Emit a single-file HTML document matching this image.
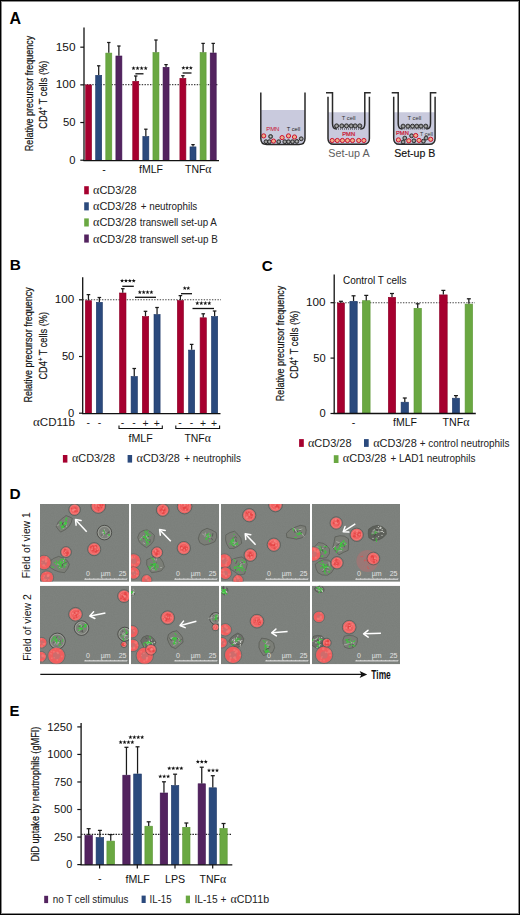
<!DOCTYPE html>
<html><head><meta charset="utf-8"><title>Figure</title>
<style>
html,body{margin:0;padding:0;background:#fff;}
body{width:520px;height:915px;overflow:hidden;}
svg{display:block;font-family:"Liberation Sans", sans-serif;}
</style></head>
<body>
<svg width="520" height="915" viewBox="0 0 520 915">
<rect width="520" height="915" fill="#fff"/>
<text x="9.6" y="23.5" font-size="16" fill="#000" font-weight="bold">A</text>
<line x1="84" y1="27.5" x2="84" y2="161" stroke="#111" stroke-width="1.3"/>
<line x1="80.3" y1="160.2" x2="84" y2="160.2" stroke="#111" stroke-width="1.2"/>
<line x1="80.3" y1="122.52499999999999" x2="84" y2="122.52499999999999" stroke="#111" stroke-width="1.2"/>
<line x1="80.3" y1="84.85" x2="84" y2="84.85" stroke="#111" stroke-width="1.2"/>
<line x1="80.3" y1="47.175" x2="84" y2="47.175" stroke="#111" stroke-width="1.2"/>
<text x="75.5" y="50.574999999999996" font-size="10.0" fill="#111" text-anchor="end" textLength="19.8" lengthAdjust="spacingAndGlyphs">150</text>
<text x="75.5" y="88.25" font-size="10.0" fill="#111" text-anchor="end" textLength="19.8" lengthAdjust="spacingAndGlyphs">100</text>
<text x="75.5" y="125.925" font-size="10.0" fill="#111" text-anchor="end" textLength="12.5" lengthAdjust="spacingAndGlyphs">50</text>
<text x="75.5" y="163.6" font-size="10.0" fill="#111" text-anchor="end" textLength="6.2" lengthAdjust="spacingAndGlyphs">0</text>
<text transform="translate(33.2,93.4) rotate(-90)" x="0" y="0" font-size="11.2" fill="#111" text-anchor="middle" stroke="#111" stroke-width="0.2" textLength="115.5" lengthAdjust="spacingAndGlyphs">Relative precursor frequency</text>
<text transform="translate(47.3,94.7) rotate(-90)" x="0" y="0" font-size="11.2" fill="#111" text-anchor="middle" stroke="#111" stroke-width="0.2" textLength="68" lengthAdjust="spacingAndGlyphs">CD4<tspan font-size="7" dy="-4">+</tspan><tspan dy="4"> T cells (%)</tspan></text>
<line x1="84" y1="84.6" x2="218.5" y2="84.6" stroke="#444" stroke-width="1.1" stroke-dasharray="1.4 1.35"/>
<rect x="85.60" y="84.90" width="6.00" height="75.30" fill="#a6002f" stroke="#8c0027" stroke-width="0.6"/>
<rect x="95.70" y="75.30" width="6.00" height="84.90" fill="#2b4a7d" stroke="#1d3866" stroke-width="0.6"/>
<line x1="98.69999999999999" y1="75" x2="98.69999999999999" y2="65.8" stroke="#1a1a1a" stroke-width="1.25"/>
<line x1="96.99999999999999" y1="65.8" x2="100.39999999999999" y2="65.8" stroke="#1a1a1a" stroke-width="1.25"/>
<rect x="105.80" y="53.10" width="6.00" height="107.10" fill="#6aa842" stroke="#5a9634" stroke-width="0.6"/>
<line x1="108.8" y1="52.8" x2="108.8" y2="42.5" stroke="#1a1a1a" stroke-width="1.25"/>
<line x1="107.1" y1="42.5" x2="110.5" y2="42.5" stroke="#1a1a1a" stroke-width="1.25"/>
<rect x="115.90" y="56.00" width="6.00" height="104.20" fill="#53235f" stroke="#3f1450" stroke-width="0.6"/>
<line x1="118.89999999999999" y1="55.7" x2="118.89999999999999" y2="46" stroke="#1a1a1a" stroke-width="1.25"/>
<line x1="117.19999999999999" y1="46" x2="120.6" y2="46" stroke="#1a1a1a" stroke-width="1.25"/>
<rect x="132.75" y="81.30" width="6.00" height="78.90" fill="#a6002f" stroke="#8c0027" stroke-width="0.6"/>
<line x1="135.75" y1="81" x2="135.75" y2="76" stroke="#1a1a1a" stroke-width="1.25"/>
<line x1="134.05" y1="76" x2="137.45" y2="76" stroke="#1a1a1a" stroke-width="1.25"/>
<rect x="142.85" y="136.50" width="6.00" height="23.70" fill="#2b4a7d" stroke="#1d3866" stroke-width="0.6"/>
<line x1="145.84999999999997" y1="136.2" x2="145.84999999999997" y2="129.2" stroke="#1a1a1a" stroke-width="1.25"/>
<line x1="144.14999999999998" y1="129.2" x2="147.54999999999995" y2="129.2" stroke="#1a1a1a" stroke-width="1.25"/>
<rect x="152.95" y="52.60" width="6.00" height="107.60" fill="#6aa842" stroke="#5a9634" stroke-width="0.6"/>
<line x1="155.95" y1="52.3" x2="155.95" y2="40" stroke="#1a1a1a" stroke-width="1.25"/>
<line x1="154.25" y1="40" x2="157.64999999999998" y2="40" stroke="#1a1a1a" stroke-width="1.25"/>
<rect x="163.05" y="67.30" width="6.00" height="92.90" fill="#53235f" stroke="#3f1450" stroke-width="0.6"/>
<line x1="166.05" y1="67" x2="166.05" y2="64.6" stroke="#1a1a1a" stroke-width="1.25"/>
<line x1="164.35000000000002" y1="64.6" x2="167.75" y2="64.6" stroke="#1a1a1a" stroke-width="1.25"/>
<rect x="179.90" y="78.30" width="6.00" height="81.90" fill="#a6002f" stroke="#8c0027" stroke-width="0.6"/>
<line x1="182.89999999999998" y1="78" x2="182.89999999999998" y2="75.7" stroke="#1a1a1a" stroke-width="1.25"/>
<line x1="181.2" y1="75.7" x2="184.59999999999997" y2="75.7" stroke="#1a1a1a" stroke-width="1.25"/>
<rect x="190.00" y="146.90" width="6.00" height="13.30" fill="#2b4a7d" stroke="#1d3866" stroke-width="0.6"/>
<line x1="193.0" y1="146.6" x2="193.0" y2="144.6" stroke="#1a1a1a" stroke-width="1.25"/>
<line x1="191.3" y1="144.6" x2="194.7" y2="144.6" stroke="#1a1a1a" stroke-width="1.25"/>
<rect x="200.10" y="52.60" width="6.00" height="107.60" fill="#6aa842" stroke="#5a9634" stroke-width="0.6"/>
<line x1="203.09999999999997" y1="52.3" x2="203.09999999999997" y2="43.4" stroke="#1a1a1a" stroke-width="1.25"/>
<line x1="201.39999999999998" y1="43.4" x2="204.79999999999995" y2="43.4" stroke="#1a1a1a" stroke-width="1.25"/>
<rect x="210.20" y="53.00" width="6.00" height="107.20" fill="#53235f" stroke="#3f1450" stroke-width="0.6"/>
<line x1="213.2" y1="52.7" x2="213.2" y2="43.4" stroke="#1a1a1a" stroke-width="1.25"/>
<line x1="211.5" y1="43.4" x2="214.89999999999998" y2="43.4" stroke="#1a1a1a" stroke-width="1.25"/>
<line x1="83.4" y1="160.6" x2="219" y2="160.6" stroke="#111" stroke-width="1.3"/>
<path d="M133.50,66.10 L134.03,67.52 L135.54,67.59 L134.36,68.53 L134.76,69.99 L133.50,69.15 L132.24,69.99 L132.64,68.53 L131.46,67.59 L132.97,67.52Z M137.57,66.10 L138.10,67.52 L139.61,67.59 L138.42,68.53 L138.83,69.99 L137.57,69.15 L136.30,69.99 L136.71,68.53 L135.52,67.59 L137.04,67.52Z M141.63,66.10 L142.16,67.52 L143.68,67.59 L142.49,68.53 L142.90,69.99 L141.63,69.15 L140.37,69.99 L140.78,68.53 L139.59,67.59 L141.10,67.52Z M145.70,66.10 L146.23,67.52 L147.74,67.59 L146.56,68.53 L146.96,69.99 L145.70,69.15 L144.44,69.99 L144.84,68.53 L143.66,67.59 L145.17,67.52Z" fill="#111"/>
<line x1="135.4" y1="73.8" x2="143.5" y2="73.8" stroke="#111" stroke-width="1.3"/>
<path d="M183.35,65.80 L183.88,67.22 L185.39,67.29 L184.21,68.23 L184.61,69.69 L183.35,68.85 L182.09,69.69 L182.49,68.23 L181.31,67.29 L182.82,67.22Z M187.10,65.80 L187.63,67.22 L189.14,67.29 L187.96,68.23 L188.36,69.69 L187.10,68.85 L185.84,69.69 L186.24,68.23 L185.06,67.29 L186.57,67.22Z M190.85,65.80 L191.38,67.22 L192.89,67.29 L191.71,68.23 L192.11,69.69 L190.85,68.85 L189.59,69.69 L189.99,68.23 L188.81,67.29 L190.32,67.22Z" fill="#111"/>
<line x1="182.6" y1="73.0" x2="191.5" y2="73.0" stroke="#111" stroke-width="1.3"/>
<text x="103.9" y="172.6" font-size="10.5" fill="#111" text-anchor="middle">-</text>
<text x="139" y="173.4" font-size="10.8" fill="#111" textLength="24" lengthAdjust="spacingAndGlyphs">fMLF</text>
<text x="185" y="173.4" font-size="10.8" fill="#111" textLength="26.5" lengthAdjust="spacingAndGlyphs">TNF<tspan font-family="Liberation Serif" font-size="12.1">α</tspan></text>
<rect x="84.20" y="186.20" width="4.60" height="8.10" fill="#a6002f"/>
<text x="93.0" y="194.2" font-size="10.3" fill="#222" textLength="43.6" lengthAdjust="spacingAndGlyphs"><tspan font-family="Liberation Serif" font-size="11.5">α</tspan>CD3/28</text>
<rect x="84.20" y="202.30" width="4.60" height="8.10" fill="#2b4a7d"/>
<text x="93.0" y="210.29999999999998" font-size="10.3" fill="#222" textLength="43.6" lengthAdjust="spacingAndGlyphs"><tspan font-family="Liberation Serif" font-size="11.5">α</tspan>CD3/28</text>
<text x="140.7" y="210.29999999999998" font-size="10.3" fill="#222" textLength="56.6" lengthAdjust="spacingAndGlyphs">+ neutrophils</text>
<rect x="84.20" y="218.40" width="4.60" height="8.10" fill="#6aa842"/>
<text x="93.0" y="226.39999999999998" font-size="10.3" fill="#222" textLength="43.6" lengthAdjust="spacingAndGlyphs"><tspan font-family="Liberation Serif" font-size="11.5">α</tspan>CD3/28</text>
<text x="139.7" y="226.39999999999998" font-size="10.3" fill="#222" textLength="77.2" lengthAdjust="spacingAndGlyphs">transwell set-up A</text>
<rect x="84.20" y="234.50" width="4.60" height="8.10" fill="#53235f"/>
<text x="93.0" y="242.5" font-size="10.3" fill="#222" textLength="43.6" lengthAdjust="spacingAndGlyphs"><tspan font-family="Liberation Serif" font-size="11.5">α</tspan>CD3/28</text>
<text x="139.7" y="242.5" font-size="10.3" fill="#222" textLength="78.1" lengthAdjust="spacingAndGlyphs">transwell set-up B</text>
<path d="M260.8,110 V138.5 Q260.8,144.5 266.8,144.5 H299 Q305,144.5 305,138.5 V110 Z" fill="#c9cadd"/>
<text x="272.8" y="130.8" font-size="6.2" fill="#c8102e" text-anchor="middle" textLength="13.3" lengthAdjust="spacingAndGlyphs">PMN</text>
<text x="293.5" y="130.8" font-size="6.2" fill="#222" text-anchor="middle" textLength="13.5" lengthAdjust="spacingAndGlyphs">T cell</text>
<circle cx="266.0" cy="141.7" r="1.95" fill="#8a8a8a" stroke="#222" stroke-width="0.9"/><circle cx="266.0" cy="141.7" r="0.5" fill="#ddd"/>
<circle cx="269.4" cy="141.7" r="1.95" fill="#8a8a8a" stroke="#222" stroke-width="0.9"/><circle cx="269.4" cy="141.7" r="0.5" fill="#ddd"/>
<circle cx="278.7" cy="141.7" r="1.95" fill="#8a8a8a" stroke="#222" stroke-width="0.9"/><circle cx="278.7" cy="141.7" r="0.5" fill="#ddd"/>
<circle cx="284.8" cy="141.7" r="1.95" fill="#8a8a8a" stroke="#222" stroke-width="0.9"/><circle cx="284.8" cy="141.7" r="0.5" fill="#ddd"/>
<circle cx="288.5" cy="141.7" r="1.95" fill="#8a8a8a" stroke="#222" stroke-width="0.9"/><circle cx="288.5" cy="141.7" r="0.5" fill="#ddd"/>
<circle cx="292.5" cy="141.7" r="1.95" fill="#8a8a8a" stroke="#222" stroke-width="0.9"/><circle cx="292.5" cy="141.7" r="0.5" fill="#ddd"/>
<circle cx="296.8" cy="141.4" r="1.95" fill="#8a8a8a" stroke="#222" stroke-width="0.9"/><circle cx="296.8" cy="141.4" r="0.5" fill="#ddd"/>
<circle cx="301.2" cy="138.8" r="1.95" fill="#8a8a8a" stroke="#222" stroke-width="0.9"/><circle cx="301.2" cy="138.8" r="0.5" fill="#ddd"/>
<circle cx="270.6" cy="136.5" r="1.95" fill="#8a8a8a" stroke="#222" stroke-width="0.9"/><circle cx="270.6" cy="136.5" r="0.5" fill="#ddd"/>
<circle cx="263.7" cy="135.9" r="2.1" fill="#eeb08a" stroke="#cc1030" stroke-width="1.0"/>
<circle cx="273.5" cy="141.1" r="2.1" fill="#eeb08a" stroke="#cc1030" stroke-width="1.0"/>
<circle cx="282.1" cy="137.6" r="2.1" fill="#eeb08a" stroke="#cc1030" stroke-width="1.0"/>
<circle cx="288.5" cy="135.9" r="2.1" fill="#eeb08a" stroke="#cc1030" stroke-width="1.0"/>
<circle cx="294.5" cy="137.0" r="2.1" fill="#eeb08a" stroke="#cc1030" stroke-width="1.0"/>
<path d="M260.8,92.4 V138.5 Q260.8,144.5 266.8,144.5 H299 Q305,144.5 305,138.5 V92.4" fill="none" stroke="#2a2a2a" stroke-width="1.5"/>
<path d="M328,112.2 V138.5 Q328,144.3 333.8,144.3 H363.59999999999997 Q369.4,144.3 369.4,138.5 V112.2 Z" fill="#c9cadd"/>
<text x="348.65" y="119.5" font-size="5.8" fill="#333" text-anchor="middle" textLength="13.7" lengthAdjust="spacingAndGlyphs">T cell</text>
<circle cx="336.6" cy="125.9" r="2.05" fill="#8a8a8a" stroke="#222" stroke-width="0.9"/><circle cx="336.6" cy="125.9" r="0.5" fill="#ddd"/>
<circle cx="341.8" cy="125.9" r="2.05" fill="#8a8a8a" stroke="#222" stroke-width="0.9"/><circle cx="341.8" cy="125.9" r="0.5" fill="#ddd"/>
<circle cx="346.5" cy="125.9" r="2.05" fill="#8a8a8a" stroke="#222" stroke-width="0.9"/><circle cx="346.5" cy="125.9" r="0.5" fill="#ddd"/>
<circle cx="351.2" cy="125.9" r="2.05" fill="#8a8a8a" stroke="#222" stroke-width="0.9"/><circle cx="351.2" cy="125.9" r="0.5" fill="#ddd"/>
<circle cx="355.2" cy="125.9" r="2.05" fill="#8a8a8a" stroke="#222" stroke-width="0.9"/><circle cx="355.2" cy="125.9" r="0.5" fill="#ddd"/>
<circle cx="359.8" cy="125.9" r="2.05" fill="#8a8a8a" stroke="#222" stroke-width="0.9"/><circle cx="359.8" cy="125.9" r="0.5" fill="#ddd"/>
<line x1="336.1" y1="129" x2="361.19999999999993" y2="129" stroke="#111" stroke-width="0.9" stroke-dasharray="0.9 1.1"/>
<text x="348.65" y="136.3" font-size="5.8" fill="#c8102e" text-anchor="middle" textLength="12.8" lengthAdjust="spacingAndGlyphs" stroke="#c8102e" stroke-width="0.2">PMN</text>
<circle cx="332.2" cy="140.5" r="2.1" fill="#eeb08a" stroke="#cc1030" stroke-width="1.0"/>
<circle cx="337.3" cy="140.5" r="2.1" fill="#eeb08a" stroke="#cc1030" stroke-width="1.0"/>
<circle cx="342.4" cy="140.5" r="2.1" fill="#eeb08a" stroke="#cc1030" stroke-width="1.0"/>
<circle cx="347.5" cy="140.5" r="2.1" fill="#eeb08a" stroke="#cc1030" stroke-width="1.0"/>
<circle cx="352.5" cy="140.5" r="2.1" fill="#eeb08a" stroke="#cc1030" stroke-width="1.0"/>
<circle cx="358.7" cy="140.5" r="2.1" fill="#eeb08a" stroke="#cc1030" stroke-width="1.0"/>
<circle cx="363.9" cy="140.5" r="2.1" fill="#eeb08a" stroke="#cc1030" stroke-width="1.0"/>
<path d="M328,96.7 V138.5 Q328,144.3 333.8,144.3 H363.59999999999997 Q369.4,144.3 369.4,138.5 V96.7" fill="none" stroke="#2a2a2a" stroke-width="1.5"/>
<path d="M326,92.7 H332.5 V123.5 Q332.5,129 336.5,129" fill="none" stroke="#2a2a2a" stroke-width="1.5"/>
<path d="M360.79999999999995,129 Q364.79999999999995,129 364.79999999999995,123.5 V92.7 H370.7" fill="none" stroke="#2a2a2a" stroke-width="1.5"/>
<path d="M393.7,112.2 V138.5 Q393.7,144.3 399.5,144.3 H429.29999999999995 Q435.09999999999997,144.3 435.09999999999997,138.5 V112.2 Z" fill="#c9cadd"/>
<text x="414.34999999999997" y="119.5" font-size="5.8" fill="#333" text-anchor="middle" textLength="13.7" lengthAdjust="spacingAndGlyphs">T cell</text>
<circle cx="403.1" cy="126.2" r="2.05" fill="#8a8a8a" stroke="#222" stroke-width="0.9"/><circle cx="403.1" cy="126.2" r="0.5" fill="#ddd"/>
<circle cx="407.9" cy="126.2" r="2.05" fill="#8a8a8a" stroke="#222" stroke-width="0.9"/><circle cx="407.9" cy="126.2" r="0.5" fill="#ddd"/>
<circle cx="412.5" cy="126.2" r="2.05" fill="#8a8a8a" stroke="#222" stroke-width="0.9"/><circle cx="412.5" cy="126.2" r="0.5" fill="#ddd"/>
<circle cx="416.8" cy="126.2" r="2.05" fill="#8a8a8a" stroke="#222" stroke-width="0.9"/><circle cx="416.8" cy="126.2" r="0.5" fill="#ddd"/>
<circle cx="421.0" cy="126.2" r="2.05" fill="#8a8a8a" stroke="#222" stroke-width="0.9"/><circle cx="421.0" cy="126.2" r="0.5" fill="#ddd"/>
<circle cx="425.8" cy="126.2" r="2.05" fill="#8a8a8a" stroke="#222" stroke-width="0.9"/><circle cx="425.8" cy="126.2" r="0.5" fill="#ddd"/>
<line x1="401.8" y1="128.9" x2="426.8999999999999" y2="128.9" stroke="#111" stroke-width="0.9" stroke-dasharray="0.9 1.1"/>
<text x="402.4" y="135.4" font-size="5.8" fill="#c8102e" text-anchor="middle" textLength="12.8" lengthAdjust="spacingAndGlyphs" stroke="#c8102e" stroke-width="0.2">PMN</text>
<text x="426.5" y="135.6" font-size="5.8" fill="#333" text-anchor="middle" textLength="12.8" lengthAdjust="spacingAndGlyphs">T cell</text>
<circle cx="411.6" cy="135.8" r="1.95" fill="#8a8a8a" stroke="#222" stroke-width="0.9"/><circle cx="411.6" cy="135.8" r="0.5" fill="#ddd"/>
<circle cx="404.8" cy="138.1" r="1.95" fill="#8a8a8a" stroke="#222" stroke-width="0.9"/><circle cx="404.8" cy="138.1" r="0.5" fill="#ddd"/>
<circle cx="403.1" cy="142.0" r="1.95" fill="#8a8a8a" stroke="#222" stroke-width="0.9"/><circle cx="403.1" cy="142.0" r="0.5" fill="#ddd"/>
<circle cx="413.9" cy="140.8" r="1.95" fill="#8a8a8a" stroke="#222" stroke-width="0.9"/><circle cx="413.9" cy="140.8" r="0.5" fill="#ddd"/>
<circle cx="423.4" cy="141.2" r="1.95" fill="#8a8a8a" stroke="#222" stroke-width="0.9"/><circle cx="423.4" cy="141.2" r="0.5" fill="#ddd"/>
<circle cx="426.1" cy="138.1" r="1.95" fill="#8a8a8a" stroke="#222" stroke-width="0.9"/><circle cx="426.1" cy="138.1" r="0.5" fill="#ddd"/>
<circle cx="415.7" cy="135.5" r="2.1" fill="#eeb08a" stroke="#cc1030" stroke-width="1.0"/>
<circle cx="398.4" cy="139.9" r="2.1" fill="#eeb08a" stroke="#cc1030" stroke-width="1.0"/>
<circle cx="408.8" cy="140.8" r="2.1" fill="#eeb08a" stroke="#cc1030" stroke-width="1.0"/>
<circle cx="419.0" cy="140.4" r="2.1" fill="#eeb08a" stroke="#cc1030" stroke-width="1.0"/>
<circle cx="430.7" cy="139.3" r="2.1" fill="#eeb08a" stroke="#cc1030" stroke-width="1.0"/>
<path d="M393.7,96.7 V138.5 Q393.7,144.3 399.5,144.3 H429.29999999999995 Q435.09999999999997,144.3 435.09999999999997,138.5 V96.7" fill="none" stroke="#2a2a2a" stroke-width="1.5"/>
<path d="M391.7,92.7 H398.2 V123.5 Q398.2,129 402.2,129" fill="none" stroke="#2a2a2a" stroke-width="1.5"/>
<path d="M426.49999999999994,129 Q430.49999999999994,129 430.49999999999994,123.5 V92.7 H436.4" fill="none" stroke="#2a2a2a" stroke-width="1.5"/>
<text x="328.2" y="157.3" font-size="10.6" fill="#5e5e5e" textLength="41.4" lengthAdjust="spacingAndGlyphs">Set-up A</text>
<text x="394.2" y="157.3" font-size="10.6" fill="#111" textLength="41.2" lengthAdjust="spacingAndGlyphs" stroke="#111" stroke-width="0.15">Set-up B</text>
<text x="9.8" y="270.2" font-size="15.4" fill="#000" font-weight="bold">B</text>
<line x1="82.7" y1="277.3" x2="82.7" y2="413.8" stroke="#111" stroke-width="1.3"/>
<line x1="79" y1="413.2" x2="82.7" y2="413.2" stroke="#111" stroke-width="1.2"/>
<line x1="79" y1="356.5" x2="82.7" y2="356.5" stroke="#111" stroke-width="1.2"/>
<line x1="79" y1="299.8" x2="82.7" y2="299.8" stroke="#111" stroke-width="1.2"/>
<text x="74.3" y="303.2" font-size="10.0" fill="#111" text-anchor="end" textLength="19.5" lengthAdjust="spacingAndGlyphs">100</text>
<text x="74.3" y="359.9" font-size="10.0" fill="#111" text-anchor="end" textLength="12.4" lengthAdjust="spacingAndGlyphs">50</text>
<text x="74.3" y="416.59999999999997" font-size="10.0" fill="#111" text-anchor="end" textLength="6.2" lengthAdjust="spacingAndGlyphs">0</text>
<text transform="translate(32.4,344.9) rotate(-90)" x="0" y="0" font-size="11.2" fill="#111" text-anchor="middle" stroke="#111" stroke-width="0.2" textLength="115.3" lengthAdjust="spacingAndGlyphs">Relative precursor frequency</text>
<text transform="translate(46.5,345.7) rotate(-90)" x="0" y="0" font-size="11.2" fill="#111" text-anchor="middle" stroke="#111" stroke-width="0.2" textLength="67.7" lengthAdjust="spacingAndGlyphs">CD4<tspan font-size="7" dy="-4">+</tspan><tspan dy="4"> T cells (%)</tspan></text>
<line x1="82.7" y1="299.8" x2="221" y2="299.8" stroke="#444" stroke-width="1.1" stroke-dasharray="1.4 1.35"/>
<rect x="85.30" y="300.70" width="6.30" height="112.50" fill="#a6002f" stroke="#8c0027" stroke-width="0.6"/>
<line x1="88.45" y1="300.4" x2="88.45" y2="294.6" stroke="#1a1a1a" stroke-width="1.25"/>
<line x1="86.65" y1="294.6" x2="90.25" y2="294.6" stroke="#1a1a1a" stroke-width="1.25"/>
<rect x="96.30" y="302.30" width="6.10" height="110.90" fill="#2b4a7d" stroke="#1d3866" stroke-width="0.6"/>
<line x1="99.35" y1="302" x2="99.35" y2="297.5" stroke="#1a1a1a" stroke-width="1.25"/>
<line x1="97.55" y1="297.5" x2="101.14999999999999" y2="297.5" stroke="#1a1a1a" stroke-width="1.25"/>
<rect x="119.50" y="293.00" width="6.50" height="120.20" fill="#a6002f" stroke="#8c0027" stroke-width="0.6"/>
<line x1="122.75" y1="292.7" x2="122.75" y2="288.7" stroke="#1a1a1a" stroke-width="1.25"/>
<line x1="120.95" y1="288.7" x2="124.55" y2="288.7" stroke="#1a1a1a" stroke-width="1.25"/>
<rect x="131.10" y="376.50" width="6.30" height="36.70" fill="#2b4a7d" stroke="#1d3866" stroke-width="0.6"/>
<line x1="134.25" y1="376.2" x2="134.25" y2="368.5" stroke="#1a1a1a" stroke-width="1.25"/>
<line x1="132.45" y1="368.5" x2="136.05" y2="368.5" stroke="#1a1a1a" stroke-width="1.25"/>
<rect x="142.30" y="316.50" width="6.40" height="96.70" fill="#a6002f" stroke="#8c0027" stroke-width="0.6"/>
<line x1="145.5" y1="316.2" x2="145.5" y2="311.3" stroke="#1a1a1a" stroke-width="1.25"/>
<line x1="143.7" y1="311.3" x2="147.3" y2="311.3" stroke="#1a1a1a" stroke-width="1.25"/>
<rect x="154.00" y="314.50" width="6.10" height="98.70" fill="#2b4a7d" stroke="#1d3866" stroke-width="0.6"/>
<line x1="157.05" y1="314.2" x2="157.05" y2="307.5" stroke="#1a1a1a" stroke-width="1.25"/>
<line x1="155.25" y1="307.5" x2="158.85000000000002" y2="307.5" stroke="#1a1a1a" stroke-width="1.25"/>
<rect x="177.30" y="300.50" width="6.20" height="112.70" fill="#a6002f" stroke="#8c0027" stroke-width="0.6"/>
<line x1="180.4" y1="300.2" x2="180.4" y2="295.6" stroke="#1a1a1a" stroke-width="1.25"/>
<line x1="178.6" y1="295.6" x2="182.20000000000002" y2="295.6" stroke="#1a1a1a" stroke-width="1.25"/>
<rect x="188.60" y="350.10" width="6.10" height="63.10" fill="#2b4a7d" stroke="#1d3866" stroke-width="0.6"/>
<line x1="191.65" y1="349.8" x2="191.65" y2="344.4" stroke="#1a1a1a" stroke-width="1.25"/>
<line x1="189.85" y1="344.4" x2="193.45000000000002" y2="344.4" stroke="#1a1a1a" stroke-width="1.25"/>
<rect x="200.10" y="317.80" width="6.30" height="95.40" fill="#a6002f" stroke="#8c0027" stroke-width="0.6"/>
<line x1="203.25" y1="317.5" x2="203.25" y2="313.8" stroke="#1a1a1a" stroke-width="1.25"/>
<line x1="201.45" y1="313.8" x2="205.05" y2="313.8" stroke="#1a1a1a" stroke-width="1.25"/>
<rect x="211.50" y="316.50" width="6.20" height="96.70" fill="#2b4a7d" stroke="#1d3866" stroke-width="0.6"/>
<line x1="214.6" y1="316.2" x2="214.6" y2="311" stroke="#1a1a1a" stroke-width="1.25"/>
<line x1="212.79999999999998" y1="311" x2="216.4" y2="311" stroke="#1a1a1a" stroke-width="1.25"/>
<line x1="82.1" y1="413.6" x2="220.5" y2="413.6" stroke="#111" stroke-width="1.3"/>
<path d="M122.10,278.70 L122.63,280.12 L124.14,280.19 L122.96,281.13 L123.36,282.59 L122.10,281.75 L120.84,282.59 L121.24,281.13 L120.06,280.19 L121.57,280.12Z M125.97,278.70 L126.50,280.12 L128.01,280.19 L126.82,281.13 L127.23,282.59 L125.97,281.75 L124.70,282.59 L125.11,281.13 L123.92,280.19 L125.44,280.12Z M129.83,278.70 L130.36,280.12 L131.88,280.19 L130.69,281.13 L131.10,282.59 L129.83,281.75 L128.57,282.59 L128.98,281.13 L127.79,280.19 L129.30,280.12Z M133.70,278.70 L134.23,280.12 L135.74,280.19 L134.56,281.13 L134.96,282.59 L133.70,281.75 L132.44,282.59 L132.84,281.13 L131.66,280.19 L133.17,280.12Z" fill="#111"/>
<line x1="122.3" y1="286.3" x2="133.8" y2="286.3" stroke="#111" stroke-width="1.3"/>
<path d="M139.80,290.10 L140.33,291.52 L141.84,291.59 L140.66,292.53 L141.06,293.99 L139.80,293.15 L138.54,293.99 L138.94,292.53 L137.76,291.59 L139.27,291.52Z M143.67,290.10 L144.20,291.52 L145.71,291.59 L144.52,292.53 L144.93,293.99 L143.67,293.15 L142.40,293.99 L142.81,292.53 L141.62,291.59 L143.14,291.52Z M147.53,290.10 L148.06,291.52 L149.58,291.59 L148.39,292.53 L148.80,293.99 L147.53,293.15 L146.27,293.99 L146.68,292.53 L145.49,291.59 L147.00,291.52Z M151.40,290.10 L151.93,291.52 L153.44,291.59 L152.26,292.53 L152.66,293.99 L151.40,293.15 L150.14,293.99 L150.54,292.53 L149.36,291.59 L150.87,291.52Z" fill="#111"/>
<line x1="135" y1="297.3" x2="156" y2="297.3" stroke="#111" stroke-width="1.3"/>
<path d="M184.75,286.00 L185.28,287.42 L186.79,287.49 L185.61,288.43 L186.01,289.89 L184.75,289.05 L183.49,289.89 L183.89,288.43 L182.71,287.49 L184.22,287.42Z M188.25,286.00 L188.78,287.42 L190.29,287.49 L189.11,288.43 L189.51,289.89 L188.25,289.05 L186.99,289.89 L187.39,288.43 L186.21,287.49 L187.72,287.42Z" fill="#111"/>
<line x1="181" y1="293.7" x2="192" y2="293.7" stroke="#111" stroke-width="1.3"/>
<path d="M197.30,301.10 L197.83,302.52 L199.34,302.59 L198.16,303.53 L198.56,304.99 L197.30,304.15 L196.04,304.99 L196.44,303.53 L195.26,302.59 L196.77,302.52Z M201.30,301.10 L201.83,302.52 L203.34,302.59 L202.16,303.53 L202.56,304.99 L201.30,304.15 L200.04,304.99 L200.44,303.53 L199.26,302.59 L200.77,302.52Z M205.30,301.10 L205.83,302.52 L207.34,302.59 L206.16,303.53 L206.56,304.99 L205.30,304.15 L204.04,304.99 L204.44,303.53 L203.26,302.59 L204.77,302.52Z M209.30,301.10 L209.83,302.52 L211.34,302.59 L210.16,303.53 L210.56,304.99 L209.30,304.15 L208.04,304.99 L208.44,303.53 L207.26,302.59 L208.77,302.52Z" fill="#111"/>
<line x1="192.5" y1="308.5" x2="214" y2="308.5" stroke="#111" stroke-width="1.3"/>
<text x="33" y="426.3" font-size="10.4" fill="#1a1a1a" textLength="42" lengthAdjust="spacingAndGlyphs"><tspan font-family="Liberation Serif" font-size="11.6">α</tspan>CD11b</text>
<text x="88.3" y="426.3" font-size="10.4" fill="#1a1a1a" text-anchor="middle">-</text>
<text x="99.4" y="426.3" font-size="10.4" fill="#1a1a1a" text-anchor="middle">-</text>
<text x="122.5" y="426.3" font-size="10.4" fill="#1a1a1a" text-anchor="middle">-</text>
<text x="134" y="426.3" font-size="10.4" fill="#1a1a1a" text-anchor="middle">-</text>
<text x="145.6" y="427.3" font-size="10.4" fill="#1a1a1a" text-anchor="middle">+</text>
<text x="156.7" y="427.3" font-size="10.4" fill="#1a1a1a" text-anchor="middle">+</text>
<text x="180" y="426.3" font-size="10.4" fill="#1a1a1a" text-anchor="middle">-</text>
<text x="191.5" y="426.3" font-size="10.4" fill="#1a1a1a" text-anchor="middle">-</text>
<text x="203" y="427.3" font-size="10.4" fill="#1a1a1a" text-anchor="middle">+</text>
<text x="214" y="427.3" font-size="10.4" fill="#1a1a1a" text-anchor="middle">+</text>
<path d="M119,425.6 V428.5 H162.3 V425.6" fill="none" stroke="#111" stroke-width="1.1"/>
<path d="M175.8,425.6 V428.5 H219.6 V425.6" fill="none" stroke="#111" stroke-width="1.1"/>
<text x="128.5" y="442" font-size="10.8" fill="#111" textLength="24.2" lengthAdjust="spacingAndGlyphs">fMLF</text>
<text x="184.4" y="442" font-size="10.8" fill="#111" textLength="26.4" lengthAdjust="spacingAndGlyphs">TNF<tspan font-family="Liberation Serif" font-size="12.1">α</tspan></text>
<rect x="62.90" y="455.00" width="4.50" height="7.60" fill="#a6002f"/>
<text x="71.9" y="462.3" font-size="10.3" fill="#222" textLength="43.3" lengthAdjust="spacingAndGlyphs"><tspan font-family="Liberation Serif" font-size="11.5">α</tspan>CD3/28</text>
<rect x="127.60" y="455.00" width="4.50" height="7.60" fill="#2b4a7d"/>
<text x="136.6" y="462.3" font-size="10.3" fill="#222" textLength="43.3" lengthAdjust="spacingAndGlyphs"><tspan font-family="Liberation Serif" font-size="11.5">α</tspan>CD3/28</text>
<text x="184.3" y="462.3" font-size="10.3" fill="#222" textLength="56.6" lengthAdjust="spacingAndGlyphs">+ neutrophils</text>
<text x="261.8" y="270.8" font-size="15.2" fill="#000" font-weight="bold">C</text>
<line x1="334.2" y1="274.4" x2="334.2" y2="414" stroke="#111" stroke-width="1.3"/>
<line x1="330.5" y1="413.5" x2="334.2" y2="413.5" stroke="#111" stroke-width="1.2"/>
<line x1="330.5" y1="358.1" x2="334.2" y2="358.1" stroke="#111" stroke-width="1.2"/>
<line x1="330.5" y1="302.7" x2="334.2" y2="302.7" stroke="#111" stroke-width="1.2"/>
<text x="325.6" y="306.09999999999997" font-size="10.0" fill="#111" text-anchor="end" textLength="19.5" lengthAdjust="spacingAndGlyphs">100</text>
<text x="325.6" y="361.5" font-size="10.0" fill="#111" text-anchor="end" textLength="12.4" lengthAdjust="spacingAndGlyphs">50</text>
<text x="325.6" y="416.9" font-size="10.0" fill="#111" text-anchor="end" textLength="6.2" lengthAdjust="spacingAndGlyphs">0</text>
<text transform="translate(283.5,343.4) rotate(-90)" x="0" y="0" font-size="11.2" fill="#111" text-anchor="middle" stroke="#111" stroke-width="0.2" textLength="115.5" lengthAdjust="spacingAndGlyphs">Relative precursor frequency</text>
<text transform="translate(297.6,344.7) rotate(-90)" x="0" y="0" font-size="11.2" fill="#111" text-anchor="middle" stroke="#111" stroke-width="0.2" textLength="68" lengthAdjust="spacingAndGlyphs">CD4<tspan font-size="7" dy="-4">+</tspan><tspan dy="4"> T cells (%)</tspan></text>
<text x="343" y="283.7" font-size="10.3" fill="#111" textLength="63.5" lengthAdjust="spacingAndGlyphs">Control T cells</text>
<line x1="334.2" y1="302.7" x2="475" y2="302.7" stroke="#444" stroke-width="1.1" stroke-dasharray="1.4 1.35"/>
<rect x="337.40" y="303.00" width="7.10" height="110.50" fill="#a6002f" stroke="#8c0027" stroke-width="0.6"/>
<line x1="340.95000000000005" y1="302.7" x2="340.95000000000005" y2="301.3" stroke="#1a1a1a" stroke-width="1.25"/>
<line x1="338.95000000000005" y1="301.3" x2="342.95000000000005" y2="301.3" stroke="#1a1a1a" stroke-width="1.25"/>
<rect x="349.90" y="301.30" width="7.30" height="112.20" fill="#2b4a7d" stroke="#1d3866" stroke-width="0.6"/>
<line x1="353.55" y1="301" x2="353.55" y2="295.8" stroke="#1a1a1a" stroke-width="1.25"/>
<line x1="351.55" y1="295.8" x2="355.55" y2="295.8" stroke="#1a1a1a" stroke-width="1.25"/>
<rect x="362.40" y="300.70" width="7.70" height="112.80" fill="#6aa842" stroke="#5a9634" stroke-width="0.6"/>
<line x1="366.25" y1="300.4" x2="366.25" y2="295.4" stroke="#1a1a1a" stroke-width="1.25"/>
<line x1="364.25" y1="295.4" x2="368.25" y2="295.4" stroke="#1a1a1a" stroke-width="1.25"/>
<rect x="388.30" y="297.30" width="7.40" height="116.20" fill="#a6002f" stroke="#8c0027" stroke-width="0.6"/>
<line x1="392.0" y1="297" x2="392.0" y2="293.5" stroke="#1a1a1a" stroke-width="1.25"/>
<line x1="390.0" y1="293.5" x2="394.0" y2="293.5" stroke="#1a1a1a" stroke-width="1.25"/>
<rect x="401.10" y="402.20" width="7.40" height="11.30" fill="#2b4a7d" stroke="#1d3866" stroke-width="0.6"/>
<line x1="404.8" y1="401.9" x2="404.8" y2="398" stroke="#1a1a1a" stroke-width="1.25"/>
<line x1="402.8" y1="398" x2="406.8" y2="398" stroke="#1a1a1a" stroke-width="1.25"/>
<rect x="414.00" y="308.30" width="7.40" height="105.20" fill="#6aa842" stroke="#5a9634" stroke-width="0.6"/>
<line x1="417.7" y1="308" x2="417.7" y2="303.8" stroke="#1a1a1a" stroke-width="1.25"/>
<line x1="415.7" y1="303.8" x2="419.7" y2="303.8" stroke="#1a1a1a" stroke-width="1.25"/>
<rect x="439.50" y="294.90" width="7.70" height="118.60" fill="#a6002f" stroke="#8c0027" stroke-width="0.6"/>
<line x1="443.35" y1="294.6" x2="443.35" y2="290.4" stroke="#1a1a1a" stroke-width="1.25"/>
<line x1="441.35" y1="290.4" x2="445.35" y2="290.4" stroke="#1a1a1a" stroke-width="1.25"/>
<rect x="452.40" y="398.20" width="7.10" height="15.30" fill="#2b4a7d" stroke="#1d3866" stroke-width="0.6"/>
<line x1="455.95000000000005" y1="397.9" x2="455.95000000000005" y2="395.6" stroke="#1a1a1a" stroke-width="1.25"/>
<line x1="453.95000000000005" y1="395.6" x2="457.95000000000005" y2="395.6" stroke="#1a1a1a" stroke-width="1.25"/>
<rect x="465.10" y="304.10" width="7.50" height="109.40" fill="#6aa842" stroke="#5a9634" stroke-width="0.6"/>
<line x1="468.85" y1="303.8" x2="468.85" y2="298.8" stroke="#1a1a1a" stroke-width="1.25"/>
<line x1="466.85" y1="298.8" x2="470.85" y2="298.8" stroke="#1a1a1a" stroke-width="1.25"/>
<line x1="333.6" y1="413.5" x2="475.8" y2="413.5" stroke="#111" stroke-width="1.3"/>
<text x="353.6" y="425.5" font-size="10.5" fill="#111" text-anchor="middle">-</text>
<text x="393" y="426.3" font-size="10.8" fill="#111" textLength="24" lengthAdjust="spacingAndGlyphs">fMLF</text>
<text x="442.5" y="426.3" font-size="10.8" fill="#111" textLength="26.9" lengthAdjust="spacingAndGlyphs">TNF<tspan font-family="Liberation Serif" font-size="12.1">α</tspan></text>
<rect x="299.10" y="439.10" width="4.70" height="7.80" fill="#a6002f"/>
<text x="307.9" y="446.6" font-size="10.3" fill="#222" textLength="43.6" lengthAdjust="spacingAndGlyphs"><tspan font-family="Liberation Serif" font-size="11.5">α</tspan>CD3/28</text>
<rect x="364.00" y="439.10" width="4.70" height="7.80" fill="#2b4a7d"/>
<text x="373.2" y="446.6" font-size="10.3" fill="#222" textLength="43.6" lengthAdjust="spacingAndGlyphs"><tspan font-family="Liberation Serif" font-size="11.5">α</tspan>CD3/28</text>
<text x="419.7" y="446.6" font-size="10.3" fill="#222" textLength="89.8" lengthAdjust="spacingAndGlyphs">+ control neutrophils</text>
<rect x="333.80" y="455.20" width="4.70" height="7.80" fill="#6aa842"/>
<text x="342.8" y="462.2" font-size="10.3" fill="#222" textLength="43.6" lengthAdjust="spacingAndGlyphs"><tspan font-family="Liberation Serif" font-size="11.5">α</tspan>CD3/28</text>
<text x="390.4" y="462.2" font-size="10.3" fill="#222" textLength="85.1" lengthAdjust="spacingAndGlyphs">+ LAD1 neutrophils</text>
<text x="9.6" y="499.4" font-size="15.4" fill="#000" font-weight="bold">D</text>
<text transform="translate(30.4,545.3) rotate(-90)" font-size="10.3" fill="#111" text-anchor="middle" textLength="66" lengthAdjust="spacingAndGlyphs">Field of view 1</text>
<text transform="translate(30.6,627.5) rotate(-90)" font-size="10.3" fill="#111" text-anchor="middle" textLength="66.5" lengthAdjust="spacingAndGlyphs">Field of view 2</text>
<line x1="40.3" y1="674.4" x2="362" y2="674.4" stroke="#111" stroke-width="1.3"/>
<path d="M367.2,674.4 L359.6,670.9 L361.4,674.4 L359.6,677.9 Z" fill="#111"/>
<text x="371.3" y="678.6" font-size="13.0" fill="#111" font-weight="bold" textLength="19.5" lengthAdjust="spacingAndGlyphs">Time</text>
<defs><radialGradient id="rg" cx="50%" cy="50%" r="50%"><stop offset="0" stop-color="#f58a86"/><stop offset="0.75" stop-color="#ef5a58"/><stop offset="1" stop-color="#e8484c"/></radialGradient><radialGradient id="ng" cx="50%" cy="50%" r="50%"><stop offset="0" stop-color="#8a8f86"/><stop offset="0.8" stop-color="#72776f"/><stop offset="1" stop-color="#4a4d48"/></radialGradient><filter id="nz" x="0" y="0" width="100%" height="100%"><feTurbulence type="fractalNoise" baseFrequency="0.9" numOctaves="1" seed="3"/><feColorMatrix type="matrix" values="0 0 0 0 0.5  0 0 0 0 0.5  0 0 0 0 0.5  0 0 0 0.18 0"/></filter></defs>
<clipPath id="c00"><rect x="40" y="504" width="89" height="77.8"/></clipPath>
<g clip-path="url(#c00)">
<rect x="40.00" y="504.00" width="89.00" height="77.80" fill="#7a7e7a"/>
<rect x="40.00" y="504.00" width="89.00" height="77.80" fill="#000" filter="url(#nz)" opacity="0.6"/>
<g transform="rotate(-45 64.5 523.5)">
<path d="M60.5,528.4 L55.6,526.8 L55.9,523.3 L56.3,520.0 L60.9,518.1 L66.0,518.3 L71.2,519.0 L72.7,522.2 L73.7,525.4 L69.9,527.6 L65.4,528.8Z" fill="#7b7e77" stroke="#43453f" stroke-width="0.6" stroke-opacity="0.75" stroke-linejoin="round"/>
<line x1="59.5" y1="525.1" x2="61.0" y2="526.6" stroke="#cfd3cb" stroke-width="0.6" opacity="0.8"/>
<line x1="60.0" y1="520.6" x2="57.6" y2="519.4" stroke="#cfd3cb" stroke-width="0.6" opacity="0.8"/>
<line x1="64.8" y1="523.5" x2="66.3" y2="521.6" stroke="#cfd3cb" stroke-width="0.6" opacity="0.8"/>
<line x1="65.0" y1="523.9" x2="63.6" y2="527.6" stroke="#cfd3cb" stroke-width="0.6" opacity="0.8"/>
<line x1="66.2" y1="525.7" x2="64.5" y2="523.7" stroke="#cfd3cb" stroke-width="0.6" opacity="0.8"/>
<line x1="64.1" y1="523.4" x2="66.1" y2="524.2" stroke="#cfd3cb" stroke-width="0.6" opacity="0.8"/>
<line x1="63.3" y1="521.9" x2="62.0" y2="524.9" stroke="#3a3c38" stroke-width="0.6" opacity="0.8"/>
<line x1="62.5" y1="523.9" x2="63.5" y2="520.4" stroke="#3a3c38" stroke-width="0.6" opacity="0.8"/>
<line x1="64.6" y1="525.9" x2="60.6" y2="525.3" stroke="#3a3c38" stroke-width="0.6" opacity="0.8"/>
<line x1="64.2" y1="522.3" x2="66.1" y2="522.1" stroke="#3a3c38" stroke-width="0.6" opacity="0.8"/>
<line x1="59.3" y1="525.3" x2="58.2" y2="525.4" stroke="#3cc83c" stroke-width="1.0" stroke-linecap="round" opacity="0.9"/>
<line x1="61.5" y1="520.3" x2="62.7" y2="519.1" stroke="#3cc83c" stroke-width="1.0" stroke-linecap="round" opacity="0.9"/>
<line x1="62.9" y1="520.8" x2="60.2" y2="521.5" stroke="#3cc83c" stroke-width="1.0" stroke-linecap="round" opacity="0.9"/>
<circle cx="68.0" cy="522.7" r="0.5" fill="#3cc83c" opacity="0.9"/>
<circle cx="63.0" cy="520.5" r="1.0" fill="#3cc83c" opacity="0.9"/>
<circle cx="63.8" cy="525.3" r="0.5" fill="#3cc83c" opacity="0.9"/>
<line x1="63.2" y1="523.7" x2="65.7" y2="524.7" stroke="#3cc83c" stroke-width="1.0" stroke-linecap="round" opacity="0.9"/>
<line x1="65.8" y1="524.4" x2="66.7" y2="523.5" stroke="#3cc83c" stroke-width="1.0" stroke-linecap="round" opacity="0.9"/>
<circle cx="60.4" cy="524.3" r="1.0" fill="#3cc83c" opacity="0.9"/>
<line x1="65.9" y1="522.5" x2="64.1" y2="524.8" stroke="#3cc83c" stroke-width="1.0" stroke-linecap="round" opacity="0.9"/>
<line x1="65.6" y1="523.3" x2="65.8" y2="524.8" stroke="#3cc83c" stroke-width="1.0" stroke-linecap="round" opacity="0.9"/>
<line x1="59.9" y1="523.8" x2="61.8" y2="523.8" stroke="#3cc83c" stroke-width="1.0" stroke-linecap="round" opacity="0.9"/>
<circle cx="61.5" cy="525.5" r="0.9" fill="#3cc83c" opacity="0.9"/>
<circle cx="59.7" cy="523.2" r="0.5" fill="#3cc83c" opacity="0.9"/>
<circle cx="69.5" cy="521.3" r="1.0" fill="#3cc83c" opacity="0.9"/>
<line x1="62.0" y1="524.7" x2="61.3" y2="523.9" stroke="#3cc83c" stroke-width="1.0" stroke-linecap="round" opacity="0.9"/>
<line x1="66.0" y1="523.9" x2="65.4" y2="524.9" stroke="#3cc83c" stroke-width="1.0" stroke-linecap="round" opacity="0.9"/>
<line x1="65.7" y1="523.5" x2="65.0" y2="524.3" stroke="#3cc83c" stroke-width="1.0" stroke-linecap="round" opacity="0.9"/>
<line x1="67.9" y1="521.4" x2="67.9" y2="523.1" stroke="#3cc83c" stroke-width="1.0" stroke-linecap="round" opacity="0.9"/>
</g>
<g transform="rotate(0 60 564.5)">
<path d="M54.2,570.0 L49.5,567.0 L49.1,561.8 L53.6,558.4 L58.6,556.4 L63.6,558.0 L67.3,560.6 L69.4,564.5 L67.7,568.6 L64.5,572.7 L58.7,571.8Z" fill="#7b7e77" stroke="#43453f" stroke-width="0.6" stroke-opacity="0.75" stroke-linejoin="round"/>
<line x1="66.4" y1="565.3" x2="64.5" y2="564.9" stroke="#cfd3cb" stroke-width="0.6" opacity="0.8"/>
<line x1="59.8" y1="564.5" x2="55.5" y2="563.7" stroke="#cfd3cb" stroke-width="0.6" opacity="0.8"/>
<line x1="63.1" y1="561.5" x2="62.9" y2="564.1" stroke="#cfd3cb" stroke-width="0.6" opacity="0.8"/>
<line x1="62.6" y1="568.3" x2="58.9" y2="567.5" stroke="#cfd3cb" stroke-width="0.6" opacity="0.8"/>
<line x1="59.3" y1="565.6" x2="60.9" y2="561.5" stroke="#cfd3cb" stroke-width="0.6" opacity="0.8"/>
<line x1="63.3" y1="560.9" x2="64.9" y2="557.5" stroke="#cfd3cb" stroke-width="0.6" opacity="0.8"/>
<line x1="60.5" y1="567.4" x2="59.5" y2="568.6" stroke="#3a3c38" stroke-width="0.6" opacity="0.8"/>
<line x1="61.9" y1="564.8" x2="61.7" y2="568.3" stroke="#3a3c38" stroke-width="0.6" opacity="0.8"/>
<line x1="62.9" y1="563.8" x2="67.1" y2="562.1" stroke="#3a3c38" stroke-width="0.6" opacity="0.8"/>
<line x1="62.4" y1="563.9" x2="62.8" y2="566.1" stroke="#3a3c38" stroke-width="0.6" opacity="0.8"/>
<circle cx="60.5" cy="565.8" r="1.0" fill="#3cc83c" opacity="0.9"/>
<circle cx="62.0" cy="561.9" r="1.0" fill="#3cc83c" opacity="0.9"/>
<circle cx="64.5" cy="566.7" r="1.0" fill="#3cc83c" opacity="0.9"/>
<line x1="60.0" y1="561.4" x2="60.4" y2="559.7" stroke="#3cc83c" stroke-width="1.0" stroke-linecap="round" opacity="0.9"/>
<line x1="62.4" y1="558.5" x2="59.9" y2="560.3" stroke="#3cc83c" stroke-width="1.0" stroke-linecap="round" opacity="0.9"/>
<line x1="59.8" y1="563.4" x2="61.5" y2="565.8" stroke="#3cc83c" stroke-width="1.0" stroke-linecap="round" opacity="0.9"/>
<circle cx="60.4" cy="563.6" r="1.1" fill="#3cc83c" opacity="0.9"/>
<line x1="58.5" y1="562.6" x2="59.2" y2="563.3" stroke="#3cc83c" stroke-width="1.0" stroke-linecap="round" opacity="0.9"/>
<line x1="65.0" y1="563.7" x2="66.8" y2="562.9" stroke="#3cc83c" stroke-width="1.0" stroke-linecap="round" opacity="0.9"/>
<line x1="64.5" y1="560.6" x2="64.5" y2="562.3" stroke="#3cc83c" stroke-width="1.0" stroke-linecap="round" opacity="0.9"/>
<line x1="60.3" y1="568.3" x2="59.1" y2="568.9" stroke="#3cc83c" stroke-width="1.0" stroke-linecap="round" opacity="0.9"/>
<line x1="62.4" y1="563.3" x2="59.8" y2="561.8" stroke="#3cc83c" stroke-width="1.0" stroke-linecap="round" opacity="0.9"/>
<line x1="53.7" y1="567.4" x2="51.5" y2="566.9" stroke="#3cc83c" stroke-width="1.0" stroke-linecap="round" opacity="0.9"/>
<line x1="63.4" y1="564.8" x2="66.2" y2="564.9" stroke="#3cc83c" stroke-width="1.0" stroke-linecap="round" opacity="0.9"/>
<circle cx="61.7" cy="567.2" r="0.8" fill="#3cc83c" opacity="0.9"/>
<line x1="58.1" y1="567.5" x2="58.4" y2="566.3" stroke="#3cc83c" stroke-width="1.0" stroke-linecap="round" opacity="0.9"/>
<line x1="58.2" y1="563.9" x2="58.5" y2="561.8" stroke="#3cc83c" stroke-width="1.0" stroke-linecap="round" opacity="0.9"/>
<circle cx="54.5" cy="562.6" r="0.8" fill="#3cc83c" opacity="0.9"/>
<line x1="57.0" y1="562.4" x2="56.3" y2="560.5" stroke="#3cc83c" stroke-width="1.0" stroke-linecap="round" opacity="0.9"/>
<circle cx="56.3" cy="563.9" r="0.9" fill="#3cc83c" opacity="0.9"/>
<line x1="65.3" y1="560.2" x2="62.4" y2="559.1" stroke="#3cc83c" stroke-width="1.0" stroke-linecap="round" opacity="0.9"/>
<line x1="60.6" y1="563.7" x2="59.5" y2="564.2" stroke="#3cc83c" stroke-width="1.0" stroke-linecap="round" opacity="0.9"/>
<circle cx="60.0" cy="565.0" r="1.0" fill="#3cc83c" opacity="0.9"/>
</g>
<g transform="rotate(0 104.4 532.6)">
<circle cx="104.4" cy="532.6" r="7.3" fill="#7d807a" stroke="#3a3b38" stroke-width="0.9" stroke-opacity="0.8"/>
<circle cx="104.4" cy="532.6" r="6.20" fill="none" stroke="#c9ccc5" stroke-width="0.7" opacity="0.6"/>
<line x1="105.0" y1="532.2" x2="104.2" y2="528.8" stroke="#cfd3cb" stroke-width="0.6" opacity="0.8"/>
<line x1="107.0" y1="535.9" x2="109.1" y2="535.4" stroke="#cfd3cb" stroke-width="0.6" opacity="0.8"/>
<line x1="106.2" y1="532.0" x2="101.8" y2="532.4" stroke="#cfd3cb" stroke-width="0.6" opacity="0.8"/>
<line x1="104.8" y1="531.9" x2="102.0" y2="533.2" stroke="#cfd3cb" stroke-width="0.6" opacity="0.8"/>
<line x1="103.9" y1="533.4" x2="102.4" y2="536.7" stroke="#cfd3cb" stroke-width="0.6" opacity="0.8"/>
<line x1="107.0" y1="532.9" x2="105.6" y2="533.5" stroke="#cfd3cb" stroke-width="0.6" opacity="0.8"/>
<line x1="102.9" y1="535.2" x2="101.3" y2="535.1" stroke="#3a3c38" stroke-width="0.6" opacity="0.8"/>
<line x1="108.1" y1="532.2" x2="109.9" y2="531.9" stroke="#3a3c38" stroke-width="0.6" opacity="0.8"/>
<line x1="104.4" y1="532.8" x2="104.8" y2="530.5" stroke="#3a3c38" stroke-width="0.6" opacity="0.8"/>
<line x1="105.8" y1="534.1" x2="109.1" y2="532.0" stroke="#3a3c38" stroke-width="0.6" opacity="0.8"/>
<circle cx="104.4" cy="533.4" r="0.8" fill="#3cc83c" opacity="0.9"/>
<line x1="104.2" y1="532.1" x2="103.5" y2="530.3" stroke="#3cc83c" stroke-width="1.0" stroke-linecap="round" opacity="0.9"/>
<circle cx="109.0" cy="534.9" r="1.0" fill="#3cc83c" opacity="0.9"/>
</g>
<circle cx="74.6" cy="509.6" r="5.83" fill="none" stroke="#474a46" stroke-width="0.9" opacity="0.6"/>
<circle cx="74.6" cy="509.6" r="5.13" fill="#f06060"/>
<circle cx="74.6" cy="509.6" r="4.10" fill="none" stroke="#f7a8a0" stroke-width="0.6" opacity="0.6"/>
<circle cx="77.3" cy="511.1" r="0.7" fill="#e54343" opacity="0.8"/>
<circle cx="75.7" cy="508.4" r="0.9" fill="#e54343" opacity="0.8"/>
<circle cx="71.5" cy="508.5" r="0.8" fill="#e54343" opacity="0.8"/>
<circle cx="75.9" cy="511.0" r="0.8" fill="#e54343" opacity="0.8"/>
<circle cx="75.0" cy="510.0" r="0.6" fill="#e54343" opacity="0.8"/>
<circle cx="74.9" cy="510.7" r="0.9" fill="#e54343" opacity="0.8"/>
<circle cx="74.7" cy="508.6" r="1.1" fill="#e54343" opacity="0.8"/>
<circle cx="75.1" cy="510.7" r="0.6" fill="#e54343" opacity="0.8"/>
<circle cx="74.6" cy="509.7" r="0.9" fill="#f58a86" opacity="0.75"/>
<circle cx="74.0" cy="509.4" r="0.8" fill="#f58a86" opacity="0.75"/>
<circle cx="74.9" cy="509.4" r="1.0" fill="#f58a86" opacity="0.75"/>
<circle cx="73.0" cy="510.3" r="1.0" fill="#f58a86" opacity="0.75"/>
<circle cx="73.2" cy="510.7" r="0.9" fill="#f58a86" opacity="0.75"/>
<circle cx="98.3" cy="506" r="7.35" fill="none" stroke="#474a46" stroke-width="0.9" opacity="0.6"/>
<circle cx="98.3" cy="506" r="6.65" fill="#f06060"/>
<circle cx="98.3" cy="506" r="5.32" fill="none" stroke="#f7a8a0" stroke-width="0.6" opacity="0.6"/>
<circle cx="99.9" cy="505.8" r="1.3" fill="#e54343" opacity="0.8"/>
<circle cx="97.5" cy="503.1" r="1.0" fill="#e54343" opacity="0.8"/>
<circle cx="98.2" cy="506.2" r="0.7" fill="#e54343" opacity="0.8"/>
<circle cx="101.4" cy="507.5" r="0.8" fill="#e54343" opacity="0.8"/>
<circle cx="98.5" cy="506.3" r="1.4" fill="#e54343" opacity="0.8"/>
<circle cx="100.4" cy="503.7" r="0.9" fill="#e54343" opacity="0.8"/>
<circle cx="98.4" cy="507.4" r="1.0" fill="#e54343" opacity="0.8"/>
<circle cx="99.4" cy="507.7" r="0.8" fill="#e54343" opacity="0.8"/>
<circle cx="102.7" cy="504.9" r="1.1" fill="#e54343" opacity="0.8"/>
<circle cx="98.5" cy="510.5" r="0.9" fill="#e54343" opacity="0.8"/>
<circle cx="98.3" cy="506.0" r="0.7" fill="#f58a86" opacity="0.75"/>
<circle cx="96.0" cy="506.4" r="0.6" fill="#f58a86" opacity="0.75"/>
<circle cx="98.3" cy="506.0" r="0.7" fill="#f58a86" opacity="0.75"/>
<circle cx="99.9" cy="507.0" r="0.5" fill="#f58a86" opacity="0.75"/>
<circle cx="99.7" cy="506.2" r="0.6" fill="#f58a86" opacity="0.75"/>
<circle cx="96.2" cy="504.7" r="1.0" fill="#f58a86" opacity="0.75"/>
<circle cx="94.2" cy="549.2" r="6.59" fill="none" stroke="#474a46" stroke-width="0.9" opacity="0.6"/>
<circle cx="94.2" cy="549.2" r="5.89" fill="#f06060"/>
<circle cx="94.2" cy="549.2" r="4.71" fill="none" stroke="#f7a8a0" stroke-width="0.6" opacity="0.6"/>
<circle cx="92.6" cy="546.7" r="1.4" fill="#e54343" opacity="0.8"/>
<circle cx="93.2" cy="550.1" r="1.5" fill="#e54343" opacity="0.8"/>
<circle cx="96.0" cy="551.6" r="1.2" fill="#e54343" opacity="0.8"/>
<circle cx="97.5" cy="550.1" r="1.4" fill="#e54343" opacity="0.8"/>
<circle cx="92.1" cy="547.0" r="1.3" fill="#e54343" opacity="0.8"/>
<circle cx="95.6" cy="550.9" r="1.1" fill="#e54343" opacity="0.8"/>
<circle cx="95.9" cy="546.3" r="1.3" fill="#e54343" opacity="0.8"/>
<circle cx="91.0" cy="547.3" r="1.2" fill="#e54343" opacity="0.8"/>
<circle cx="93.9" cy="548.3" r="0.6" fill="#e54343" opacity="0.8"/>
<circle cx="95.2" cy="550.3" r="0.6" fill="#f58a86" opacity="0.75"/>
<circle cx="95.4" cy="547.2" r="0.9" fill="#f58a86" opacity="0.75"/>
<circle cx="92.2" cy="547.2" r="0.8" fill="#f58a86" opacity="0.75"/>
<circle cx="97.5" cy="549.3" r="0.9" fill="#f58a86" opacity="0.75"/>
<circle cx="92.0" cy="549.2" r="0.9" fill="#f58a86" opacity="0.75"/>
<circle cx="66" cy="552.1" r="5.45" fill="none" stroke="#474a46" stroke-width="0.9" opacity="0.6"/>
<circle cx="66" cy="552.1" r="4.75" fill="#f06060"/>
<circle cx="66" cy="552.1" r="3.80" fill="none" stroke="#f7a8a0" stroke-width="0.6" opacity="0.6"/>
<circle cx="68.2" cy="553.1" r="0.8" fill="#e54343" opacity="0.8"/>
<circle cx="66.8" cy="552.5" r="1.3" fill="#e54343" opacity="0.8"/>
<circle cx="66.7" cy="554.5" r="1.5" fill="#e54343" opacity="0.8"/>
<circle cx="64.7" cy="552.1" r="1.0" fill="#e54343" opacity="0.8"/>
<circle cx="65.0" cy="549.8" r="1.2" fill="#e54343" opacity="0.8"/>
<circle cx="65.8" cy="551.9" r="0.7" fill="#e54343" opacity="0.8"/>
<circle cx="65.9" cy="554.6" r="0.9" fill="#e54343" opacity="0.8"/>
<circle cx="66.0" cy="552.1" r="0.5" fill="#f58a86" opacity="0.75"/>
<circle cx="65.7" cy="554.3" r="0.9" fill="#f58a86" opacity="0.75"/>
<circle cx="65.6" cy="551.2" r="0.8" fill="#f58a86" opacity="0.75"/>
<circle cx="64.5" cy="552.4" r="0.6" fill="#f58a86" opacity="0.75"/>
<circle cx="44" cy="562.5" r="7.25" fill="none" stroke="#55504e" stroke-width="0.8" opacity="0.5"/>
<circle cx="44" cy="562.5" r="6.65" fill="#f05e5e"/>
<circle cx="44" cy="562.5" r="2.99" fill="#c27272" opacity="0.75"/>
<circle cx="46.2" cy="560.8" r="1.4" fill="#f37a76" opacity="0.7"/>
<circle cx="45.9" cy="561.7" r="1.0" fill="#f37a76" opacity="0.7"/>
<circle cx="46.5" cy="557.2" r="1.0" fill="#f37a76" opacity="0.7"/>
<circle cx="43.7" cy="565.3" r="1.4" fill="#f37a76" opacity="0.7"/>
<circle cx="45.1" cy="566.7" r="0.7" fill="#f37a76" opacity="0.7"/>
<circle cx="38.3" cy="561.6" r="0.7" fill="#f37a76" opacity="0.7"/>
<circle cx="45.7" cy="558.9" r="1.3" fill="#f37a76" opacity="0.7"/>
<circle cx="43.2" cy="559.7" r="1.3" fill="#f37a76" opacity="0.7"/>
<circle cx="41.9" cy="562.7" r="0.6" fill="#f37a76" opacity="0.7"/>
<circle cx="46.9" cy="577.6" r="6.77" fill="none" stroke="#55504e" stroke-width="0.8" opacity="0.5"/>
<circle cx="46.9" cy="577.6" r="6.17" fill="#f05e5e"/>
<circle cx="46.9" cy="577.6" r="2.78" fill="#c27272" opacity="0.75"/>
<circle cx="43.4" cy="577.8" r="0.8" fill="#f37a76" opacity="0.7"/>
<circle cx="48.9" cy="580.0" r="0.9" fill="#f37a76" opacity="0.7"/>
<circle cx="47.9" cy="576.0" r="1.2" fill="#f37a76" opacity="0.7"/>
<circle cx="48.1" cy="575.7" r="1.3" fill="#f37a76" opacity="0.7"/>
<circle cx="45.7" cy="572.5" r="0.8" fill="#f37a76" opacity="0.7"/>
<circle cx="44.6" cy="580.0" r="1.4" fill="#f37a76" opacity="0.7"/>
<circle cx="44.2" cy="575.9" r="0.9" fill="#f37a76" opacity="0.7"/>
<circle cx="46.6" cy="579.6" r="0.7" fill="#f37a76" opacity="0.7"/>
<circle cx="48.4" cy="575.1" r="1.3" fill="#f37a76" opacity="0.7"/>
<line x1="86.7" y1="531.7" x2="75.8" y2="520.0" stroke="#fff" stroke-width="1.5"/>
<path d="M81.1,520.6 L75.5,519.6 L76.1,525.2" fill="none" stroke="#fff" stroke-width="1.5" stroke-linecap="round" stroke-linejoin="round"/>
<text x="88" y="575.9" font-size="7.0" fill="#e2e2e2" text-anchor="middle">0</text>
<text x="105.6" y="575.9" font-size="7.0" fill="#e2e2e2" text-anchor="middle">µm</text>
<text x="122.6" y="575.9" font-size="7.0" fill="#e2e2e2" text-anchor="middle">25</text>
<line x1="84.4" y1="579.2" x2="127" y2="579.2" stroke="#e6e6e6" stroke-width="1.0"/>
<line x1="85.5" y1="578.2" x2="85.5" y2="579.3" stroke="#e6e6e6" stroke-width="0.6"/>
<line x1="89.7" y1="578.2" x2="89.7" y2="579.3" stroke="#e6e6e6" stroke-width="0.6"/>
<line x1="93.8" y1="578.2" x2="93.8" y2="579.3" stroke="#e6e6e6" stroke-width="0.6"/>
<line x1="98.0" y1="578.2" x2="98.0" y2="579.3" stroke="#e6e6e6" stroke-width="0.6"/>
<line x1="102.1" y1="578.2" x2="102.1" y2="579.3" stroke="#e6e6e6" stroke-width="0.6"/>
<line x1="106.2" y1="578.2" x2="106.2" y2="579.3" stroke="#e6e6e6" stroke-width="0.6"/>
<line x1="110.4" y1="578.2" x2="110.4" y2="579.3" stroke="#e6e6e6" stroke-width="0.6"/>
<line x1="114.6" y1="578.2" x2="114.6" y2="579.3" stroke="#e6e6e6" stroke-width="0.6"/>
<line x1="118.7" y1="578.2" x2="118.7" y2="579.3" stroke="#e6e6e6" stroke-width="0.6"/>
<line x1="122.8" y1="578.2" x2="122.8" y2="579.3" stroke="#e6e6e6" stroke-width="0.6"/>
<line x1="127.0" y1="578.2" x2="127.0" y2="579.3" stroke="#e6e6e6" stroke-width="0.6"/>
</g>
<clipPath id="c01"><rect x="40" y="585.7" width="89" height="78.6"/></clipPath>
<g clip-path="url(#c01)">
<rect x="40.00" y="585.70" width="89.00" height="78.60" fill="#7a7e7a"/>
<rect x="40.00" y="585.70" width="89.00" height="78.60" fill="#000" filter="url(#nz)" opacity="0.6"/>
<g transform="rotate(0 81.5 628.1)">
<circle cx="81.5" cy="628.1" r="7.3" fill="#7d807a" stroke="#3a3b38" stroke-width="0.9" stroke-opacity="0.8"/>
<circle cx="81.5" cy="628.1" r="6.20" fill="none" stroke="#c9ccc5" stroke-width="0.7" opacity="0.6"/>
<line x1="81.5" y1="629.4" x2="79.4" y2="629.2" stroke="#cfd3cb" stroke-width="0.6" opacity="0.8"/>
<line x1="78.3" y1="631.3" x2="81.3" y2="628.7" stroke="#cfd3cb" stroke-width="0.6" opacity="0.8"/>
<line x1="78.6" y1="624.9" x2="81.5" y2="623.8" stroke="#cfd3cb" stroke-width="0.6" opacity="0.8"/>
<line x1="81.5" y1="627.9" x2="81.1" y2="625.0" stroke="#cfd3cb" stroke-width="0.6" opacity="0.8"/>
<line x1="81.6" y1="625.0" x2="81.2" y2="626.6" stroke="#cfd3cb" stroke-width="0.6" opacity="0.8"/>
<line x1="82.0" y1="627.8" x2="79.5" y2="628.3" stroke="#cfd3cb" stroke-width="0.6" opacity="0.8"/>
<line x1="80.5" y1="631.4" x2="82.7" y2="631.1" stroke="#3a3c38" stroke-width="0.6" opacity="0.8"/>
<line x1="80.7" y1="626.9" x2="78.2" y2="626.0" stroke="#3a3c38" stroke-width="0.6" opacity="0.8"/>
<line x1="81.9" y1="628.8" x2="83.0" y2="632.8" stroke="#3a3c38" stroke-width="0.6" opacity="0.8"/>
<line x1="80.5" y1="628.1" x2="84.2" y2="625.6" stroke="#3a3c38" stroke-width="0.6" opacity="0.8"/>
<line x1="80.8" y1="628.3" x2="82.2" y2="629.3" stroke="#3cc83c" stroke-width="1.0" stroke-linecap="round" opacity="0.9"/>
<line x1="82.6" y1="628.8" x2="79.9" y2="627.6" stroke="#3cc83c" stroke-width="1.0" stroke-linecap="round" opacity="0.9"/>
<line x1="81.5" y1="625.8" x2="79.7" y2="625.6" stroke="#3cc83c" stroke-width="1.0" stroke-linecap="round" opacity="0.9"/>
<line x1="81.3" y1="628.4" x2="82.6" y2="628.1" stroke="#3cc83c" stroke-width="1.0" stroke-linecap="round" opacity="0.9"/>
<circle cx="78.1" cy="628.0" r="0.6" fill="#3cc83c" opacity="0.9"/>
<line x1="81.3" y1="629.4" x2="78.4" y2="630.5" stroke="#3cc83c" stroke-width="1.0" stroke-linecap="round" opacity="0.9"/>
<line x1="84.3" y1="624.2" x2="86.8" y2="624.7" stroke="#3cc83c" stroke-width="1.0" stroke-linecap="round" opacity="0.9"/>
<line x1="83.6" y1="626.5" x2="85.4" y2="626.5" stroke="#3cc83c" stroke-width="1.0" stroke-linecap="round" opacity="0.9"/>
<circle cx="85.6" cy="626.1" r="1.1" fill="#3cc83c" opacity="0.9"/>
<line x1="81.5" y1="628.7" x2="79.0" y2="628.3" stroke="#3cc83c" stroke-width="1.0" stroke-linecap="round" opacity="0.9"/>
<circle cx="85.2" cy="626.7" r="1.0" fill="#3cc83c" opacity="0.9"/>
</g>
<g transform="rotate(0 124.8 634.2)">
<circle cx="124.8" cy="634.2" r="7" fill="#7d807a" stroke="#3a3b38" stroke-width="0.9" stroke-opacity="0.8"/>
<circle cx="124.8" cy="634.2" r="5.90" fill="none" stroke="#c9ccc5" stroke-width="0.7" opacity="0.6"/>
<line x1="122.4" y1="634.9" x2="126.1" y2="635.8" stroke="#cfd3cb" stroke-width="0.6" opacity="0.8"/>
<line x1="125.3" y1="638.4" x2="123.8" y2="636.5" stroke="#cfd3cb" stroke-width="0.6" opacity="0.8"/>
<line x1="125.6" y1="635.0" x2="123.2" y2="632.3" stroke="#cfd3cb" stroke-width="0.6" opacity="0.8"/>
<line x1="125.0" y1="634.4" x2="121.8" y2="633.9" stroke="#cfd3cb" stroke-width="0.6" opacity="0.8"/>
<line x1="124.0" y1="634.9" x2="122.8" y2="633.9" stroke="#cfd3cb" stroke-width="0.6" opacity="0.8"/>
<line x1="124.1" y1="636.2" x2="127.5" y2="635.3" stroke="#cfd3cb" stroke-width="0.6" opacity="0.8"/>
<line x1="126.4" y1="632.8" x2="126.6" y2="635.0" stroke="#3a3c38" stroke-width="0.6" opacity="0.8"/>
<line x1="127.9" y1="633.4" x2="127.4" y2="634.9" stroke="#3a3c38" stroke-width="0.6" opacity="0.8"/>
<line x1="121.7" y1="634.2" x2="119.7" y2="635.3" stroke="#3a3c38" stroke-width="0.6" opacity="0.8"/>
<line x1="122.7" y1="630.5" x2="122.9" y2="632.1" stroke="#3a3c38" stroke-width="0.6" opacity="0.8"/>
<circle cx="123.6" cy="636.1" r="0.6" fill="#3cc83c" opacity="0.9"/>
<line x1="125.9" y1="630.5" x2="126.8" y2="633.5" stroke="#3cc83c" stroke-width="1.0" stroke-linecap="round" opacity="0.9"/>
<line x1="123.2" y1="638.2" x2="123.6" y2="640.8" stroke="#3cc83c" stroke-width="1.0" stroke-linecap="round" opacity="0.9"/>
<line x1="123.4" y1="639.0" x2="124.0" y2="640.4" stroke="#3cc83c" stroke-width="1.0" stroke-linecap="round" opacity="0.9"/>
<circle cx="121.8" cy="635.9" r="0.6" fill="#3cc83c" opacity="0.9"/>
<circle cx="123.9" cy="634.9" r="0.6" fill="#3cc83c" opacity="0.9"/>
<line x1="125.1" y1="634.3" x2="127.5" y2="632.5" stroke="#3cc83c" stroke-width="1.0" stroke-linecap="round" opacity="0.9"/>
<circle cx="124.2" cy="629.0" r="0.7" fill="#3cc83c" opacity="0.9"/>
<circle cx="126.7" cy="638.7" r="0.5" fill="#3cc83c" opacity="0.9"/>
</g>
<g transform="rotate(0 57.3 641.1)">
<circle cx="57.3" cy="641.1" r="8" fill="#7d807a" stroke="#3a3b38" stroke-width="0.9" stroke-opacity="0.8"/>
<circle cx="57.3" cy="641.1" r="6.90" fill="none" stroke="#c9ccc5" stroke-width="0.7" opacity="0.6"/>
<line x1="56.3" y1="639.4" x2="54.5" y2="641.2" stroke="#cfd3cb" stroke-width="0.6" opacity="0.8"/>
<line x1="57.3" y1="641.1" x2="56.8" y2="643.6" stroke="#cfd3cb" stroke-width="0.6" opacity="0.8"/>
<line x1="57.9" y1="640.9" x2="60.0" y2="640.4" stroke="#cfd3cb" stroke-width="0.6" opacity="0.8"/>
<line x1="54.6" y1="644.4" x2="55.9" y2="641.9" stroke="#cfd3cb" stroke-width="0.6" opacity="0.8"/>
<line x1="59.6" y1="641.8" x2="56.7" y2="644.9" stroke="#cfd3cb" stroke-width="0.6" opacity="0.8"/>
<line x1="58.0" y1="642.9" x2="59.2" y2="641.9" stroke="#cfd3cb" stroke-width="0.6" opacity="0.8"/>
<line x1="53.7" y1="643.3" x2="53.9" y2="641.7" stroke="#3a3c38" stroke-width="0.6" opacity="0.8"/>
<line x1="57.6" y1="641.2" x2="59.6" y2="640.1" stroke="#3a3c38" stroke-width="0.6" opacity="0.8"/>
<line x1="57.2" y1="636.4" x2="56.0" y2="638.4" stroke="#3a3c38" stroke-width="0.6" opacity="0.8"/>
<line x1="60.4" y1="640.3" x2="60.1" y2="643.9" stroke="#3a3c38" stroke-width="0.6" opacity="0.8"/>
<line x1="56.6" y1="642.6" x2="56.7" y2="639.6" stroke="#3cc83c" stroke-width="1.0" stroke-linecap="round" opacity="0.9"/>
<line x1="53.5" y1="636.9" x2="53.7" y2="638.9" stroke="#3cc83c" stroke-width="1.0" stroke-linecap="round" opacity="0.9"/>
<line x1="62.8" y1="639.6" x2="62.8" y2="641.5" stroke="#3cc83c" stroke-width="1.0" stroke-linecap="round" opacity="0.9"/>
<line x1="51.7" y1="641.3" x2="52.6" y2="638.8" stroke="#3cc83c" stroke-width="1.0" stroke-linecap="round" opacity="0.9"/>
<circle cx="59.3" cy="636.9" r="0.7" fill="#3cc83c" opacity="0.9"/>
<circle cx="56.4" cy="643.1" r="0.5" fill="#3cc83c" opacity="0.9"/>
<line x1="58.8" y1="645.4" x2="59.8" y2="645.8" stroke="#3cc83c" stroke-width="1.0" stroke-linecap="round" opacity="0.9"/>
<circle cx="55.5" cy="640.5" r="1.0" fill="#3cc83c" opacity="0.9"/>
<line x1="58.9" y1="641.0" x2="60.6" y2="642.2" stroke="#3cc83c" stroke-width="1.0" stroke-linecap="round" opacity="0.9"/>
<line x1="56.6" y1="638.5" x2="54.6" y2="639.7" stroke="#3cc83c" stroke-width="1.0" stroke-linecap="round" opacity="0.9"/>
<circle cx="55.2" cy="637.1" r="0.9" fill="#3cc83c" opacity="0.9"/>
<line x1="61.0" y1="644.6" x2="59.3" y2="643.8" stroke="#3cc83c" stroke-width="1.0" stroke-linecap="round" opacity="0.9"/>
<line x1="57.2" y1="639.9" x2="57.2" y2="641.2" stroke="#3cc83c" stroke-width="1.0" stroke-linecap="round" opacity="0.9"/>
</g>
<circle cx="124" cy="596.1" r="6.40" fill="none" stroke="#474a46" stroke-width="0.9" opacity="0.6"/>
<circle cx="124" cy="596.1" r="5.70" fill="#f06060"/>
<circle cx="124" cy="596.1" r="4.56" fill="none" stroke="#f7a8a0" stroke-width="0.6" opacity="0.6"/>
<circle cx="125.7" cy="594.6" r="0.9" fill="#e54343" opacity="0.8"/>
<circle cx="120.9" cy="598.5" r="1.1" fill="#e54343" opacity="0.8"/>
<circle cx="124.4" cy="599.3" r="1.2" fill="#e54343" opacity="0.8"/>
<circle cx="124.4" cy="596.1" r="1.0" fill="#e54343" opacity="0.8"/>
<circle cx="125.4" cy="593.1" r="1.4" fill="#e54343" opacity="0.8"/>
<circle cx="125.1" cy="596.4" r="0.7" fill="#e54343" opacity="0.8"/>
<circle cx="125.4" cy="599.7" r="1.1" fill="#e54343" opacity="0.8"/>
<circle cx="125.3" cy="595.5" r="1.4" fill="#e54343" opacity="0.8"/>
<circle cx="123.0" cy="596.4" r="1.3" fill="#e54343" opacity="0.8"/>
<circle cx="124.4" cy="596.0" r="0.9" fill="#f58a86" opacity="0.75"/>
<circle cx="123.4" cy="595.5" r="0.7" fill="#f58a86" opacity="0.75"/>
<circle cx="124.5" cy="596.7" r="0.7" fill="#f58a86" opacity="0.75"/>
<circle cx="121.9" cy="594.6" r="0.6" fill="#f58a86" opacity="0.75"/>
<circle cx="125.3" cy="596.2" r="0.9" fill="#f58a86" opacity="0.75"/>
<circle cx="75.5" cy="614.3000000000001" r="6.88" fill="none" stroke="#474a46" stroke-width="0.9" opacity="0.6"/>
<circle cx="75.5" cy="614.3000000000001" r="6.17" fill="#f06060"/>
<circle cx="75.5" cy="614.3000000000001" r="4.94" fill="none" stroke="#f7a8a0" stroke-width="0.6" opacity="0.6"/>
<circle cx="76.0" cy="615.5" r="0.8" fill="#e54343" opacity="0.8"/>
<circle cx="76.2" cy="612.0" r="0.7" fill="#e54343" opacity="0.8"/>
<circle cx="76.9" cy="615.3" r="1.1" fill="#e54343" opacity="0.8"/>
<circle cx="75.2" cy="614.0" r="0.7" fill="#e54343" opacity="0.8"/>
<circle cx="74.9" cy="612.6" r="0.9" fill="#e54343" opacity="0.8"/>
<circle cx="74.0" cy="618.2" r="0.9" fill="#e54343" opacity="0.8"/>
<circle cx="74.1" cy="613.7" r="1.0" fill="#e54343" opacity="0.8"/>
<circle cx="78.3" cy="611.1" r="0.9" fill="#e54343" opacity="0.8"/>
<circle cx="76.5" cy="617.3" r="0.8" fill="#e54343" opacity="0.8"/>
<circle cx="79.4" cy="614.4" r="0.8" fill="#f58a86" opacity="0.75"/>
<circle cx="76.3" cy="612.7" r="1.0" fill="#f58a86" opacity="0.75"/>
<circle cx="74.8" cy="614.5" r="0.5" fill="#f58a86" opacity="0.75"/>
<circle cx="72.9" cy="613.4" r="1.0" fill="#f58a86" opacity="0.75"/>
<circle cx="77.8" cy="615.7" r="0.7" fill="#f58a86" opacity="0.75"/>
<circle cx="74.9" cy="614.3" r="0.7" fill="#f58a86" opacity="0.75"/>
<circle cx="124" cy="644.5" r="3.08" fill="none" stroke="#474a46" stroke-width="0.9" opacity="0.6"/>
<circle cx="124" cy="644.5" r="2.38" fill="#f06060"/>
<circle cx="124" cy="644.5" r="1.90" fill="none" stroke="#f7a8a0" stroke-width="0.6" opacity="0.6"/>
<circle cx="122.5" cy="644.3" r="0.7" fill="#e54343" opacity="0.8"/>
<circle cx="122.7" cy="644.6" r="1.5" fill="#e54343" opacity="0.8"/>
<circle cx="124.1" cy="644.7" r="1.4" fill="#e54343" opacity="0.8"/>
<circle cx="124.8" cy="644.4" r="0.5" fill="#f58a86" opacity="0.75"/>
<circle cx="124.6" cy="644.2" r="1.0" fill="#f58a86" opacity="0.75"/>
<circle cx="56.4" cy="655.7" r="8.67" fill="none" stroke="#55504e" stroke-width="0.8" opacity="0.5"/>
<circle cx="56.4" cy="655.7" r="8.07" fill="#f05e5e"/>
<circle cx="56.4" cy="655.7" r="3.63" fill="#c27272" opacity="0.75"/>
<circle cx="51.7" cy="651.3" r="0.7" fill="#f37a76" opacity="0.7"/>
<circle cx="57.2" cy="652.3" r="0.9" fill="#f37a76" opacity="0.7"/>
<circle cx="60.1" cy="650.4" r="0.7" fill="#f37a76" opacity="0.7"/>
<circle cx="57.3" cy="660.0" r="1.0" fill="#f37a76" opacity="0.7"/>
<circle cx="54.2" cy="657.7" r="0.8" fill="#f37a76" opacity="0.7"/>
<circle cx="55.3" cy="649.0" r="0.6" fill="#f37a76" opacity="0.7"/>
<circle cx="50.8" cy="653.4" r="0.6" fill="#f37a76" opacity="0.7"/>
<circle cx="58.0" cy="653.2" r="1.1" fill="#f37a76" opacity="0.7"/>
<circle cx="51.2" cy="654.0" r="0.8" fill="#f37a76" opacity="0.7"/>
<circle cx="51.8" cy="658.2" r="0.9" fill="#f37a76" opacity="0.7"/>
<circle cx="53.9" cy="651.8" r="1.0" fill="#f37a76" opacity="0.7"/>
<circle cx="61.8" cy="656.5" r="1.0" fill="#f37a76" opacity="0.7"/>
<circle cx="41.7" cy="642.7" r="5.35" fill="none" stroke="#55504e" stroke-width="0.8" opacity="0.5"/>
<circle cx="41.7" cy="642.7" r="4.75" fill="#f05e5e"/>
<circle cx="41.7" cy="642.7" r="2.14" fill="#c27272" opacity="0.75"/>
<circle cx="42.0" cy="646.3" r="1.2" fill="#f37a76" opacity="0.7"/>
<circle cx="39.8" cy="643.2" r="1.0" fill="#f37a76" opacity="0.7"/>
<circle cx="43.1" cy="643.8" r="0.9" fill="#f37a76" opacity="0.7"/>
<circle cx="44.0" cy="644.2" r="1.0" fill="#f37a76" opacity="0.7"/>
<circle cx="44.8" cy="643.5" r="0.7" fill="#f37a76" opacity="0.7"/>
<circle cx="41.3" cy="639.1" r="1.0" fill="#f37a76" opacity="0.7"/>
<circle cx="44.4" cy="643.7" r="0.9" fill="#f37a76" opacity="0.7"/>
<circle cx="41" cy="656.7" r="5.35" fill="none" stroke="#55504e" stroke-width="0.8" opacity="0.5"/>
<circle cx="41" cy="656.7" r="4.75" fill="#f05e5e"/>
<circle cx="41" cy="656.7" r="2.14" fill="#c27272" opacity="0.75"/>
<circle cx="42.7" cy="656.1" r="1.3" fill="#f37a76" opacity="0.7"/>
<circle cx="44.5" cy="656.6" r="1.3" fill="#f37a76" opacity="0.7"/>
<circle cx="42.5" cy="660.7" r="1.0" fill="#f37a76" opacity="0.7"/>
<circle cx="44.9" cy="655.6" r="0.7" fill="#f37a76" opacity="0.7"/>
<circle cx="42.0" cy="652.7" r="0.7" fill="#f37a76" opacity="0.7"/>
<circle cx="38.9" cy="659.6" r="0.7" fill="#f37a76" opacity="0.7"/>
<circle cx="42.8" cy="655.4" r="1.3" fill="#f37a76" opacity="0.7"/>
<line x1="105.4" y1="613.0" x2="90.3" y2="615.9" stroke="#fff" stroke-width="1.5"/>
<path d="M93.6,611.8 L89.8,616.0 L94.9,618.5" fill="none" stroke="#fff" stroke-width="1.5" stroke-linecap="round" stroke-linejoin="round"/>
<text x="88" y="657.6" font-size="7.0" fill="#e2e2e2" text-anchor="middle">0</text>
<text x="105.6" y="657.6" font-size="7.0" fill="#e2e2e2" text-anchor="middle">µm</text>
<text x="122.6" y="657.6" font-size="7.0" fill="#e2e2e2" text-anchor="middle">25</text>
<line x1="84.4" y1="660.9000000000001" x2="127" y2="660.9000000000001" stroke="#e6e6e6" stroke-width="1.0"/>
<line x1="85.5" y1="659.9000000000001" x2="85.5" y2="661.0" stroke="#e6e6e6" stroke-width="0.6"/>
<line x1="89.7" y1="659.9000000000001" x2="89.7" y2="661.0" stroke="#e6e6e6" stroke-width="0.6"/>
<line x1="93.8" y1="659.9000000000001" x2="93.8" y2="661.0" stroke="#e6e6e6" stroke-width="0.6"/>
<line x1="98.0" y1="659.9000000000001" x2="98.0" y2="661.0" stroke="#e6e6e6" stroke-width="0.6"/>
<line x1="102.1" y1="659.9000000000001" x2="102.1" y2="661.0" stroke="#e6e6e6" stroke-width="0.6"/>
<line x1="106.2" y1="659.9000000000001" x2="106.2" y2="661.0" stroke="#e6e6e6" stroke-width="0.6"/>
<line x1="110.4" y1="659.9000000000001" x2="110.4" y2="661.0" stroke="#e6e6e6" stroke-width="0.6"/>
<line x1="114.6" y1="659.9000000000001" x2="114.6" y2="661.0" stroke="#e6e6e6" stroke-width="0.6"/>
<line x1="118.7" y1="659.9000000000001" x2="118.7" y2="661.0" stroke="#e6e6e6" stroke-width="0.6"/>
<line x1="122.8" y1="659.9000000000001" x2="122.8" y2="661.0" stroke="#e6e6e6" stroke-width="0.6"/>
<line x1="127.0" y1="659.9000000000001" x2="127.0" y2="661.0" stroke="#e6e6e6" stroke-width="0.6"/>
</g>
<clipPath id="c10"><rect x="131" y="504" width="88" height="77.8"/></clipPath>
<g clip-path="url(#c10)">
<rect x="131.00" y="504.00" width="88.00" height="77.80" fill="#7a7e7a"/>
<rect x="131.00" y="504.00" width="88.00" height="77.80" fill="#000" filter="url(#nz)" opacity="0.6"/>
<g transform="rotate(0 145.7 537.7)">
<path d="M150.7,544.7 L146.6,547.7 L142.4,545.0 L139.3,541.9 L137.7,537.3 L139.5,532.8 L143.1,530.6 L147.1,529.8 L150.6,531.9 L154.5,535.3 L153.7,540.8Z" fill="#7b7e77" stroke="#43453f" stroke-width="0.6" stroke-opacity="0.75" stroke-linejoin="round"/>
<line x1="146.4" y1="537.1" x2="146.8" y2="535.3" stroke="#cfd3cb" stroke-width="0.6" opacity="0.8"/>
<line x1="142.2" y1="536.9" x2="139.6" y2="540.1" stroke="#cfd3cb" stroke-width="0.6" opacity="0.8"/>
<line x1="142.7" y1="536.5" x2="144.0" y2="535.3" stroke="#cfd3cb" stroke-width="0.6" opacity="0.8"/>
<line x1="149.2" y1="537.5" x2="146.1" y2="539.9" stroke="#cfd3cb" stroke-width="0.6" opacity="0.8"/>
<line x1="145.2" y1="543.8" x2="142.9" y2="542.6" stroke="#cfd3cb" stroke-width="0.6" opacity="0.8"/>
<line x1="145.9" y1="535.0" x2="147.6" y2="538.3" stroke="#cfd3cb" stroke-width="0.6" opacity="0.8"/>
<line x1="150.0" y1="539.2" x2="149.9" y2="542.6" stroke="#3a3c38" stroke-width="0.6" opacity="0.8"/>
<line x1="148.9" y1="537.3" x2="147.7" y2="535.2" stroke="#3a3c38" stroke-width="0.6" opacity="0.8"/>
<line x1="145.9" y1="537.7" x2="147.9" y2="540.4" stroke="#3a3c38" stroke-width="0.6" opacity="0.8"/>
<line x1="143.1" y1="539.0" x2="144.6" y2="537.9" stroke="#3a3c38" stroke-width="0.6" opacity="0.8"/>
<line x1="146.3" y1="542.3" x2="148.1" y2="542.3" stroke="#3cc83c" stroke-width="1.0" stroke-linecap="round" opacity="0.9"/>
<line x1="147.5" y1="539.3" x2="145.5" y2="538.1" stroke="#3cc83c" stroke-width="1.0" stroke-linecap="round" opacity="0.9"/>
<line x1="146.8" y1="542.0" x2="148.9" y2="544.3" stroke="#3cc83c" stroke-width="1.0" stroke-linecap="round" opacity="0.9"/>
<line x1="145.7" y1="538.8" x2="143.9" y2="536.5" stroke="#3cc83c" stroke-width="1.0" stroke-linecap="round" opacity="0.9"/>
<line x1="146.2" y1="534.9" x2="148.6" y2="535.1" stroke="#3cc83c" stroke-width="1.0" stroke-linecap="round" opacity="0.9"/>
<circle cx="143.6" cy="536.7" r="0.8" fill="#3cc83c" opacity="0.9"/>
<line x1="150.0" y1="535.7" x2="150.9" y2="535.1" stroke="#3cc83c" stroke-width="1.0" stroke-linecap="round" opacity="0.9"/>
<line x1="143.2" y1="537.1" x2="145.7" y2="538.1" stroke="#3cc83c" stroke-width="1.0" stroke-linecap="round" opacity="0.9"/>
<circle cx="149.2" cy="538.0" r="0.6" fill="#3cc83c" opacity="0.9"/>
<line x1="146.9" y1="541.8" x2="145.2" y2="539.6" stroke="#3cc83c" stroke-width="1.0" stroke-linecap="round" opacity="0.9"/>
<line x1="146.6" y1="539.7" x2="149.4" y2="540.5" stroke="#3cc83c" stroke-width="1.0" stroke-linecap="round" opacity="0.9"/>
<line x1="146.6" y1="532.7" x2="148.1" y2="530.5" stroke="#3cc83c" stroke-width="1.0" stroke-linecap="round" opacity="0.9"/>
<line x1="141.1" y1="538.8" x2="141.3" y2="540.1" stroke="#3cc83c" stroke-width="1.0" stroke-linecap="round" opacity="0.9"/>
<line x1="145.7" y1="538.0" x2="145.7" y2="535.4" stroke="#3cc83c" stroke-width="1.0" stroke-linecap="round" opacity="0.9"/>
<line x1="148.3" y1="533.5" x2="146.4" y2="532.9" stroke="#3cc83c" stroke-width="1.0" stroke-linecap="round" opacity="0.9"/>
<line x1="146.5" y1="534.1" x2="144.5" y2="531.6" stroke="#3cc83c" stroke-width="1.0" stroke-linecap="round" opacity="0.9"/>
<line x1="146.9" y1="543.8" x2="146.8" y2="545.4" stroke="#3cc83c" stroke-width="1.0" stroke-linecap="round" opacity="0.9"/>
<circle cx="145.5" cy="531.0" r="0.7" fill="#3cc83c" opacity="0.9"/>
<line x1="147.2" y1="536.1" x2="149.2" y2="534.8" stroke="#3cc83c" stroke-width="1.0" stroke-linecap="round" opacity="0.9"/>
</g>
<g transform="rotate(-15 207 537)">
<path d="M203.5,529.6 L209.3,528.6 L213.6,531.7 L217.1,535.2 L216.3,539.8 L213.3,543.6 L207.7,544.4 L202.2,544.1 L198.6,540.7 L198.2,536.5 L200.1,532.9Z" fill="#7b7e77" stroke="#43453f" stroke-width="0.6" stroke-opacity="0.75" stroke-linejoin="round"/>
<line x1="206.6" y1="536.7" x2="208.3" y2="535.7" stroke="#cfd3cb" stroke-width="0.6" opacity="0.8"/>
<line x1="207.7" y1="537.1" x2="210.0" y2="536.0" stroke="#cfd3cb" stroke-width="0.6" opacity="0.8"/>
<line x1="207.1" y1="537.1" x2="210.6" y2="538.0" stroke="#cfd3cb" stroke-width="0.6" opacity="0.8"/>
<line x1="204.0" y1="534.3" x2="203.8" y2="532.6" stroke="#cfd3cb" stroke-width="0.6" opacity="0.8"/>
<line x1="205.0" y1="536.0" x2="206.6" y2="532.4" stroke="#cfd3cb" stroke-width="0.6" opacity="0.8"/>
<line x1="207.3" y1="536.8" x2="210.2" y2="533.6" stroke="#cfd3cb" stroke-width="0.6" opacity="0.8"/>
<line x1="207.7" y1="536.8" x2="208.2" y2="538.6" stroke="#3a3c38" stroke-width="0.6" opacity="0.8"/>
<line x1="212.4" y1="537.9" x2="213.7" y2="534.8" stroke="#3a3c38" stroke-width="0.6" opacity="0.8"/>
<line x1="208.9" y1="534.1" x2="208.4" y2="535.8" stroke="#3a3c38" stroke-width="0.6" opacity="0.8"/>
<line x1="211.0" y1="539.3" x2="211.7" y2="541.6" stroke="#3a3c38" stroke-width="0.6" opacity="0.8"/>
<line x1="206.9" y1="537.1" x2="206.3" y2="539.6" stroke="#3cc83c" stroke-width="1.0" stroke-linecap="round" opacity="0.9"/>
<circle cx="205.4" cy="538.4" r="0.8" fill="#3cc83c" opacity="0.9"/>
<line x1="209.8" y1="534.0" x2="208.1" y2="535.0" stroke="#3cc83c" stroke-width="1.0" stroke-linecap="round" opacity="0.9"/>
<circle cx="207.4" cy="534.9" r="0.8" fill="#3cc83c" opacity="0.9"/>
<line x1="208.3" y1="542.1" x2="208.9" y2="540.8" stroke="#3cc83c" stroke-width="1.0" stroke-linecap="round" opacity="0.9"/>
<circle cx="208.5" cy="537.0" r="1.1" fill="#3cc83c" opacity="0.9"/>
<line x1="210.7" y1="537.1" x2="211.1" y2="535.7" stroke="#3cc83c" stroke-width="1.0" stroke-linecap="round" opacity="0.9"/>
</g>
<g transform="rotate(0 155.2 564.6)">
<path d="M146.7,564.9 L146.8,559.8 L151.5,557.6 L156.3,555.1 L160.5,558.4 L163.0,562.2 L164.4,566.8 L161.3,570.8 L156.6,572.0 L151.6,572.7 L148.8,568.8Z" fill="#7b7e77" stroke="#43453f" stroke-width="0.6" stroke-opacity="0.75" stroke-linejoin="round"/>
<line x1="156.2" y1="560.6" x2="157.0" y2="557.3" stroke="#cfd3cb" stroke-width="0.6" opacity="0.8"/>
<line x1="153.7" y1="566.4" x2="150.4" y2="569.0" stroke="#cfd3cb" stroke-width="0.6" opacity="0.8"/>
<line x1="159.9" y1="567.3" x2="162.0" y2="567.6" stroke="#cfd3cb" stroke-width="0.6" opacity="0.8"/>
<line x1="154.7" y1="569.9" x2="152.1" y2="569.8" stroke="#cfd3cb" stroke-width="0.6" opacity="0.8"/>
<line x1="156.3" y1="563.7" x2="153.3" y2="564.4" stroke="#cfd3cb" stroke-width="0.6" opacity="0.8"/>
<line x1="155.3" y1="560.2" x2="153.8" y2="558.2" stroke="#cfd3cb" stroke-width="0.6" opacity="0.8"/>
<line x1="154.8" y1="565.4" x2="156.7" y2="562.5" stroke="#3a3c38" stroke-width="0.6" opacity="0.8"/>
<line x1="155.1" y1="563.6" x2="151.6" y2="565.0" stroke="#3a3c38" stroke-width="0.6" opacity="0.8"/>
<line x1="154.5" y1="564.2" x2="150.5" y2="565.2" stroke="#3a3c38" stroke-width="0.6" opacity="0.8"/>
<line x1="155.3" y1="565.7" x2="154.1" y2="569.1" stroke="#3a3c38" stroke-width="0.6" opacity="0.8"/>
<line x1="155.8" y1="563.7" x2="155.8" y2="565.5" stroke="#3cc83c" stroke-width="1.0" stroke-linecap="round" opacity="0.9"/>
<line x1="154.1" y1="564.4" x2="155.2" y2="567.4" stroke="#3cc83c" stroke-width="1.0" stroke-linecap="round" opacity="0.9"/>
<circle cx="155.1" cy="563.9" r="0.6" fill="#3cc83c" opacity="0.9"/>
<circle cx="150.0" cy="569.0" r="0.9" fill="#3cc83c" opacity="0.9"/>
<circle cx="153.9" cy="565.1" r="0.6" fill="#3cc83c" opacity="0.9"/>
<line x1="155.9" y1="567.1" x2="153.7" y2="568.7" stroke="#3cc83c" stroke-width="1.0" stroke-linecap="round" opacity="0.9"/>
<circle cx="154.0" cy="561.4" r="0.8" fill="#3cc83c" opacity="0.9"/>
<line x1="157.9" y1="567.8" x2="157.7" y2="564.8" stroke="#3cc83c" stroke-width="1.0" stroke-linecap="round" opacity="0.9"/>
<circle cx="151.5" cy="566.2" r="0.8" fill="#3cc83c" opacity="0.9"/>
<circle cx="155.9" cy="569.4" r="1.0" fill="#3cc83c" opacity="0.9"/>
<circle cx="153.3" cy="559.1" r="0.9" fill="#3cc83c" opacity="0.9"/>
<circle cx="153.1" cy="565.2" r="0.6" fill="#3cc83c" opacity="0.9"/>
<circle cx="150.3" cy="567.2" r="0.9" fill="#3cc83c" opacity="0.9"/>
<line x1="155.2" y1="567.5" x2="153.8" y2="566.1" stroke="#3cc83c" stroke-width="1.0" stroke-linecap="round" opacity="0.9"/>
<line x1="152.2" y1="559.0" x2="150.7" y2="556.8" stroke="#3cc83c" stroke-width="1.0" stroke-linecap="round" opacity="0.9"/>
<circle cx="152.5" cy="566.7" r="0.5" fill="#3cc83c" opacity="0.9"/>
<circle cx="154.1" cy="564.3" r="1.1" fill="#3cc83c" opacity="0.9"/>
<line x1="154.5" y1="564.5" x2="152.0" y2="563.9" stroke="#3cc83c" stroke-width="1.0" stroke-linecap="round" opacity="0.9"/>
<circle cx="150.7" cy="564.3" r="0.8" fill="#3cc83c" opacity="0.9"/>
<line x1="149.5" y1="568.0" x2="148.7" y2="566.3" stroke="#3cc83c" stroke-width="1.0" stroke-linecap="round" opacity="0.9"/>
<circle cx="155.3" cy="563.8" r="0.7" fill="#3cc83c" opacity="0.9"/>
</g>
<circle cx="162.7" cy="510" r="6.40" fill="none" stroke="#474a46" stroke-width="0.9" opacity="0.6"/>
<circle cx="162.7" cy="510" r="5.70" fill="#f06060"/>
<circle cx="162.7" cy="510" r="4.56" fill="none" stroke="#f7a8a0" stroke-width="0.6" opacity="0.6"/>
<circle cx="163.7" cy="510.4" r="1.0" fill="#e54343" opacity="0.8"/>
<circle cx="164.4" cy="510.1" r="1.0" fill="#e54343" opacity="0.8"/>
<circle cx="162.3" cy="508.7" r="0.8" fill="#e54343" opacity="0.8"/>
<circle cx="163.2" cy="512.9" r="1.4" fill="#e54343" opacity="0.8"/>
<circle cx="161.8" cy="509.9" r="1.3" fill="#e54343" opacity="0.8"/>
<circle cx="162.0" cy="510.5" r="0.7" fill="#e54343" opacity="0.8"/>
<circle cx="163.2" cy="506.8" r="1.2" fill="#e54343" opacity="0.8"/>
<circle cx="160.5" cy="510.4" r="0.8" fill="#e54343" opacity="0.8"/>
<circle cx="164.1" cy="509.7" r="1.2" fill="#e54343" opacity="0.8"/>
<circle cx="164.1" cy="507.0" r="0.8" fill="#f58a86" opacity="0.75"/>
<circle cx="162.1" cy="512.1" r="0.6" fill="#f58a86" opacity="0.75"/>
<circle cx="163.4" cy="508.8" r="1.0" fill="#f58a86" opacity="0.75"/>
<circle cx="162.5" cy="511.5" r="0.7" fill="#f58a86" opacity="0.75"/>
<circle cx="162.0" cy="510.3" r="0.5" fill="#f58a86" opacity="0.75"/>
<circle cx="184.6" cy="506.6" r="7.35" fill="none" stroke="#474a46" stroke-width="0.9" opacity="0.6"/>
<circle cx="184.6" cy="506.6" r="6.65" fill="#f06060"/>
<circle cx="184.6" cy="506.6" r="5.32" fill="none" stroke="#f7a8a0" stroke-width="0.6" opacity="0.6"/>
<circle cx="184.4" cy="505.3" r="0.8" fill="#e54343" opacity="0.8"/>
<circle cx="183.9" cy="508.7" r="1.0" fill="#e54343" opacity="0.8"/>
<circle cx="182.6" cy="504.3" r="0.9" fill="#e54343" opacity="0.8"/>
<circle cx="188.2" cy="504.9" r="0.7" fill="#e54343" opacity="0.8"/>
<circle cx="186.6" cy="502.9" r="1.3" fill="#e54343" opacity="0.8"/>
<circle cx="187.1" cy="509.6" r="1.2" fill="#e54343" opacity="0.8"/>
<circle cx="184.7" cy="506.6" r="1.5" fill="#e54343" opacity="0.8"/>
<circle cx="184.0" cy="505.6" r="0.7" fill="#e54343" opacity="0.8"/>
<circle cx="185.3" cy="507.4" r="1.3" fill="#e54343" opacity="0.8"/>
<circle cx="184.2" cy="507.2" r="1.4" fill="#e54343" opacity="0.8"/>
<circle cx="184.8" cy="505.8" r="1.0" fill="#f58a86" opacity="0.75"/>
<circle cx="181.8" cy="504.3" r="0.9" fill="#f58a86" opacity="0.75"/>
<circle cx="187.5" cy="504.3" r="1.0" fill="#f58a86" opacity="0.75"/>
<circle cx="185.6" cy="509.7" r="0.8" fill="#f58a86" opacity="0.75"/>
<circle cx="184.5" cy="504.6" r="1.0" fill="#f58a86" opacity="0.75"/>
<circle cx="183.4" cy="506.2" r="0.6" fill="#f58a86" opacity="0.75"/>
<circle cx="183.8" cy="548.1" r="6.68" fill="none" stroke="#474a46" stroke-width="0.9" opacity="0.6"/>
<circle cx="183.8" cy="548.1" r="5.98" fill="#f06060"/>
<circle cx="183.8" cy="548.1" r="4.79" fill="none" stroke="#f7a8a0" stroke-width="0.6" opacity="0.6"/>
<circle cx="185.1" cy="549.7" r="0.7" fill="#e54343" opacity="0.8"/>
<circle cx="183.2" cy="548.2" r="1.0" fill="#e54343" opacity="0.8"/>
<circle cx="181.5" cy="548.1" r="1.4" fill="#e54343" opacity="0.8"/>
<circle cx="187.3" cy="548.2" r="1.0" fill="#e54343" opacity="0.8"/>
<circle cx="181.2" cy="547.0" r="1.4" fill="#e54343" opacity="0.8"/>
<circle cx="182.6" cy="549.3" r="1.5" fill="#e54343" opacity="0.8"/>
<circle cx="186.2" cy="549.3" r="1.2" fill="#e54343" opacity="0.8"/>
<circle cx="186.3" cy="548.6" r="1.2" fill="#e54343" opacity="0.8"/>
<circle cx="185.1" cy="547.5" r="1.5" fill="#e54343" opacity="0.8"/>
<circle cx="181.8" cy="548.0" r="1.0" fill="#f58a86" opacity="0.75"/>
<circle cx="186.7" cy="548.7" r="0.9" fill="#f58a86" opacity="0.75"/>
<circle cx="181.9" cy="551.2" r="0.7" fill="#f58a86" opacity="0.75"/>
<circle cx="181.6" cy="548.5" r="1.0" fill="#f58a86" opacity="0.75"/>
<circle cx="184.2" cy="549.9" r="0.8" fill="#f58a86" opacity="0.75"/>
<circle cx="157" cy="552.5" r="5.64" fill="none" stroke="#474a46" stroke-width="0.9" opacity="0.6"/>
<circle cx="157" cy="552.5" r="4.94" fill="#f06060"/>
<circle cx="157" cy="552.5" r="3.95" fill="none" stroke="#f7a8a0" stroke-width="0.6" opacity="0.6"/>
<circle cx="154.3" cy="551.5" r="0.9" fill="#e54343" opacity="0.8"/>
<circle cx="157.7" cy="551.3" r="1.1" fill="#e54343" opacity="0.8"/>
<circle cx="156.8" cy="554.2" r="1.5" fill="#e54343" opacity="0.8"/>
<circle cx="155.5" cy="550.2" r="0.9" fill="#e54343" opacity="0.8"/>
<circle cx="156.6" cy="553.4" r="1.1" fill="#e54343" opacity="0.8"/>
<circle cx="155.2" cy="550.5" r="0.6" fill="#e54343" opacity="0.8"/>
<circle cx="156.5" cy="549.5" r="1.1" fill="#e54343" opacity="0.8"/>
<circle cx="158.0" cy="552.8" r="0.5" fill="#f58a86" opacity="0.75"/>
<circle cx="158.2" cy="555.5" r="0.9" fill="#f58a86" opacity="0.75"/>
<circle cx="155.5" cy="550.2" r="1.0" fill="#f58a86" opacity="0.75"/>
<circle cx="155.4" cy="551.1" r="0.9" fill="#f58a86" opacity="0.75"/>
<circle cx="133.6" cy="561" r="7.25" fill="none" stroke="#55504e" stroke-width="0.8" opacity="0.5"/>
<circle cx="133.6" cy="561" r="6.65" fill="#f05e5e"/>
<circle cx="133.6" cy="561" r="2.99" fill="#c27272" opacity="0.75"/>
<circle cx="132.2" cy="556.9" r="1.1" fill="#f37a76" opacity="0.7"/>
<circle cx="134.7" cy="565.5" r="1.0" fill="#f37a76" opacity="0.7"/>
<circle cx="133.8" cy="558.6" r="0.7" fill="#f37a76" opacity="0.7"/>
<circle cx="138.5" cy="562.2" r="1.3" fill="#f37a76" opacity="0.7"/>
<circle cx="131.7" cy="558.1" r="1.3" fill="#f37a76" opacity="0.7"/>
<circle cx="134.6" cy="556.9" r="0.8" fill="#f37a76" opacity="0.7"/>
<circle cx="132.4" cy="564.5" r="0.9" fill="#f37a76" opacity="0.7"/>
<circle cx="129.5" cy="562.9" r="1.3" fill="#f37a76" opacity="0.7"/>
<circle cx="137.6" cy="562.4" r="0.6" fill="#f37a76" opacity="0.7"/>
<circle cx="133.6" cy="573" r="6.30" fill="none" stroke="#55504e" stroke-width="0.8" opacity="0.5"/>
<circle cx="133.6" cy="573" r="5.70" fill="#f05e5e"/>
<circle cx="133.6" cy="573" r="2.56" fill="#c27272" opacity="0.75"/>
<circle cx="136.9" cy="576.0" r="1.1" fill="#f37a76" opacity="0.7"/>
<circle cx="136.4" cy="571.4" r="0.6" fill="#f37a76" opacity="0.7"/>
<circle cx="130.8" cy="575.4" r="1.4" fill="#f37a76" opacity="0.7"/>
<circle cx="136.9" cy="572.6" r="0.9" fill="#f37a76" opacity="0.7"/>
<circle cx="136.7" cy="575.3" r="0.8" fill="#f37a76" opacity="0.7"/>
<circle cx="134.6" cy="574.4" r="0.6" fill="#f37a76" opacity="0.7"/>
<circle cx="132.7" cy="571.1" r="1.4" fill="#f37a76" opacity="0.7"/>
<circle cx="137.6" cy="575.5" r="0.7" fill="#f37a76" opacity="0.7"/>
<circle cx="146.6" cy="580" r="5.35" fill="none" stroke="#55504e" stroke-width="0.8" opacity="0.5"/>
<circle cx="146.6" cy="580" r="4.75" fill="#f05e5e"/>
<circle cx="146.6" cy="580" r="2.14" fill="#c27272" opacity="0.75"/>
<circle cx="150.1" cy="580.4" r="0.8" fill="#f37a76" opacity="0.7"/>
<circle cx="146.4" cy="578.1" r="0.6" fill="#f37a76" opacity="0.7"/>
<circle cx="147.1" cy="576.6" r="1.3" fill="#f37a76" opacity="0.7"/>
<circle cx="146.4" cy="578.3" r="1.1" fill="#f37a76" opacity="0.7"/>
<circle cx="145.9" cy="577.4" r="1.3" fill="#f37a76" opacity="0.7"/>
<circle cx="146.5" cy="584.2" r="1.2" fill="#f37a76" opacity="0.7"/>
<circle cx="148.1" cy="580.1" r="1.1" fill="#f37a76" opacity="0.7"/>
<line x1="170.8" y1="541.2" x2="159.9" y2="530.0" stroke="#fff" stroke-width="1.5"/>
<path d="M165.2,530.5 L159.6,529.6 L160.3,535.2" fill="none" stroke="#fff" stroke-width="1.5" stroke-linecap="round" stroke-linejoin="round"/>
<text x="178" y="575.9" font-size="7.0" fill="#e2e2e2" text-anchor="middle">0</text>
<text x="195.6" y="575.9" font-size="7.0" fill="#e2e2e2" text-anchor="middle">µm</text>
<text x="212.6" y="575.9" font-size="7.0" fill="#e2e2e2" text-anchor="middle">25</text>
<line x1="174.4" y1="579.2" x2="217" y2="579.2" stroke="#e6e6e6" stroke-width="1.0"/>
<line x1="175.5" y1="578.2" x2="175.5" y2="579.3" stroke="#e6e6e6" stroke-width="0.6"/>
<line x1="179.7" y1="578.2" x2="179.7" y2="579.3" stroke="#e6e6e6" stroke-width="0.6"/>
<line x1="183.8" y1="578.2" x2="183.8" y2="579.3" stroke="#e6e6e6" stroke-width="0.6"/>
<line x1="187.9" y1="578.2" x2="187.9" y2="579.3" stroke="#e6e6e6" stroke-width="0.6"/>
<line x1="192.1" y1="578.2" x2="192.1" y2="579.3" stroke="#e6e6e6" stroke-width="0.6"/>
<line x1="196.2" y1="578.2" x2="196.2" y2="579.3" stroke="#e6e6e6" stroke-width="0.6"/>
<line x1="200.4" y1="578.2" x2="200.4" y2="579.3" stroke="#e6e6e6" stroke-width="0.6"/>
<line x1="204.6" y1="578.2" x2="204.6" y2="579.3" stroke="#e6e6e6" stroke-width="0.6"/>
<line x1="208.7" y1="578.2" x2="208.7" y2="579.3" stroke="#e6e6e6" stroke-width="0.6"/>
<line x1="212.8" y1="578.2" x2="212.8" y2="579.3" stroke="#e6e6e6" stroke-width="0.6"/>
<line x1="217.0" y1="578.2" x2="217.0" y2="579.3" stroke="#e6e6e6" stroke-width="0.6"/>
</g>
<clipPath id="c11"><rect x="131" y="585.7" width="88" height="78.6"/></clipPath>
<g clip-path="url(#c11)">
<rect x="131.00" y="585.70" width="88.00" height="78.60" fill="#7a7e7a"/>
<rect x="131.00" y="585.70" width="88.00" height="78.60" fill="#000" filter="url(#nz)" opacity="0.6"/>
<g transform="rotate(20 175.1 639.4000000000001)">
<path d="M178.0,632.7 L181.4,635.0 L183.6,639.4 L181.2,643.5 L178.8,647.9 L174.0,647.7 L170.6,645.0 L167.7,641.7 L167.2,637.0 L169.9,633.2 L173.9,630.6Z" fill="#7b7e77" stroke="#43453f" stroke-width="0.6" stroke-opacity="0.75" stroke-linejoin="round"/>
<line x1="177.8" y1="643.1" x2="175.6" y2="645.7" stroke="#cfd3cb" stroke-width="0.6" opacity="0.8"/>
<line x1="173.5" y1="637.6" x2="170.6" y2="640.2" stroke="#cfd3cb" stroke-width="0.6" opacity="0.8"/>
<line x1="179.2" y1="637.8" x2="177.0" y2="636.9" stroke="#cfd3cb" stroke-width="0.6" opacity="0.8"/>
<line x1="180.1" y1="641.5" x2="178.9" y2="637.7" stroke="#cfd3cb" stroke-width="0.6" opacity="0.8"/>
<line x1="173.5" y1="642.5" x2="177.4" y2="641.9" stroke="#cfd3cb" stroke-width="0.6" opacity="0.8"/>
<line x1="173.7" y1="638.3" x2="170.0" y2="640.1" stroke="#cfd3cb" stroke-width="0.6" opacity="0.8"/>
<line x1="172.4" y1="642.2" x2="169.0" y2="639.7" stroke="#3a3c38" stroke-width="0.6" opacity="0.8"/>
<line x1="175.7" y1="637.8" x2="177.9" y2="637.9" stroke="#3a3c38" stroke-width="0.6" opacity="0.8"/>
<line x1="172.2" y1="641.0" x2="173.9" y2="637.2" stroke="#3a3c38" stroke-width="0.6" opacity="0.8"/>
<line x1="179.5" y1="640.7" x2="181.1" y2="636.9" stroke="#3a3c38" stroke-width="0.6" opacity="0.8"/>
<circle cx="173.5" cy="638.6" r="1.0" fill="#3cc83c" opacity="0.9"/>
<line x1="172.8" y1="633.7" x2="174.7" y2="634.9" stroke="#3cc83c" stroke-width="1.0" stroke-linecap="round" opacity="0.9"/>
<circle cx="175.5" cy="638.1" r="1.1" fill="#3cc83c" opacity="0.9"/>
<circle cx="175.5" cy="643.5" r="0.8" fill="#3cc83c" opacity="0.9"/>
<circle cx="175.5" cy="641.1" r="1.0" fill="#3cc83c" opacity="0.9"/>
<circle cx="174.6" cy="639.5" r="1.0" fill="#3cc83c" opacity="0.9"/>
<circle cx="175.5" cy="643.3" r="1.0" fill="#3cc83c" opacity="0.9"/>
<line x1="172.1" y1="639.0" x2="172.6" y2="640.3" stroke="#3cc83c" stroke-width="1.0" stroke-linecap="round" opacity="0.9"/>
<line x1="177.0" y1="643.7" x2="175.3" y2="642.9" stroke="#3cc83c" stroke-width="1.0" stroke-linecap="round" opacity="0.9"/>
<line x1="174.2" y1="639.3" x2="176.0" y2="639.3" stroke="#3cc83c" stroke-width="1.0" stroke-linecap="round" opacity="0.9"/>
<circle cx="178.3" cy="642.0" r="0.6" fill="#3cc83c" opacity="0.9"/>
<line x1="173.3" y1="638.1" x2="174.4" y2="638.2" stroke="#3cc83c" stroke-width="1.0" stroke-linecap="round" opacity="0.9"/>
<line x1="180.6" y1="639.0" x2="179.2" y2="638.4" stroke="#3cc83c" stroke-width="1.0" stroke-linecap="round" opacity="0.9"/>
</g>
<g transform="rotate(0 215.8 618.6)">
<circle cx="215.8" cy="618.6" r="6" fill="#7d807a" stroke="#3a3b38" stroke-width="0.9" stroke-opacity="0.8"/>
<circle cx="215.8" cy="618.6" r="4.90" fill="none" stroke="#c9ccc5" stroke-width="0.7" opacity="0.6"/>
<line x1="216.1" y1="617.0" x2="219.7" y2="615.7" stroke="#cfd3cb" stroke-width="0.6" opacity="0.8"/>
<line x1="217.4" y1="615.2" x2="217.3" y2="616.8" stroke="#cfd3cb" stroke-width="0.6" opacity="0.8"/>
<line x1="216.0" y1="619.3" x2="217.4" y2="620.1" stroke="#cfd3cb" stroke-width="0.6" opacity="0.8"/>
<line x1="212.6" y1="617.4" x2="208.4" y2="618.5" stroke="#cfd3cb" stroke-width="0.6" opacity="0.8"/>
<line x1="216.0" y1="618.5" x2="213.8" y2="616.9" stroke="#cfd3cb" stroke-width="0.6" opacity="0.8"/>
<line x1="218.5" y1="621.2" x2="218.4" y2="624.3" stroke="#cfd3cb" stroke-width="0.6" opacity="0.8"/>
<line x1="213.4" y1="615.7" x2="212.1" y2="613.4" stroke="#3a3c38" stroke-width="0.6" opacity="0.8"/>
<line x1="215.2" y1="618.8" x2="219.6" y2="617.8" stroke="#3a3c38" stroke-width="0.6" opacity="0.8"/>
<line x1="215.8" y1="618.7" x2="215.7" y2="621.3" stroke="#3a3c38" stroke-width="0.6" opacity="0.8"/>
<line x1="218.7" y1="616.6" x2="219.5" y2="615.2" stroke="#3a3c38" stroke-width="0.6" opacity="0.8"/>
<circle cx="216.5" cy="615.5" r="1.1" fill="#3cc83c" opacity="0.9"/>
<circle cx="216.4" cy="618.8" r="1.1" fill="#3cc83c" opacity="0.9"/>
<line x1="215.2" y1="617.4" x2="215.3" y2="616.2" stroke="#3cc83c" stroke-width="1.0" stroke-linecap="round" opacity="0.9"/>
<line x1="215.3" y1="619.6" x2="213.9" y2="619.8" stroke="#3cc83c" stroke-width="1.0" stroke-linecap="round" opacity="0.9"/>
<circle cx="215.8" cy="619.2" r="0.5" fill="#3cc83c" opacity="0.9"/>
<line x1="215.6" y1="617.7" x2="217.0" y2="617.1" stroke="#3cc83c" stroke-width="1.0" stroke-linecap="round" opacity="0.9"/>
<circle cx="219.4" cy="617.0" r="0.6" fill="#3cc83c" opacity="0.9"/>
</g>
<g transform="rotate(0 148.3 642.7)">
<path d="M142.4,644.7 L140.6,640.8 L142.9,637.1 L146.9,635.5 L150.9,636.3 L153.8,638.8 L156.0,642.3 L154.4,646.2 L151.6,649.2 L147.7,649.0 L144.3,647.8Z" fill="#6c6f69" stroke="#43453f" stroke-width="0.6" stroke-opacity="0.75" stroke-linejoin="round"/>
<circle cx="152.3" cy="644.2" r="0.6" fill="#e0e2dc" opacity="0.85"/>
<circle cx="147.5" cy="642.4" r="0.6" fill="#e0e2dc" opacity="0.85"/>
<circle cx="149.4" cy="641.5" r="0.6" fill="#e0e2dc" opacity="0.85"/>
<circle cx="147.5" cy="643.2" r="0.6" fill="#e0e2dc" opacity="0.85"/>
<circle cx="147.6" cy="647.7" r="0.6" fill="#e0e2dc" opacity="0.85"/>
<circle cx="147.8" cy="643.6" r="0.6" fill="#e0e2dc" opacity="0.85"/>
<circle cx="146.4" cy="642.8" r="0.6" fill="#e0e2dc" opacity="0.85"/>
<circle cx="148.9" cy="642.3" r="0.6" fill="#e0e2dc" opacity="0.85"/>
<circle cx="148.6" cy="642.7" r="0.6" fill="#e0e2dc" opacity="0.85"/>
<circle cx="151.5" cy="640.2" r="0.6" fill="#e0e2dc" opacity="0.85"/>
<circle cx="149.0" cy="645.5" r="0.6" fill="#e0e2dc" opacity="0.85"/>
<circle cx="148.0" cy="644.2" r="0.6" fill="#e0e2dc" opacity="0.85"/>
<circle cx="149.0" cy="644.8" r="0.6" fill="#e0e2dc" opacity="0.85"/>
<circle cx="154.3" cy="642.4" r="0.6" fill="#e0e2dc" opacity="0.85"/>
<circle cx="148.8" cy="642.4" r="0.6" fill="#e0e2dc" opacity="0.85"/>
<circle cx="147.0" cy="647.9" r="0.6" fill="#e0e2dc" opacity="0.85"/>
<circle cx="152.4" cy="644.2" r="0.6" fill="#e0e2dc" opacity="0.85"/>
<circle cx="146.7" cy="648.4" r="0.6" fill="#e0e2dc" opacity="0.85"/>
<line x1="152.2" y1="643.1" x2="151.2" y2="644.7" stroke="#cfd3cb" stroke-width="0.6" opacity="0.8"/>
<line x1="152.4" y1="642.7" x2="150.3" y2="642.4" stroke="#cfd3cb" stroke-width="0.6" opacity="0.8"/>
<line x1="144.2" y1="644.5" x2="144.9" y2="647.6" stroke="#cfd3cb" stroke-width="0.6" opacity="0.8"/>
<line x1="148.9" y1="643.4" x2="149.3" y2="639.8" stroke="#cfd3cb" stroke-width="0.6" opacity="0.8"/>
<line x1="148.4" y1="643.1" x2="151.3" y2="644.8" stroke="#cfd3cb" stroke-width="0.6" opacity="0.8"/>
<line x1="147.0" y1="642.7" x2="147.9" y2="645.9" stroke="#cfd3cb" stroke-width="0.6" opacity="0.8"/>
<line x1="147.3" y1="638.9" x2="145.4" y2="637.8" stroke="#3a3c38" stroke-width="0.6" opacity="0.8"/>
<line x1="151.6" y1="644.1" x2="148.5" y2="646.1" stroke="#3a3c38" stroke-width="0.6" opacity="0.8"/>
<line x1="152.0" y1="644.0" x2="150.0" y2="647.5" stroke="#3a3c38" stroke-width="0.6" opacity="0.8"/>
<line x1="149.9" y1="640.9" x2="154.1" y2="641.3" stroke="#3a3c38" stroke-width="0.6" opacity="0.8"/>
<line x1="143.4" y1="643.4" x2="144.6" y2="646.0" stroke="#3cc83c" stroke-width="1.0" stroke-linecap="round" opacity="0.9"/>
<line x1="147.7" y1="643.4" x2="146.8" y2="642.8" stroke="#3cc83c" stroke-width="1.0" stroke-linecap="round" opacity="0.9"/>
<line x1="145.8" y1="642.4" x2="147.7" y2="644.2" stroke="#3cc83c" stroke-width="1.0" stroke-linecap="round" opacity="0.9"/>
<line x1="150.3" y1="638.3" x2="149.8" y2="636.5" stroke="#3cc83c" stroke-width="1.0" stroke-linecap="round" opacity="0.9"/>
<circle cx="148.3" cy="642.4" r="1.1" fill="#3cc83c" opacity="0.9"/>
<line x1="145.4" y1="642.8" x2="144.4" y2="642.6" stroke="#3cc83c" stroke-width="1.0" stroke-linecap="round" opacity="0.9"/>
<line x1="149.5" y1="642.4" x2="150.8" y2="643.4" stroke="#3cc83c" stroke-width="1.0" stroke-linecap="round" opacity="0.9"/>
<line x1="148.4" y1="642.5" x2="147.9" y2="641.2" stroke="#3cc83c" stroke-width="1.0" stroke-linecap="round" opacity="0.9"/>
<line x1="151.7" y1="643.1" x2="149.1" y2="642.7" stroke="#3cc83c" stroke-width="1.0" stroke-linecap="round" opacity="0.9"/>
</g>
<g transform="rotate(0 132 592.7)">
<path d="M134.5,594.6 L133.0,595.5 L131.5,595.1 L130.2,594.5 L129.2,593.3 L129.4,591.7 L130.4,590.6 L131.8,590.2 L133.3,590.3 L134.2,591.5 L134.9,592.9Z" fill="#6c6f69" stroke="#43453f" stroke-width="0.6" stroke-opacity="0.75" stroke-linejoin="round"/>
<circle cx="132.2" cy="592.4" r="0.6" fill="#e0e2dc" opacity="0.85"/>
<circle cx="130.4" cy="591.9" r="0.6" fill="#e0e2dc" opacity="0.85"/>
<circle cx="133.0" cy="594.4" r="0.6" fill="#e0e2dc" opacity="0.85"/>
<circle cx="132.9" cy="592.3" r="0.6" fill="#e0e2dc" opacity="0.85"/>
<circle cx="130.2" cy="593.7" r="0.6" fill="#e0e2dc" opacity="0.85"/>
<circle cx="131.1" cy="592.5" r="0.6" fill="#e0e2dc" opacity="0.85"/>
<circle cx="133.7" cy="592.0" r="0.6" fill="#e0e2dc" opacity="0.85"/>
<circle cx="131.7" cy="593.2" r="0.6" fill="#e0e2dc" opacity="0.85"/>
<circle cx="131.5" cy="593.6" r="0.6" fill="#e0e2dc" opacity="0.85"/>
<circle cx="133.9" cy="592.5" r="0.6" fill="#e0e2dc" opacity="0.85"/>
<circle cx="133.7" cy="591.7" r="0.6" fill="#e0e2dc" opacity="0.85"/>
<circle cx="132.1" cy="592.6" r="0.6" fill="#e0e2dc" opacity="0.85"/>
<circle cx="129.7" cy="592.4" r="0.6" fill="#e0e2dc" opacity="0.85"/>
<circle cx="132.5" cy="592.5" r="0.6" fill="#e0e2dc" opacity="0.85"/>
<circle cx="130.7" cy="593.4" r="0.6" fill="#e0e2dc" opacity="0.85"/>
<circle cx="131.2" cy="593.7" r="0.6" fill="#e0e2dc" opacity="0.85"/>
<circle cx="132.9" cy="593.1" r="0.6" fill="#e0e2dc" opacity="0.85"/>
<circle cx="132.0" cy="592.7" r="0.6" fill="#e0e2dc" opacity="0.85"/>
<line x1="133.2" y1="594.2" x2="133.9" y2="589.9" stroke="#cfd3cb" stroke-width="0.6" opacity="0.8"/>
<line x1="130.9" y1="591.5" x2="134.0" y2="588.8" stroke="#cfd3cb" stroke-width="0.6" opacity="0.8"/>
<line x1="133.2" y1="593.0" x2="132.9" y2="596.5" stroke="#cfd3cb" stroke-width="0.6" opacity="0.8"/>
<line x1="131.8" y1="593.7" x2="134.8" y2="592.2" stroke="#cfd3cb" stroke-width="0.6" opacity="0.8"/>
<line x1="132.0" y1="593.7" x2="128.0" y2="595.5" stroke="#cfd3cb" stroke-width="0.6" opacity="0.8"/>
<line x1="131.9" y1="593.3" x2="130.7" y2="591.8" stroke="#cfd3cb" stroke-width="0.6" opacity="0.8"/>
<line x1="130.5" y1="591.7" x2="128.2" y2="591.5" stroke="#3a3c38" stroke-width="0.6" opacity="0.8"/>
<line x1="131.0" y1="592.9" x2="132.1" y2="594.4" stroke="#3a3c38" stroke-width="0.6" opacity="0.8"/>
<line x1="132.4" y1="593.1" x2="130.4" y2="594.4" stroke="#3a3c38" stroke-width="0.6" opacity="0.8"/>
<line x1="132.0" y1="592.9" x2="128.2" y2="591.7" stroke="#3a3c38" stroke-width="0.6" opacity="0.8"/>
<circle cx="131.0" cy="591.9" r="0.6" fill="#3cc83c" opacity="0.9"/>
<line x1="131.7" y1="591.7" x2="130.2" y2="590.4" stroke="#3cc83c" stroke-width="1.0" stroke-linecap="round" opacity="0.9"/>
<line x1="131.8" y1="593.2" x2="130.0" y2="593.1" stroke="#3cc83c" stroke-width="1.0" stroke-linecap="round" opacity="0.9"/>
<line x1="132.0" y1="592.7" x2="133.0" y2="591.5" stroke="#3cc83c" stroke-width="1.0" stroke-linecap="round" opacity="0.9"/>
<line x1="131.0" y1="592.3" x2="132.6" y2="592.2" stroke="#3cc83c" stroke-width="1.0" stroke-linecap="round" opacity="0.9"/>
</g>
<circle cx="167.7" cy="617.7" r="6.88" fill="none" stroke="#474a46" stroke-width="0.9" opacity="0.6"/>
<circle cx="167.7" cy="617.7" r="6.17" fill="#f06060"/>
<circle cx="167.7" cy="617.7" r="4.94" fill="none" stroke="#f7a8a0" stroke-width="0.6" opacity="0.6"/>
<circle cx="167.8" cy="617.0" r="0.7" fill="#e54343" opacity="0.8"/>
<circle cx="169.0" cy="616.3" r="0.7" fill="#e54343" opacity="0.8"/>
<circle cx="166.3" cy="618.9" r="1.3" fill="#e54343" opacity="0.8"/>
<circle cx="168.5" cy="618.3" r="1.5" fill="#e54343" opacity="0.8"/>
<circle cx="167.7" cy="617.0" r="0.9" fill="#e54343" opacity="0.8"/>
<circle cx="165.9" cy="620.0" r="1.2" fill="#e54343" opacity="0.8"/>
<circle cx="169.8" cy="614.8" r="1.1" fill="#e54343" opacity="0.8"/>
<circle cx="167.5" cy="614.5" r="1.3" fill="#e54343" opacity="0.8"/>
<circle cx="164.3" cy="618.2" r="1.2" fill="#e54343" opacity="0.8"/>
<circle cx="168.2" cy="617.4" r="1.0" fill="#f58a86" opacity="0.75"/>
<circle cx="171.0" cy="617.8" r="0.9" fill="#f58a86" opacity="0.75"/>
<circle cx="163.5" cy="617.8" r="0.8" fill="#f58a86" opacity="0.75"/>
<circle cx="164.8" cy="619.4" r="1.0" fill="#f58a86" opacity="0.75"/>
<circle cx="166.4" cy="616.7" r="0.8" fill="#f58a86" opacity="0.75"/>
<circle cx="164.7" cy="618.5" r="0.7" fill="#f58a86" opacity="0.75"/>
<circle cx="215.5" cy="627.2" r="3.55" fill="none" stroke="#474a46" stroke-width="0.9" opacity="0.6"/>
<circle cx="215.5" cy="627.2" r="2.85" fill="#f06060"/>
<circle cx="215.5" cy="627.2" r="2.28" fill="none" stroke="#f7a8a0" stroke-width="0.6" opacity="0.6"/>
<circle cx="214.6" cy="627.9" r="0.9" fill="#e54343" opacity="0.8"/>
<circle cx="214.8" cy="628.6" r="1.4" fill="#e54343" opacity="0.8"/>
<circle cx="214.6" cy="627.2" r="0.8" fill="#e54343" opacity="0.8"/>
<circle cx="215.4" cy="627.5" r="1.1" fill="#e54343" opacity="0.8"/>
<circle cx="215.3" cy="627.1" r="1.1" fill="#f58a86" opacity="0.75"/>
<circle cx="214.7" cy="628.7" r="1.0" fill="#f58a86" opacity="0.75"/>
<circle cx="132" cy="631.6" r="6.30" fill="none" stroke="#55504e" stroke-width="0.8" opacity="0.5"/>
<circle cx="132" cy="631.6" r="5.70" fill="#f05e5e"/>
<circle cx="132" cy="631.6" r="2.56" fill="#c27272" opacity="0.75"/>
<circle cx="134.3" cy="631.0" r="0.9" fill="#f37a76" opacity="0.7"/>
<circle cx="133.5" cy="630.7" r="0.6" fill="#f37a76" opacity="0.7"/>
<circle cx="128.9" cy="630.2" r="1.3" fill="#f37a76" opacity="0.7"/>
<circle cx="132.5" cy="628.1" r="1.4" fill="#f37a76" opacity="0.7"/>
<circle cx="128.5" cy="631.2" r="1.1" fill="#f37a76" opacity="0.7"/>
<circle cx="129.7" cy="633.5" r="1.1" fill="#f37a76" opacity="0.7"/>
<circle cx="129.1" cy="635.6" r="1.1" fill="#f37a76" opacity="0.7"/>
<circle cx="130.0" cy="631.3" r="0.9" fill="#f37a76" opacity="0.7"/>
<circle cx="132.7" cy="645.4000000000001" r="6.30" fill="none" stroke="#55504e" stroke-width="0.8" opacity="0.5"/>
<circle cx="132.7" cy="645.4000000000001" r="5.70" fill="#f05e5e"/>
<circle cx="132.7" cy="645.4000000000001" r="2.56" fill="#c27272" opacity="0.75"/>
<circle cx="129.8" cy="647.5" r="1.1" fill="#f37a76" opacity="0.7"/>
<circle cx="136.3" cy="642.0" r="1.0" fill="#f37a76" opacity="0.7"/>
<circle cx="129.1" cy="646.8" r="1.4" fill="#f37a76" opacity="0.7"/>
<circle cx="130.8" cy="648.3" r="1.3" fill="#f37a76" opacity="0.7"/>
<circle cx="134.0" cy="647.9" r="1.4" fill="#f37a76" opacity="0.7"/>
<circle cx="134.3" cy="642.3" r="0.7" fill="#f37a76" opacity="0.7"/>
<circle cx="135.9" cy="642.9" r="1.3" fill="#f37a76" opacity="0.7"/>
<circle cx="137.4" cy="645.1" r="0.9" fill="#f37a76" opacity="0.7"/>
<circle cx="144.8" cy="655.7" r="8.67" fill="none" stroke="#55504e" stroke-width="0.8" opacity="0.5"/>
<circle cx="144.8" cy="655.7" r="8.07" fill="#f05e5e"/>
<circle cx="144.8" cy="655.7" r="3.63" fill="#c27272" opacity="0.75"/>
<circle cx="146.9" cy="658.9" r="1.0" fill="#f37a76" opacity="0.7"/>
<circle cx="141.5" cy="655.6" r="0.7" fill="#f37a76" opacity="0.7"/>
<circle cx="141.1" cy="651.8" r="0.9" fill="#f37a76" opacity="0.7"/>
<circle cx="150.3" cy="655.5" r="0.6" fill="#f37a76" opacity="0.7"/>
<circle cx="139.5" cy="659.0" r="0.8" fill="#f37a76" opacity="0.7"/>
<circle cx="143.9" cy="653.4" r="0.8" fill="#f37a76" opacity="0.7"/>
<circle cx="147.7" cy="651.3" r="1.1" fill="#f37a76" opacity="0.7"/>
<circle cx="146.4" cy="660.3" r="1.0" fill="#f37a76" opacity="0.7"/>
<circle cx="144.2" cy="661.2" r="1.0" fill="#f37a76" opacity="0.7"/>
<circle cx="150.0" cy="655.6" r="0.9" fill="#f37a76" opacity="0.7"/>
<circle cx="147.1" cy="657.9" r="1.2" fill="#f37a76" opacity="0.7"/>
<circle cx="147.1" cy="657.5" r="0.7" fill="#f37a76" opacity="0.7"/>
<circle cx="151" cy="649.7" r="5.45" fill="none" stroke="#474a46" stroke-width="0.9" opacity="0.6"/>
<circle cx="151" cy="649.7" r="4.75" fill="#f06060"/>
<circle cx="151" cy="649.7" r="3.80" fill="none" stroke="#f7a8a0" stroke-width="0.6" opacity="0.6"/>
<circle cx="148.3" cy="649.3" r="1.2" fill="#e54343" opacity="0.8"/>
<circle cx="151.1" cy="649.5" r="0.6" fill="#e54343" opacity="0.8"/>
<circle cx="151.1" cy="648.6" r="1.2" fill="#e54343" opacity="0.8"/>
<circle cx="150.7" cy="650.1" r="0.8" fill="#e54343" opacity="0.8"/>
<circle cx="153.4" cy="651.5" r="1.1" fill="#e54343" opacity="0.8"/>
<circle cx="150.1" cy="650.9" r="0.9" fill="#e54343" opacity="0.8"/>
<circle cx="153.8" cy="650.7" r="1.1" fill="#e54343" opacity="0.8"/>
<circle cx="152.4" cy="649.3" r="0.9" fill="#f58a86" opacity="0.75"/>
<circle cx="151.0" cy="649.8" r="1.1" fill="#f58a86" opacity="0.75"/>
<circle cx="151.6" cy="648.9" r="1.0" fill="#f58a86" opacity="0.75"/>
<circle cx="151.4" cy="648.8" r="0.9" fill="#f58a86" opacity="0.75"/>
<line x1="196.4" y1="621.2" x2="180.5" y2="625.4" stroke="#fff" stroke-width="1.5"/>
<path d="M183.5,621.1 L180.0,625.5 L185.2,627.6" fill="none" stroke="#fff" stroke-width="1.5" stroke-linecap="round" stroke-linejoin="round"/>
<text x="178" y="657.6" font-size="7.0" fill="#e2e2e2" text-anchor="middle">0</text>
<text x="195.6" y="657.6" font-size="7.0" fill="#e2e2e2" text-anchor="middle">µm</text>
<text x="212.6" y="657.6" font-size="7.0" fill="#e2e2e2" text-anchor="middle">25</text>
<line x1="174.4" y1="660.9000000000001" x2="217" y2="660.9000000000001" stroke="#e6e6e6" stroke-width="1.0"/>
<line x1="175.5" y1="659.9000000000001" x2="175.5" y2="661.0" stroke="#e6e6e6" stroke-width="0.6"/>
<line x1="179.7" y1="659.9000000000001" x2="179.7" y2="661.0" stroke="#e6e6e6" stroke-width="0.6"/>
<line x1="183.8" y1="659.9000000000001" x2="183.8" y2="661.0" stroke="#e6e6e6" stroke-width="0.6"/>
<line x1="187.9" y1="659.9000000000001" x2="187.9" y2="661.0" stroke="#e6e6e6" stroke-width="0.6"/>
<line x1="192.1" y1="659.9000000000001" x2="192.1" y2="661.0" stroke="#e6e6e6" stroke-width="0.6"/>
<line x1="196.2" y1="659.9000000000001" x2="196.2" y2="661.0" stroke="#e6e6e6" stroke-width="0.6"/>
<line x1="200.4" y1="659.9000000000001" x2="200.4" y2="661.0" stroke="#e6e6e6" stroke-width="0.6"/>
<line x1="204.6" y1="659.9000000000001" x2="204.6" y2="661.0" stroke="#e6e6e6" stroke-width="0.6"/>
<line x1="208.7" y1="659.9000000000001" x2="208.7" y2="661.0" stroke="#e6e6e6" stroke-width="0.6"/>
<line x1="212.8" y1="659.9000000000001" x2="212.8" y2="661.0" stroke="#e6e6e6" stroke-width="0.6"/>
<line x1="217.0" y1="659.9000000000001" x2="217.0" y2="661.0" stroke="#e6e6e6" stroke-width="0.6"/>
</g>
<clipPath id="c20"><rect x="221" y="504" width="89" height="77.8"/></clipPath>
<g clip-path="url(#c20)">
<rect x="221.00" y="504.00" width="89.00" height="77.80" fill="#7a7e7a"/>
<rect x="221.00" y="504.00" width="89.00" height="77.80" fill="#000" filter="url(#nz)" opacity="0.6"/>
<g transform="rotate(0 233.1 540.3)">
<path d="M240.8,538.2 L241.7,543.3 L237.7,546.4 L233.9,548.4 L229.3,548.4 L226.8,544.3 L225.6,540.0 L225.8,534.9 L230.0,532.5 L234.6,531.2 L238.1,534.6Z" fill="#7b7e77" stroke="#43453f" stroke-width="0.6" stroke-opacity="0.75" stroke-linejoin="round"/>
<line x1="234.0" y1="542.2" x2="235.7" y2="546.2" stroke="#cfd3cb" stroke-width="0.6" opacity="0.8"/>
<line x1="232.3" y1="543.5" x2="234.6" y2="545.5" stroke="#cfd3cb" stroke-width="0.6" opacity="0.8"/>
<line x1="231.4" y1="541.9" x2="233.1" y2="542.6" stroke="#cfd3cb" stroke-width="0.6" opacity="0.8"/>
<line x1="234.0" y1="538.5" x2="234.1" y2="540.5" stroke="#cfd3cb" stroke-width="0.6" opacity="0.8"/>
<line x1="232.8" y1="541.7" x2="236.2" y2="542.4" stroke="#cfd3cb" stroke-width="0.6" opacity="0.8"/>
<line x1="232.6" y1="541.1" x2="232.1" y2="539.4" stroke="#cfd3cb" stroke-width="0.6" opacity="0.8"/>
<line x1="232.5" y1="545.1" x2="234.5" y2="547.2" stroke="#3a3c38" stroke-width="0.6" opacity="0.8"/>
<line x1="235.4" y1="536.3" x2="236.8" y2="538.4" stroke="#3a3c38" stroke-width="0.6" opacity="0.8"/>
<line x1="232.7" y1="538.1" x2="234.8" y2="537.6" stroke="#3a3c38" stroke-width="0.6" opacity="0.8"/>
<line x1="235.8" y1="539.4" x2="236.2" y2="542.2" stroke="#3a3c38" stroke-width="0.6" opacity="0.8"/>
<line x1="236.2" y1="543.8" x2="238.0" y2="542.4" stroke="#3cc83c" stroke-width="1.0" stroke-linecap="round" opacity="0.9"/>
<circle cx="232.0" cy="541.5" r="0.6" fill="#3cc83c" opacity="0.9"/>
<line x1="233.6" y1="539.7" x2="232.1" y2="539.3" stroke="#3cc83c" stroke-width="1.0" stroke-linecap="round" opacity="0.9"/>
<circle cx="233.4" cy="537.7" r="0.8" fill="#3cc83c" opacity="0.9"/>
<line x1="232.2" y1="542.7" x2="233.4" y2="545.3" stroke="#3cc83c" stroke-width="1.0" stroke-linecap="round" opacity="0.9"/>
<line x1="231.3" y1="544.3" x2="229.6" y2="543.7" stroke="#3cc83c" stroke-width="1.0" stroke-linecap="round" opacity="0.9"/>
<line x1="231.2" y1="540.3" x2="230.6" y2="541.7" stroke="#3cc83c" stroke-width="1.0" stroke-linecap="round" opacity="0.9"/>
<line x1="236.3" y1="543.7" x2="233.8" y2="545.5" stroke="#3cc83c" stroke-width="1.0" stroke-linecap="round" opacity="0.9"/>
<circle cx="234.0" cy="534.4" r="0.6" fill="#3cc83c" opacity="0.9"/>
<circle cx="233.1" cy="540.5" r="0.9" fill="#3cc83c" opacity="0.9"/>
<circle cx="231.5" cy="542.5" r="0.9" fill="#3cc83c" opacity="0.9"/>
<line x1="233.2" y1="546.0" x2="232.2" y2="545.0" stroke="#3cc83c" stroke-width="1.0" stroke-linecap="round" opacity="0.9"/>
<circle cx="237.5" cy="544.4" r="0.9" fill="#3cc83c" opacity="0.9"/>
<line x1="233.3" y1="540.4" x2="233.9" y2="541.9" stroke="#3cc83c" stroke-width="1.0" stroke-linecap="round" opacity="0.9"/>
<line x1="232.9" y1="540.5" x2="232.0" y2="539.4" stroke="#3cc83c" stroke-width="1.0" stroke-linecap="round" opacity="0.9"/>
</g>
<g transform="rotate(-20 297 532.6)">
<path d="M302.6,526.9 L307.0,529.6 L306.5,533.4 L304.7,536.8 L300.2,539.2 L294.3,538.6 L290.4,536.3 L285.8,533.7 L286.8,529.7 L291.7,527.4 L296.9,526.9Z" fill="#7b7e77" stroke="#43453f" stroke-width="0.6" stroke-opacity="0.75" stroke-linejoin="round"/>
<line x1="299.6" y1="530.4" x2="301.8" y2="531.1" stroke="#cfd3cb" stroke-width="0.6" opacity="0.8"/>
<line x1="301.3" y1="534.9" x2="302.4" y2="539.0" stroke="#cfd3cb" stroke-width="0.6" opacity="0.8"/>
<line x1="297.0" y1="532.2" x2="296.1" y2="529.7" stroke="#cfd3cb" stroke-width="0.6" opacity="0.8"/>
<line x1="296.9" y1="528.8" x2="296.6" y2="530.6" stroke="#cfd3cb" stroke-width="0.6" opacity="0.8"/>
<line x1="299.9" y1="532.0" x2="303.1" y2="530.4" stroke="#cfd3cb" stroke-width="0.6" opacity="0.8"/>
<line x1="296.6" y1="528.8" x2="294.6" y2="526.8" stroke="#cfd3cb" stroke-width="0.6" opacity="0.8"/>
<line x1="301.7" y1="533.7" x2="299.0" y2="535.0" stroke="#3a3c38" stroke-width="0.6" opacity="0.8"/>
<line x1="297.8" y1="532.3" x2="297.9" y2="530.7" stroke="#3a3c38" stroke-width="0.6" opacity="0.8"/>
<line x1="295.3" y1="529.1" x2="295.1" y2="532.2" stroke="#3a3c38" stroke-width="0.6" opacity="0.8"/>
<line x1="301.5" y1="532.0" x2="299.3" y2="531.4" stroke="#3a3c38" stroke-width="0.6" opacity="0.8"/>
<line x1="299.7" y1="533.3" x2="300.3" y2="534.9" stroke="#3cc83c" stroke-width="1.0" stroke-linecap="round" opacity="0.9"/>
<circle cx="300.8" cy="535.4" r="0.6" fill="#3cc83c" opacity="0.9"/>
<line x1="297.2" y1="535.3" x2="298.9" y2="534.6" stroke="#3cc83c" stroke-width="1.0" stroke-linecap="round" opacity="0.9"/>
<line x1="294.8" y1="537.0" x2="293.2" y2="536.4" stroke="#3cc83c" stroke-width="1.0" stroke-linecap="round" opacity="0.9"/>
<circle cx="298.8" cy="530.0" r="0.6" fill="#3cc83c" opacity="0.9"/>
<line x1="294.5" y1="529.9" x2="294.8" y2="527.1" stroke="#3cc83c" stroke-width="1.0" stroke-linecap="round" opacity="0.9"/>
<line x1="298.8" y1="533.6" x2="299.1" y2="534.7" stroke="#3cc83c" stroke-width="1.0" stroke-linecap="round" opacity="0.9"/>
<circle cx="296.7" cy="533.6" r="0.8" fill="#3cc83c" opacity="0.9"/>
<line x1="299.0" y1="533.7" x2="298.1" y2="534.7" stroke="#3cc83c" stroke-width="1.0" stroke-linecap="round" opacity="0.9"/>
</g>
<g transform="rotate(0 239.2 565.4)">
<path d="M246.1,568.7 L244.5,574.1 L239.0,575.0 L234.8,571.9 L230.5,569.2 L229.1,563.7 L232.5,559.3 L237.1,557.8 L241.9,556.9 L245.9,559.8 L247.2,564.4Z" fill="#7b7e77" stroke="#43453f" stroke-width="0.6" stroke-opacity="0.75" stroke-linejoin="round"/>
<line x1="239.2" y1="565.4" x2="242.2" y2="563.7" stroke="#cfd3cb" stroke-width="0.6" opacity="0.8"/>
<line x1="235.2" y1="561.2" x2="233.9" y2="559.4" stroke="#cfd3cb" stroke-width="0.6" opacity="0.8"/>
<line x1="239.2" y1="566.3" x2="243.0" y2="566.9" stroke="#cfd3cb" stroke-width="0.6" opacity="0.8"/>
<line x1="240.2" y1="563.9" x2="241.5" y2="567.0" stroke="#cfd3cb" stroke-width="0.6" opacity="0.8"/>
<line x1="242.4" y1="560.7" x2="244.3" y2="564.0" stroke="#cfd3cb" stroke-width="0.6" opacity="0.8"/>
<line x1="241.4" y1="561.4" x2="240.5" y2="563.2" stroke="#cfd3cb" stroke-width="0.6" opacity="0.8"/>
<line x1="240.1" y1="563.6" x2="238.0" y2="566.0" stroke="#3a3c38" stroke-width="0.6" opacity="0.8"/>
<line x1="235.7" y1="569.2" x2="235.8" y2="570.8" stroke="#3a3c38" stroke-width="0.6" opacity="0.8"/>
<line x1="235.7" y1="563.8" x2="237.2" y2="560.5" stroke="#3a3c38" stroke-width="0.6" opacity="0.8"/>
<line x1="244.0" y1="562.1" x2="241.0" y2="562.2" stroke="#3a3c38" stroke-width="0.6" opacity="0.8"/>
<line x1="240.4" y1="567.2" x2="242.6" y2="568.4" stroke="#3cc83c" stroke-width="1.0" stroke-linecap="round" opacity="0.9"/>
<circle cx="240.8" cy="568.1" r="0.6" fill="#3cc83c" opacity="0.9"/>
<line x1="242.2" y1="566.2" x2="242.1" y2="565.2" stroke="#3cc83c" stroke-width="1.0" stroke-linecap="round" opacity="0.9"/>
<circle cx="242.5" cy="560.3" r="0.8" fill="#3cc83c" opacity="0.9"/>
<line x1="238.2" y1="570.0" x2="236.7" y2="570.8" stroke="#3cc83c" stroke-width="1.0" stroke-linecap="round" opacity="0.9"/>
<circle cx="234.8" cy="567.2" r="1.0" fill="#3cc83c" opacity="0.9"/>
<line x1="240.3" y1="567.2" x2="238.7" y2="566.5" stroke="#3cc83c" stroke-width="1.0" stroke-linecap="round" opacity="0.9"/>
<line x1="239.4" y1="566.0" x2="236.4" y2="566.7" stroke="#3cc83c" stroke-width="1.0" stroke-linecap="round" opacity="0.9"/>
<circle cx="244.4" cy="562.1" r="1.1" fill="#3cc83c" opacity="0.9"/>
<line x1="235.0" y1="561.4" x2="233.9" y2="559.4" stroke="#3cc83c" stroke-width="1.0" stroke-linecap="round" opacity="0.9"/>
<circle cx="238.0" cy="569.3" r="0.8" fill="#3cc83c" opacity="0.9"/>
<line x1="237.9" y1="563.7" x2="238.7" y2="563.0" stroke="#3cc83c" stroke-width="1.0" stroke-linecap="round" opacity="0.9"/>
<line x1="241.0" y1="569.9" x2="243.1" y2="571.1" stroke="#3cc83c" stroke-width="1.0" stroke-linecap="round" opacity="0.9"/>
<line x1="236.3" y1="568.4" x2="234.1" y2="568.0" stroke="#3cc83c" stroke-width="1.0" stroke-linecap="round" opacity="0.9"/>
<line x1="238.6" y1="565.9" x2="240.3" y2="564.5" stroke="#3cc83c" stroke-width="1.0" stroke-linecap="round" opacity="0.9"/>
<line x1="243.9" y1="569.4" x2="245.7" y2="570.6" stroke="#3cc83c" stroke-width="1.0" stroke-linecap="round" opacity="0.9"/>
<line x1="239.2" y1="568.9" x2="239.5" y2="571.1" stroke="#3cc83c" stroke-width="1.0" stroke-linecap="round" opacity="0.9"/>
<line x1="242.0" y1="567.8" x2="243.6" y2="568.7" stroke="#3cc83c" stroke-width="1.0" stroke-linecap="round" opacity="0.9"/>
<circle cx="242.0" cy="566.8" r="0.8" fill="#3cc83c" opacity="0.9"/>
</g>
<circle cx="249.2" cy="515.2" r="6.68" fill="none" stroke="#474a46" stroke-width="0.9" opacity="0.6"/>
<circle cx="249.2" cy="515.2" r="5.98" fill="#f06060"/>
<circle cx="249.2" cy="515.2" r="4.79" fill="none" stroke="#f7a8a0" stroke-width="0.6" opacity="0.6"/>
<circle cx="248.5" cy="512.1" r="0.7" fill="#e54343" opacity="0.8"/>
<circle cx="252.2" cy="515.0" r="0.7" fill="#e54343" opacity="0.8"/>
<circle cx="250.0" cy="513.8" r="0.8" fill="#e54343" opacity="0.8"/>
<circle cx="251.5" cy="514.6" r="1.3" fill="#e54343" opacity="0.8"/>
<circle cx="251.3" cy="517.7" r="0.7" fill="#e54343" opacity="0.8"/>
<circle cx="249.3" cy="516.8" r="0.6" fill="#e54343" opacity="0.8"/>
<circle cx="248.5" cy="514.7" r="0.9" fill="#e54343" opacity="0.8"/>
<circle cx="248.7" cy="513.5" r="1.4" fill="#e54343" opacity="0.8"/>
<circle cx="246.6" cy="512.7" r="1.1" fill="#e54343" opacity="0.8"/>
<circle cx="252.4" cy="513.4" r="0.6" fill="#f58a86" opacity="0.75"/>
<circle cx="249.2" cy="513.8" r="1.0" fill="#f58a86" opacity="0.75"/>
<circle cx="247.7" cy="512.1" r="0.6" fill="#f58a86" opacity="0.75"/>
<circle cx="247.0" cy="517.4" r="1.1" fill="#f58a86" opacity="0.75"/>
<circle cx="249.2" cy="515.0" r="0.9" fill="#f58a86" opacity="0.75"/>
<circle cx="275.5" cy="505" r="6.88" fill="none" stroke="#474a46" stroke-width="0.9" opacity="0.6"/>
<circle cx="275.5" cy="505" r="6.17" fill="#f06060"/>
<circle cx="275.5" cy="505" r="4.94" fill="none" stroke="#f7a8a0" stroke-width="0.6" opacity="0.6"/>
<circle cx="277.4" cy="506.4" r="1.3" fill="#e54343" opacity="0.8"/>
<circle cx="278.5" cy="507.6" r="1.2" fill="#e54343" opacity="0.8"/>
<circle cx="275.5" cy="505.8" r="1.0" fill="#e54343" opacity="0.8"/>
<circle cx="276.8" cy="502.9" r="0.7" fill="#e54343" opacity="0.8"/>
<circle cx="276.0" cy="505.1" r="1.3" fill="#e54343" opacity="0.8"/>
<circle cx="276.4" cy="507.2" r="0.9" fill="#e54343" opacity="0.8"/>
<circle cx="274.9" cy="503.5" r="0.7" fill="#e54343" opacity="0.8"/>
<circle cx="277.1" cy="503.4" r="1.2" fill="#e54343" opacity="0.8"/>
<circle cx="277.0" cy="501.2" r="0.6" fill="#e54343" opacity="0.8"/>
<circle cx="275.1" cy="505.5" r="0.8" fill="#f58a86" opacity="0.75"/>
<circle cx="277.9" cy="502.5" r="0.5" fill="#f58a86" opacity="0.75"/>
<circle cx="277.0" cy="508.2" r="0.9" fill="#f58a86" opacity="0.75"/>
<circle cx="273.9" cy="506.3" r="0.6" fill="#f58a86" opacity="0.75"/>
<circle cx="276.5" cy="503.6" r="1.0" fill="#f58a86" opacity="0.75"/>
<circle cx="275.2" cy="504.8" r="0.7" fill="#f58a86" opacity="0.75"/>
<circle cx="273.8" cy="544.7" r="6.68" fill="none" stroke="#474a46" stroke-width="0.9" opacity="0.6"/>
<circle cx="273.8" cy="544.7" r="5.98" fill="#f06060"/>
<circle cx="273.8" cy="544.7" r="4.79" fill="none" stroke="#f7a8a0" stroke-width="0.6" opacity="0.6"/>
<circle cx="274.6" cy="548.4" r="1.1" fill="#e54343" opacity="0.8"/>
<circle cx="274.5" cy="544.9" r="0.9" fill="#e54343" opacity="0.8"/>
<circle cx="271.4" cy="545.2" r="0.9" fill="#e54343" opacity="0.8"/>
<circle cx="273.8" cy="544.7" r="1.1" fill="#e54343" opacity="0.8"/>
<circle cx="273.8" cy="544.8" r="1.0" fill="#e54343" opacity="0.8"/>
<circle cx="274.0" cy="544.7" r="0.7" fill="#e54343" opacity="0.8"/>
<circle cx="273.3" cy="543.7" r="0.8" fill="#e54343" opacity="0.8"/>
<circle cx="272.7" cy="544.7" r="1.1" fill="#e54343" opacity="0.8"/>
<circle cx="269.9" cy="544.0" r="1.5" fill="#e54343" opacity="0.8"/>
<circle cx="276.1" cy="545.2" r="1.0" fill="#f58a86" opacity="0.75"/>
<circle cx="276.1" cy="542.4" r="0.9" fill="#f58a86" opacity="0.75"/>
<circle cx="272.8" cy="543.6" r="0.7" fill="#f58a86" opacity="0.75"/>
<circle cx="274.8" cy="541.2" r="1.1" fill="#f58a86" opacity="0.75"/>
<circle cx="273.3" cy="543.5" r="1.0" fill="#f58a86" opacity="0.75"/>
<circle cx="250.4" cy="555" r="6.40" fill="none" stroke="#474a46" stroke-width="0.9" opacity="0.6"/>
<circle cx="250.4" cy="555" r="5.70" fill="#f06060"/>
<circle cx="250.4" cy="555" r="4.56" fill="none" stroke="#f7a8a0" stroke-width="0.6" opacity="0.6"/>
<circle cx="250.3" cy="553.0" r="1.2" fill="#e54343" opacity="0.8"/>
<circle cx="249.1" cy="556.8" r="1.0" fill="#e54343" opacity="0.8"/>
<circle cx="251.6" cy="555.5" r="0.9" fill="#e54343" opacity="0.8"/>
<circle cx="252.3" cy="554.9" r="0.9" fill="#e54343" opacity="0.8"/>
<circle cx="250.4" cy="555.9" r="0.9" fill="#e54343" opacity="0.8"/>
<circle cx="250.4" cy="555.0" r="1.4" fill="#e54343" opacity="0.8"/>
<circle cx="248.7" cy="555.5" r="1.1" fill="#e54343" opacity="0.8"/>
<circle cx="250.2" cy="555.6" r="0.7" fill="#e54343" opacity="0.8"/>
<circle cx="250.0" cy="556.2" r="1.3" fill="#e54343" opacity="0.8"/>
<circle cx="246.9" cy="553.8" r="0.7" fill="#f58a86" opacity="0.75"/>
<circle cx="252.4" cy="553.9" r="0.5" fill="#f58a86" opacity="0.75"/>
<circle cx="251.4" cy="557.1" r="1.1" fill="#f58a86" opacity="0.75"/>
<circle cx="248.5" cy="557.4" r="0.8" fill="#f58a86" opacity="0.75"/>
<circle cx="250.6" cy="554.8" r="0.8" fill="#f58a86" opacity="0.75"/>
<circle cx="224.5" cy="561" r="7.25" fill="none" stroke="#55504e" stroke-width="0.8" opacity="0.5"/>
<circle cx="224.5" cy="561" r="6.65" fill="#f05e5e"/>
<circle cx="224.5" cy="561" r="2.99" fill="#c27272" opacity="0.75"/>
<circle cx="227.0" cy="559.2" r="0.8" fill="#f37a76" opacity="0.7"/>
<circle cx="227.1" cy="561.4" r="0.8" fill="#f37a76" opacity="0.7"/>
<circle cx="223.7" cy="558.3" r="0.9" fill="#f37a76" opacity="0.7"/>
<circle cx="225.9" cy="565.2" r="1.3" fill="#f37a76" opacity="0.7"/>
<circle cx="222.8" cy="558.8" r="1.2" fill="#f37a76" opacity="0.7"/>
<circle cx="228.8" cy="560.0" r="0.7" fill="#f37a76" opacity="0.7"/>
<circle cx="226.5" cy="555.9" r="0.9" fill="#f37a76" opacity="0.7"/>
<circle cx="226.3" cy="563.1" r="1.0" fill="#f37a76" opacity="0.7"/>
<circle cx="227.7" cy="557.8" r="1.3" fill="#f37a76" opacity="0.7"/>
<circle cx="225.3" cy="573.2" r="6.30" fill="none" stroke="#55504e" stroke-width="0.8" opacity="0.5"/>
<circle cx="225.3" cy="573.2" r="5.70" fill="#f05e5e"/>
<circle cx="225.3" cy="573.2" r="2.56" fill="#c27272" opacity="0.75"/>
<circle cx="226.0" cy="575.9" r="1.2" fill="#f37a76" opacity="0.7"/>
<circle cx="223.5" cy="570.7" r="1.1" fill="#f37a76" opacity="0.7"/>
<circle cx="224.3" cy="574.8" r="0.9" fill="#f37a76" opacity="0.7"/>
<circle cx="229.0" cy="574.3" r="0.9" fill="#f37a76" opacity="0.7"/>
<circle cx="221.5" cy="573.3" r="0.8" fill="#f37a76" opacity="0.7"/>
<circle cx="223.6" cy="573.6" r="1.3" fill="#f37a76" opacity="0.7"/>
<circle cx="220.6" cy="571.2" r="0.6" fill="#f37a76" opacity="0.7"/>
<circle cx="222.1" cy="570.5" r="0.9" fill="#f37a76" opacity="0.7"/>
<circle cx="238" cy="580" r="5.35" fill="none" stroke="#55504e" stroke-width="0.8" opacity="0.5"/>
<circle cx="238" cy="580" r="4.75" fill="#f05e5e"/>
<circle cx="238" cy="580" r="2.14" fill="#c27272" opacity="0.75"/>
<circle cx="239.6" cy="581.0" r="0.7" fill="#f37a76" opacity="0.7"/>
<circle cx="238.2" cy="578.3" r="1.3" fill="#f37a76" opacity="0.7"/>
<circle cx="235.4" cy="581.4" r="1.1" fill="#f37a76" opacity="0.7"/>
<circle cx="234.9" cy="578.9" r="1.1" fill="#f37a76" opacity="0.7"/>
<circle cx="236.3" cy="583.1" r="0.8" fill="#f37a76" opacity="0.7"/>
<circle cx="237.1" cy="576.5" r="1.2" fill="#f37a76" opacity="0.7"/>
<circle cx="236.7" cy="583.4" r="1.4" fill="#f37a76" opacity="0.7"/>
<line x1="255.6" y1="544.7" x2="245.5" y2="534.2" stroke="#fff" stroke-width="1.5"/>
<path d="M250.8,534.7 L245.2,533.8 L245.8,539.4" fill="none" stroke="#fff" stroke-width="1.5" stroke-linecap="round" stroke-linejoin="round"/>
<text x="269" y="575.9" font-size="7.0" fill="#e2e2e2" text-anchor="middle">0</text>
<text x="286.6" y="575.9" font-size="7.0" fill="#e2e2e2" text-anchor="middle">µm</text>
<text x="303.6" y="575.9" font-size="7.0" fill="#e2e2e2" text-anchor="middle">25</text>
<line x1="265.4" y1="579.2" x2="308" y2="579.2" stroke="#e6e6e6" stroke-width="1.0"/>
<line x1="266.5" y1="578.2" x2="266.5" y2="579.3" stroke="#e6e6e6" stroke-width="0.6"/>
<line x1="270.6" y1="578.2" x2="270.6" y2="579.3" stroke="#e6e6e6" stroke-width="0.6"/>
<line x1="274.8" y1="578.2" x2="274.8" y2="579.3" stroke="#e6e6e6" stroke-width="0.6"/>
<line x1="278.9" y1="578.2" x2="278.9" y2="579.3" stroke="#e6e6e6" stroke-width="0.6"/>
<line x1="283.1" y1="578.2" x2="283.1" y2="579.3" stroke="#e6e6e6" stroke-width="0.6"/>
<line x1="287.2" y1="578.2" x2="287.2" y2="579.3" stroke="#e6e6e6" stroke-width="0.6"/>
<line x1="291.4" y1="578.2" x2="291.4" y2="579.3" stroke="#e6e6e6" stroke-width="0.6"/>
<line x1="295.6" y1="578.2" x2="295.6" y2="579.3" stroke="#e6e6e6" stroke-width="0.6"/>
<line x1="299.7" y1="578.2" x2="299.7" y2="579.3" stroke="#e6e6e6" stroke-width="0.6"/>
<line x1="303.9" y1="578.2" x2="303.9" y2="579.3" stroke="#e6e6e6" stroke-width="0.6"/>
<line x1="308.0" y1="578.2" x2="308.0" y2="579.3" stroke="#e6e6e6" stroke-width="0.6"/>
</g>
<clipPath id="c21"><rect x="221" y="585.7" width="89" height="78.6"/></clipPath>
<g clip-path="url(#c21)">
<rect x="221.00" y="585.70" width="89.00" height="78.60" fill="#7a7e7a"/>
<rect x="221.00" y="585.70" width="89.00" height="78.60" fill="#000" filter="url(#nz)" opacity="0.6"/>
<g transform="rotate(10 266.3 646.3000000000001)">
<path d="M259.2,648.6 L258.6,644.0 L260.3,639.1 L265.2,638.9 L269.1,639.7 L272.9,641.7 L274.7,646.2 L273.6,651.2 L269.5,653.6 L265.1,655.9 L261.5,652.2Z" fill="#7b7e77" stroke="#43453f" stroke-width="0.6" stroke-opacity="0.75" stroke-linejoin="round"/>
<line x1="266.3" y1="645.8" x2="268.2" y2="646.1" stroke="#cfd3cb" stroke-width="0.6" opacity="0.8"/>
<line x1="268.9" y1="647.4" x2="267.0" y2="646.7" stroke="#cfd3cb" stroke-width="0.6" opacity="0.8"/>
<line x1="268.2" y1="645.5" x2="269.4" y2="647.1" stroke="#cfd3cb" stroke-width="0.6" opacity="0.8"/>
<line x1="265.9" y1="640.9" x2="266.7" y2="642.3" stroke="#cfd3cb" stroke-width="0.6" opacity="0.8"/>
<line x1="266.5" y1="644.9" x2="269.5" y2="644.6" stroke="#cfd3cb" stroke-width="0.6" opacity="0.8"/>
<line x1="265.1" y1="644.8" x2="266.0" y2="642.0" stroke="#cfd3cb" stroke-width="0.6" opacity="0.8"/>
<line x1="264.1" y1="651.0" x2="267.0" y2="653.3" stroke="#3a3c38" stroke-width="0.6" opacity="0.8"/>
<line x1="269.6" y1="647.8" x2="266.2" y2="650.2" stroke="#3a3c38" stroke-width="0.6" opacity="0.8"/>
<line x1="269.2" y1="647.5" x2="265.6" y2="649.8" stroke="#3a3c38" stroke-width="0.6" opacity="0.8"/>
<line x1="269.6" y1="645.1" x2="269.9" y2="647.3" stroke="#3a3c38" stroke-width="0.6" opacity="0.8"/>
<line x1="266.1" y1="649.2" x2="266.9" y2="651.8" stroke="#3cc83c" stroke-width="1.0" stroke-linecap="round" opacity="0.9"/>
<circle cx="265.1" cy="644.7" r="0.6" fill="#3cc83c" opacity="0.9"/>
<circle cx="265.4" cy="645.9" r="1.0" fill="#3cc83c" opacity="0.9"/>
<circle cx="265.8" cy="651.3" r="0.7" fill="#3cc83c" opacity="0.9"/>
<circle cx="264.8" cy="649.2" r="0.6" fill="#3cc83c" opacity="0.9"/>
<line x1="264.7" y1="642.6" x2="262.2" y2="641.2" stroke="#3cc83c" stroke-width="1.0" stroke-linecap="round" opacity="0.9"/>
<line x1="267.7" y1="652.1" x2="268.2" y2="649.2" stroke="#3cc83c" stroke-width="1.0" stroke-linecap="round" opacity="0.9"/>
<circle cx="268.6" cy="651.6" r="0.7" fill="#3cc83c" opacity="0.9"/>
<circle cx="267.0" cy="646.4" r="0.5" fill="#3cc83c" opacity="0.9"/>
<circle cx="267.1" cy="645.8" r="0.6" fill="#3cc83c" opacity="0.9"/>
<line x1="268.4" y1="650.3" x2="266.8" y2="652.9" stroke="#3cc83c" stroke-width="1.0" stroke-linecap="round" opacity="0.9"/>
<circle cx="265.1" cy="640.5" r="0.5" fill="#3cc83c" opacity="0.9"/>
<circle cx="266.8" cy="651.6" r="0.5" fill="#3cc83c" opacity="0.9"/>
<line x1="264.8" y1="646.3" x2="265.6" y2="646.9" stroke="#3cc83c" stroke-width="1.0" stroke-linecap="round" opacity="0.9"/>
<circle cx="268.3" cy="646.2" r="0.6" fill="#3cc83c" opacity="0.9"/>
<line x1="265.4" y1="646.4" x2="266.5" y2="648.6" stroke="#3cc83c" stroke-width="1.0" stroke-linecap="round" opacity="0.9"/>
<line x1="269.1" y1="650.3" x2="270.5" y2="651.4" stroke="#3cc83c" stroke-width="1.0" stroke-linecap="round" opacity="0.9"/>
</g>
<g transform="rotate(0 236.6 641.1)">
<path d="M228.7,641.3 L230.9,637.6 L233.8,635.3 L237.6,633.1 L241.6,635.0 L243.8,638.8 L242.9,642.8 L240.9,645.8 L237.7,647.6 L234.2,646.7 L231.6,644.5Z" fill="#6c6f69" stroke="#43453f" stroke-width="0.6" stroke-opacity="0.75" stroke-linejoin="round"/>
<circle cx="234.2" cy="641.0" r="0.6" fill="#e0e2dc" opacity="0.85"/>
<circle cx="234.6" cy="640.3" r="0.6" fill="#e0e2dc" opacity="0.85"/>
<circle cx="240.7" cy="641.4" r="0.6" fill="#e0e2dc" opacity="0.85"/>
<circle cx="234.7" cy="638.4" r="0.6" fill="#e0e2dc" opacity="0.85"/>
<circle cx="232.7" cy="639.9" r="0.6" fill="#e0e2dc" opacity="0.85"/>
<circle cx="241.8" cy="640.5" r="0.6" fill="#e0e2dc" opacity="0.85"/>
<circle cx="236.1" cy="638.8" r="0.6" fill="#e0e2dc" opacity="0.85"/>
<circle cx="235.6" cy="643.4" r="0.6" fill="#e0e2dc" opacity="0.85"/>
<circle cx="238.9" cy="640.7" r="0.6" fill="#e0e2dc" opacity="0.85"/>
<circle cx="234.8" cy="642.7" r="0.6" fill="#e0e2dc" opacity="0.85"/>
<circle cx="240.3" cy="645.8" r="0.6" fill="#e0e2dc" opacity="0.85"/>
<circle cx="240.2" cy="641.2" r="0.6" fill="#e0e2dc" opacity="0.85"/>
<circle cx="238.0" cy="640.4" r="0.6" fill="#e0e2dc" opacity="0.85"/>
<circle cx="234.9" cy="639.6" r="0.6" fill="#e0e2dc" opacity="0.85"/>
<circle cx="236.7" cy="642.3" r="0.6" fill="#e0e2dc" opacity="0.85"/>
<circle cx="240.4" cy="644.5" r="0.6" fill="#e0e2dc" opacity="0.85"/>
<circle cx="237.8" cy="635.8" r="0.6" fill="#e0e2dc" opacity="0.85"/>
<circle cx="240.6" cy="642.4" r="0.6" fill="#e0e2dc" opacity="0.85"/>
<line x1="235.2" y1="643.9" x2="232.8" y2="643.2" stroke="#cfd3cb" stroke-width="0.6" opacity="0.8"/>
<line x1="236.6" y1="641.1" x2="236.5" y2="637.0" stroke="#cfd3cb" stroke-width="0.6" opacity="0.8"/>
<line x1="233.7" y1="640.9" x2="235.9" y2="640.8" stroke="#cfd3cb" stroke-width="0.6" opacity="0.8"/>
<line x1="234.1" y1="638.5" x2="231.5" y2="641.0" stroke="#cfd3cb" stroke-width="0.6" opacity="0.8"/>
<line x1="234.6" y1="642.7" x2="231.9" y2="640.4" stroke="#cfd3cb" stroke-width="0.6" opacity="0.8"/>
<line x1="235.3" y1="643.9" x2="233.2" y2="643.3" stroke="#cfd3cb" stroke-width="0.6" opacity="0.8"/>
<line x1="235.6" y1="640.3" x2="238.1" y2="638.7" stroke="#3a3c38" stroke-width="0.6" opacity="0.8"/>
<line x1="236.1" y1="638.6" x2="234.0" y2="638.9" stroke="#3a3c38" stroke-width="0.6" opacity="0.8"/>
<line x1="239.4" y1="644.6" x2="236.4" y2="644.1" stroke="#3a3c38" stroke-width="0.6" opacity="0.8"/>
<line x1="232.7" y1="640.4" x2="232.8" y2="642.4" stroke="#3a3c38" stroke-width="0.6" opacity="0.8"/>
<circle cx="237.7" cy="638.8" r="1.0" fill="#3cc83c" opacity="0.9"/>
<line x1="240.4" y1="638.1" x2="238.4" y2="640.0" stroke="#3cc83c" stroke-width="1.0" stroke-linecap="round" opacity="0.9"/>
<line x1="236.9" y1="640.5" x2="236.9" y2="641.7" stroke="#3cc83c" stroke-width="1.0" stroke-linecap="round" opacity="0.9"/>
<line x1="233.8" y1="644.6" x2="232.7" y2="645.0" stroke="#3cc83c" stroke-width="1.0" stroke-linecap="round" opacity="0.9"/>
<circle cx="232.2" cy="644.5" r="0.8" fill="#3cc83c" opacity="0.9"/>
<circle cx="232.2" cy="641.7" r="0.6" fill="#3cc83c" opacity="0.9"/>
<line x1="235.7" y1="639.2" x2="235.9" y2="641.0" stroke="#3cc83c" stroke-width="1.0" stroke-linecap="round" opacity="0.9"/>
</g>
<g transform="rotate(0 224.5 590.9000000000001)">
<path d="M222.6,594.0 L221.6,592.3 L221.1,590.4 L221.6,588.4 L223.6,587.8 L225.4,587.6 L227.5,588.3 L228.0,590.4 L227.7,592.4 L226.4,593.8 L224.5,595.0Z" fill="#6c6f69" stroke="#43453f" stroke-width="0.6" stroke-opacity="0.75" stroke-linejoin="round"/>
<circle cx="226.2" cy="592.0" r="0.6" fill="#e0e2dc" opacity="0.85"/>
<circle cx="224.9" cy="590.4" r="0.6" fill="#e0e2dc" opacity="0.85"/>
<circle cx="222.3" cy="592.1" r="0.6" fill="#e0e2dc" opacity="0.85"/>
<circle cx="223.6" cy="590.1" r="0.6" fill="#e0e2dc" opacity="0.85"/>
<circle cx="225.9" cy="591.3" r="0.6" fill="#e0e2dc" opacity="0.85"/>
<circle cx="223.0" cy="592.6" r="0.6" fill="#e0e2dc" opacity="0.85"/>
<circle cx="224.1" cy="592.2" r="0.6" fill="#e0e2dc" opacity="0.85"/>
<circle cx="223.0" cy="588.8" r="0.6" fill="#e0e2dc" opacity="0.85"/>
<circle cx="223.8" cy="591.9" r="0.6" fill="#e0e2dc" opacity="0.85"/>
<circle cx="221.9" cy="589.5" r="0.6" fill="#e0e2dc" opacity="0.85"/>
<circle cx="225.6" cy="593.8" r="0.6" fill="#e0e2dc" opacity="0.85"/>
<circle cx="224.2" cy="589.7" r="0.6" fill="#e0e2dc" opacity="0.85"/>
<circle cx="224.0" cy="590.0" r="0.6" fill="#e0e2dc" opacity="0.85"/>
<circle cx="226.7" cy="591.9" r="0.6" fill="#e0e2dc" opacity="0.85"/>
<circle cx="223.3" cy="592.1" r="0.6" fill="#e0e2dc" opacity="0.85"/>
<circle cx="221.6" cy="591.0" r="0.6" fill="#e0e2dc" opacity="0.85"/>
<circle cx="224.5" cy="590.8" r="0.6" fill="#e0e2dc" opacity="0.85"/>
<circle cx="223.3" cy="590.1" r="0.6" fill="#e0e2dc" opacity="0.85"/>
<line x1="222.4" y1="591.4" x2="219.9" y2="592.9" stroke="#cfd3cb" stroke-width="0.6" opacity="0.8"/>
<line x1="225.4" y1="590.2" x2="222.4" y2="590.3" stroke="#cfd3cb" stroke-width="0.6" opacity="0.8"/>
<line x1="225.3" y1="589.3" x2="225.1" y2="586.6" stroke="#cfd3cb" stroke-width="0.6" opacity="0.8"/>
<line x1="226.2" y1="591.3" x2="222.6" y2="590.1" stroke="#cfd3cb" stroke-width="0.6" opacity="0.8"/>
<line x1="224.5" y1="590.6" x2="224.9" y2="592.3" stroke="#cfd3cb" stroke-width="0.6" opacity="0.8"/>
<line x1="224.6" y1="590.7" x2="227.8" y2="592.6" stroke="#cfd3cb" stroke-width="0.6" opacity="0.8"/>
<line x1="224.4" y1="590.8" x2="222.8" y2="587.5" stroke="#3a3c38" stroke-width="0.6" opacity="0.8"/>
<line x1="224.4" y1="590.9" x2="223.4" y2="588.3" stroke="#3a3c38" stroke-width="0.6" opacity="0.8"/>
<line x1="222.3" y1="589.6" x2="223.9" y2="585.8" stroke="#3a3c38" stroke-width="0.6" opacity="0.8"/>
<line x1="225.0" y1="591.6" x2="223.5" y2="591.4" stroke="#3a3c38" stroke-width="0.6" opacity="0.8"/>
<line x1="225.3" y1="590.8" x2="224.7" y2="592.3" stroke="#3cc83c" stroke-width="1.0" stroke-linecap="round" opacity="0.9"/>
<line x1="225.6" y1="589.6" x2="224.6" y2="590.1" stroke="#3cc83c" stroke-width="1.0" stroke-linecap="round" opacity="0.9"/>
<circle cx="223.6" cy="593.3" r="1.0" fill="#3cc83c" opacity="0.9"/>
<line x1="224.5" y1="591.5" x2="222.7" y2="591.1" stroke="#3cc83c" stroke-width="1.0" stroke-linecap="round" opacity="0.9"/>
<line x1="223.1" y1="591.2" x2="221.2" y2="593.3" stroke="#3cc83c" stroke-width="1.0" stroke-linecap="round" opacity="0.9"/>
<line x1="225.3" y1="593.5" x2="227.0" y2="594.1" stroke="#3cc83c" stroke-width="1.0" stroke-linecap="round" opacity="0.9"/>
<line x1="223.3" y1="590.6" x2="222.6" y2="592.1" stroke="#3cc83c" stroke-width="1.0" stroke-linecap="round" opacity="0.9"/>
<circle cx="224.7" cy="590.1" r="1.0" fill="#3cc83c" opacity="0.9"/>
<circle cx="223.4" cy="590.2" r="0.8" fill="#3cc83c" opacity="0.9"/>
<line x1="224.6" y1="590.8" x2="223.9" y2="589.9" stroke="#3cc83c" stroke-width="1.0" stroke-linecap="round" opacity="0.9"/>
<line x1="224.6" y1="590.7" x2="225.9" y2="593.5" stroke="#3cc83c" stroke-width="1.0" stroke-linecap="round" opacity="0.9"/>
<line x1="222.3" y1="590.0" x2="221.1" y2="587.8" stroke="#3cc83c" stroke-width="1.0" stroke-linecap="round" opacity="0.9"/>
<circle cx="224.3" cy="591.5" r="0.6" fill="#3cc83c" opacity="0.9"/>
</g>
<circle cx="257" cy="621.2" r="6.88" fill="none" stroke="#474a46" stroke-width="0.9" opacity="0.6"/>
<circle cx="257" cy="621.2" r="6.17" fill="#f06060"/>
<circle cx="257" cy="621.2" r="4.94" fill="none" stroke="#f7a8a0" stroke-width="0.6" opacity="0.6"/>
<circle cx="257.8" cy="620.8" r="0.7" fill="#e54343" opacity="0.8"/>
<circle cx="259.8" cy="623.1" r="1.5" fill="#e54343" opacity="0.8"/>
<circle cx="254.6" cy="622.7" r="0.8" fill="#e54343" opacity="0.8"/>
<circle cx="259.5" cy="619.5" r="0.7" fill="#e54343" opacity="0.8"/>
<circle cx="259.8" cy="622.2" r="0.6" fill="#e54343" opacity="0.8"/>
<circle cx="257.7" cy="620.1" r="0.8" fill="#e54343" opacity="0.8"/>
<circle cx="255.8" cy="620.5" r="1.1" fill="#e54343" opacity="0.8"/>
<circle cx="259.2" cy="624.4" r="0.9" fill="#e54343" opacity="0.8"/>
<circle cx="257.4" cy="620.6" r="1.3" fill="#e54343" opacity="0.8"/>
<circle cx="258.7" cy="621.0" r="0.5" fill="#f58a86" opacity="0.75"/>
<circle cx="255.0" cy="623.1" r="0.6" fill="#f58a86" opacity="0.75"/>
<circle cx="256.6" cy="621.1" r="0.8" fill="#f58a86" opacity="0.75"/>
<circle cx="256.7" cy="619.4" r="0.9" fill="#f58a86" opacity="0.75"/>
<circle cx="259.7" cy="623.6" r="0.6" fill="#f58a86" opacity="0.75"/>
<circle cx="260.8" cy="619.2" r="1.1" fill="#f58a86" opacity="0.75"/>
<circle cx="225.3" cy="629.8000000000001" r="6.30" fill="none" stroke="#55504e" stroke-width="0.8" opacity="0.5"/>
<circle cx="225.3" cy="629.8000000000001" r="5.70" fill="#f05e5e"/>
<circle cx="225.3" cy="629.8000000000001" r="2.56" fill="#c27272" opacity="0.75"/>
<circle cx="222.6" cy="629.4" r="0.9" fill="#f37a76" opacity="0.7"/>
<circle cx="225.3" cy="626.4" r="1.3" fill="#f37a76" opacity="0.7"/>
<circle cx="228.1" cy="631.7" r="1.3" fill="#f37a76" opacity="0.7"/>
<circle cx="222.4" cy="627.7" r="0.7" fill="#f37a76" opacity="0.7"/>
<circle cx="227.0" cy="631.8" r="1.3" fill="#f37a76" opacity="0.7"/>
<circle cx="226.7" cy="627.7" r="1.3" fill="#f37a76" opacity="0.7"/>
<circle cx="229.0" cy="630.6" r="1.4" fill="#f37a76" opacity="0.7"/>
<circle cx="222.5" cy="633.9" r="1.1" fill="#f37a76" opacity="0.7"/>
<circle cx="222" cy="642.7" r="5.35" fill="none" stroke="#55504e" stroke-width="0.8" opacity="0.5"/>
<circle cx="222" cy="642.7" r="4.75" fill="#f05e5e"/>
<circle cx="222" cy="642.7" r="2.14" fill="#c27272" opacity="0.75"/>
<circle cx="224.3" cy="643.4" r="1.0" fill="#f37a76" opacity="0.7"/>
<circle cx="222.1" cy="646.2" r="0.7" fill="#f37a76" opacity="0.7"/>
<circle cx="222.5" cy="640.5" r="0.7" fill="#f37a76" opacity="0.7"/>
<circle cx="220.4" cy="642.1" r="1.0" fill="#f37a76" opacity="0.7"/>
<circle cx="222.7" cy="639.7" r="1.0" fill="#f37a76" opacity="0.7"/>
<circle cx="224.8" cy="643.3" r="0.7" fill="#f37a76" opacity="0.7"/>
<circle cx="220.9" cy="641.3" r="1.1" fill="#f37a76" opacity="0.7"/>
<circle cx="233.1" cy="654.9000000000001" r="8.67" fill="none" stroke="#55504e" stroke-width="0.8" opacity="0.5"/>
<circle cx="233.1" cy="654.9000000000001" r="8.07" fill="#f05e5e"/>
<circle cx="233.1" cy="654.9000000000001" r="3.63" fill="#c27272" opacity="0.75"/>
<circle cx="230.5" cy="658.3" r="1.1" fill="#f37a76" opacity="0.7"/>
<circle cx="234.8" cy="657.7" r="1.4" fill="#f37a76" opacity="0.7"/>
<circle cx="229.9" cy="660.6" r="1.3" fill="#f37a76" opacity="0.7"/>
<circle cx="230.0" cy="655.3" r="0.7" fill="#f37a76" opacity="0.7"/>
<circle cx="235.3" cy="652.8" r="1.0" fill="#f37a76" opacity="0.7"/>
<circle cx="230.2" cy="654.2" r="1.0" fill="#f37a76" opacity="0.7"/>
<circle cx="235.7" cy="659.2" r="1.0" fill="#f37a76" opacity="0.7"/>
<circle cx="230.8" cy="657.4" r="0.9" fill="#f37a76" opacity="0.7"/>
<circle cx="234.0" cy="657.8" r="0.8" fill="#f37a76" opacity="0.7"/>
<circle cx="236.5" cy="651.4" r="1.3" fill="#f37a76" opacity="0.7"/>
<circle cx="240.1" cy="655.6" r="1.0" fill="#f37a76" opacity="0.7"/>
<circle cx="234.4" cy="649.9" r="1.2" fill="#f37a76" opacity="0.7"/>
<line x1="287.6" y1="631.6" x2="272.2" y2="632.8" stroke="#fff" stroke-width="1.5"/>
<path d="M275.9,629.1 L271.7,632.8 L276.4,635.9" fill="none" stroke="#fff" stroke-width="1.5" stroke-linecap="round" stroke-linejoin="round"/>
<text x="269" y="657.6" font-size="7.0" fill="#e2e2e2" text-anchor="middle">0</text>
<text x="286.6" y="657.6" font-size="7.0" fill="#e2e2e2" text-anchor="middle">µm</text>
<text x="303.6" y="657.6" font-size="7.0" fill="#e2e2e2" text-anchor="middle">25</text>
<line x1="265.4" y1="660.9000000000001" x2="308" y2="660.9000000000001" stroke="#e6e6e6" stroke-width="1.0"/>
<line x1="266.5" y1="659.9000000000001" x2="266.5" y2="661.0" stroke="#e6e6e6" stroke-width="0.6"/>
<line x1="270.6" y1="659.9000000000001" x2="270.6" y2="661.0" stroke="#e6e6e6" stroke-width="0.6"/>
<line x1="274.8" y1="659.9000000000001" x2="274.8" y2="661.0" stroke="#e6e6e6" stroke-width="0.6"/>
<line x1="278.9" y1="659.9000000000001" x2="278.9" y2="661.0" stroke="#e6e6e6" stroke-width="0.6"/>
<line x1="283.1" y1="659.9000000000001" x2="283.1" y2="661.0" stroke="#e6e6e6" stroke-width="0.6"/>
<line x1="287.2" y1="659.9000000000001" x2="287.2" y2="661.0" stroke="#e6e6e6" stroke-width="0.6"/>
<line x1="291.4" y1="659.9000000000001" x2="291.4" y2="661.0" stroke="#e6e6e6" stroke-width="0.6"/>
<line x1="295.6" y1="659.9000000000001" x2="295.6" y2="661.0" stroke="#e6e6e6" stroke-width="0.6"/>
<line x1="299.7" y1="659.9000000000001" x2="299.7" y2="661.0" stroke="#e6e6e6" stroke-width="0.6"/>
<line x1="303.9" y1="659.9000000000001" x2="303.9" y2="661.0" stroke="#e6e6e6" stroke-width="0.6"/>
<line x1="308.0" y1="659.9000000000001" x2="308.0" y2="661.0" stroke="#e6e6e6" stroke-width="0.6"/>
</g>
<clipPath id="c30"><rect x="312" y="504" width="88" height="77.8"/></clipPath>
<g clip-path="url(#c30)">
<rect x="312.00" y="504.00" width="88.00" height="77.80" fill="#7a7e7a"/>
<rect x="312.00" y="504.00" width="88.00" height="77.80" fill="#000" filter="url(#nz)" opacity="0.6"/>
<circle cx="367.4" cy="561" r="11" fill="#b87070" opacity="0.5"/>
<circle cx="368.4" cy="568.4" r="0.7" fill="#e05050" opacity="0.7"/>
<circle cx="368.9" cy="563.2" r="0.7" fill="#e05050" opacity="0.7"/>
<circle cx="371.2" cy="561.8" r="0.7" fill="#e05050" opacity="0.7"/>
<circle cx="364.5" cy="560.7" r="0.7" fill="#e05050" opacity="0.7"/>
<circle cx="368.0" cy="560.5" r="0.7" fill="#e05050" opacity="0.7"/>
<circle cx="365.4" cy="559.9" r="0.7" fill="#e05050" opacity="0.7"/>
<circle cx="361.0" cy="556.6" r="0.7" fill="#e05050" opacity="0.7"/>
<circle cx="367.2" cy="560.4" r="0.7" fill="#e05050" opacity="0.7"/>
<circle cx="367.6" cy="566.9" r="0.7" fill="#e05050" opacity="0.7"/>
<circle cx="367.8" cy="561.0" r="0.7" fill="#e05050" opacity="0.7"/>
<circle cx="362.4" cy="556.4" r="0.7" fill="#e05050" opacity="0.7"/>
<circle cx="368.7" cy="557.9" r="0.7" fill="#e05050" opacity="0.7"/>
<circle cx="369.1" cy="556.8" r="0.7" fill="#e05050" opacity="0.7"/>
<circle cx="367.5" cy="560.9" r="0.7" fill="#e05050" opacity="0.7"/>
<g transform="rotate(0 377 532.6)">
<path d="M385.9,529.7 L386.4,534.1 L383.2,537.5 L379.1,539.8 L373.5,540.7 L368.8,537.8 L368.2,533.2 L368.7,529.1 L372.6,526.4 L377.5,525.3 L382.3,526.7Z" fill="#5e615b" stroke="#43453f" stroke-width="0.6" stroke-opacity="0.75" stroke-linejoin="round"/>
<circle cx="373.0" cy="538.4" r="0.6" fill="#e0e2dc" opacity="0.85"/>
<circle cx="383.6" cy="532.5" r="0.6" fill="#e0e2dc" opacity="0.85"/>
<circle cx="372.9" cy="533.0" r="0.6" fill="#e0e2dc" opacity="0.85"/>
<circle cx="378.4" cy="526.5" r="0.6" fill="#e0e2dc" opacity="0.85"/>
<circle cx="377.0" cy="528.3" r="0.6" fill="#e0e2dc" opacity="0.85"/>
<circle cx="378.7" cy="536.6" r="0.6" fill="#e0e2dc" opacity="0.85"/>
<circle cx="380.7" cy="528.2" r="0.6" fill="#e0e2dc" opacity="0.85"/>
<circle cx="382.0" cy="535.3" r="0.6" fill="#e0e2dc" opacity="0.85"/>
<circle cx="376.2" cy="533.5" r="0.6" fill="#e0e2dc" opacity="0.85"/>
<circle cx="382.5" cy="531.6" r="0.6" fill="#e0e2dc" opacity="0.85"/>
<circle cx="377.0" cy="531.7" r="0.6" fill="#e0e2dc" opacity="0.85"/>
<circle cx="380.7" cy="527.0" r="0.6" fill="#e0e2dc" opacity="0.85"/>
<circle cx="382.2" cy="529.7" r="0.6" fill="#e0e2dc" opacity="0.85"/>
<circle cx="380.3" cy="527.9" r="0.6" fill="#e0e2dc" opacity="0.85"/>
<circle cx="373.9" cy="531.0" r="0.6" fill="#e0e2dc" opacity="0.85"/>
<circle cx="380.0" cy="527.8" r="0.6" fill="#e0e2dc" opacity="0.85"/>
<circle cx="378.7" cy="531.1" r="0.6" fill="#e0e2dc" opacity="0.85"/>
<circle cx="381.3" cy="531.7" r="0.6" fill="#e0e2dc" opacity="0.85"/>
<line x1="377.7" y1="532.4" x2="381.5" y2="531.6" stroke="#cfd3cb" stroke-width="0.6" opacity="0.8"/>
<line x1="376.9" y1="537.2" x2="377.2" y2="539.3" stroke="#cfd3cb" stroke-width="0.6" opacity="0.8"/>
<line x1="375.4" y1="532.9" x2="371.2" y2="533.1" stroke="#cfd3cb" stroke-width="0.6" opacity="0.8"/>
<line x1="375.1" y1="529.0" x2="372.1" y2="531.4" stroke="#cfd3cb" stroke-width="0.6" opacity="0.8"/>
<line x1="378.3" y1="529.0" x2="382.0" y2="527.5" stroke="#cfd3cb" stroke-width="0.6" opacity="0.8"/>
<line x1="376.5" y1="532.9" x2="374.2" y2="529.6" stroke="#cfd3cb" stroke-width="0.6" opacity="0.8"/>
<line x1="374.8" y1="535.4" x2="376.8" y2="532.1" stroke="#3a3c38" stroke-width="0.6" opacity="0.8"/>
<line x1="380.3" y1="532.7" x2="382.2" y2="532.9" stroke="#3a3c38" stroke-width="0.6" opacity="0.8"/>
<line x1="378.1" y1="530.5" x2="375.8" y2="528.7" stroke="#3a3c38" stroke-width="0.6" opacity="0.8"/>
<line x1="376.3" y1="533.6" x2="373.8" y2="536.8" stroke="#3a3c38" stroke-width="0.6" opacity="0.8"/>
<line x1="375.3" y1="531.3" x2="375.0" y2="533.9" stroke="#3cc83c" stroke-width="1.0" stroke-linecap="round" opacity="0.9"/>
<circle cx="372.1" cy="534.1" r="0.6" fill="#3cc83c" opacity="0.9"/>
<circle cx="376.9" cy="532.4" r="0.6" fill="#3cc83c" opacity="0.9"/>
<line x1="376.0" y1="538.6" x2="376.5" y2="541.6" stroke="#3cc83c" stroke-width="1.0" stroke-linecap="round" opacity="0.9"/>
</g>
<g transform="rotate(10 340.6 544.7)">
<path d="M333.7,538.0 L338.3,536.0 L342.7,535.6 L347.3,537.5 L348.5,543.2 L349.0,549.0 L344.7,551.8 L340.8,555.0 L336.8,551.9 L333.3,548.8 L333.8,543.7Z" fill="#7b7e77" stroke="#43453f" stroke-width="0.6" stroke-opacity="0.75" stroke-linejoin="round"/>
<line x1="343.0" y1="550.2" x2="339.2" y2="551.3" stroke="#cfd3cb" stroke-width="0.6" opacity="0.8"/>
<line x1="340.6" y1="547.0" x2="343.1" y2="548.9" stroke="#cfd3cb" stroke-width="0.6" opacity="0.8"/>
<line x1="342.4" y1="542.2" x2="339.4" y2="545.2" stroke="#cfd3cb" stroke-width="0.6" opacity="0.8"/>
<line x1="343.5" y1="542.0" x2="346.5" y2="543.6" stroke="#cfd3cb" stroke-width="0.6" opacity="0.8"/>
<line x1="335.6" y1="546.8" x2="333.4" y2="549.5" stroke="#cfd3cb" stroke-width="0.6" opacity="0.8"/>
<line x1="339.2" y1="542.9" x2="335.7" y2="542.4" stroke="#cfd3cb" stroke-width="0.6" opacity="0.8"/>
<line x1="342.9" y1="542.9" x2="340.0" y2="546.3" stroke="#3a3c38" stroke-width="0.6" opacity="0.8"/>
<line x1="344.9" y1="546.6" x2="343.6" y2="543.7" stroke="#3a3c38" stroke-width="0.6" opacity="0.8"/>
<line x1="336.7" y1="546.3" x2="339.5" y2="543.9" stroke="#3a3c38" stroke-width="0.6" opacity="0.8"/>
<line x1="340.6" y1="544.5" x2="339.7" y2="546.2" stroke="#3a3c38" stroke-width="0.6" opacity="0.8"/>
<line x1="346.0" y1="542.8" x2="344.1" y2="541.6" stroke="#3cc83c" stroke-width="1.0" stroke-linecap="round" opacity="0.9"/>
<circle cx="343.0" cy="545.6" r="0.9" fill="#3cc83c" opacity="0.9"/>
<line x1="339.7" y1="550.3" x2="337.8" y2="549.8" stroke="#3cc83c" stroke-width="1.0" stroke-linecap="round" opacity="0.9"/>
<circle cx="344.7" cy="544.0" r="0.9" fill="#3cc83c" opacity="0.9"/>
<circle cx="336.1" cy="549.6" r="0.9" fill="#3cc83c" opacity="0.9"/>
<line x1="340.4" y1="545.9" x2="341.7" y2="543.5" stroke="#3cc83c" stroke-width="1.0" stroke-linecap="round" opacity="0.9"/>
<line x1="340.1" y1="545.6" x2="341.1" y2="544.6" stroke="#3cc83c" stroke-width="1.0" stroke-linecap="round" opacity="0.9"/>
<line x1="340.5" y1="543.4" x2="342.1" y2="544.0" stroke="#3cc83c" stroke-width="1.0" stroke-linecap="round" opacity="0.9"/>
<circle cx="336.0" cy="549.6" r="0.6" fill="#3cc83c" opacity="0.9"/>
<line x1="338.4" y1="551.3" x2="337.6" y2="553.1" stroke="#3cc83c" stroke-width="1.0" stroke-linecap="round" opacity="0.9"/>
<line x1="341.9" y1="545.9" x2="339.5" y2="548.0" stroke="#3cc83c" stroke-width="1.0" stroke-linecap="round" opacity="0.9"/>
<circle cx="340.5" cy="546.2" r="0.8" fill="#3cc83c" opacity="0.9"/>
<circle cx="342.7" cy="540.6" r="0.7" fill="#3cc83c" opacity="0.9"/>
<line x1="343.4" y1="549.3" x2="341.1" y2="548.4" stroke="#3cc83c" stroke-width="1.0" stroke-linecap="round" opacity="0.9"/>
<line x1="340.6" y1="542.6" x2="342.5" y2="541.6" stroke="#3cc83c" stroke-width="1.0" stroke-linecap="round" opacity="0.9"/>
<line x1="339.6" y1="549.3" x2="339.8" y2="548.2" stroke="#3cc83c" stroke-width="1.0" stroke-linecap="round" opacity="0.9"/>
<line x1="342.3" y1="540.9" x2="343.7" y2="540.4" stroke="#3cc83c" stroke-width="1.0" stroke-linecap="round" opacity="0.9"/>
<line x1="340.6" y1="545.2" x2="340.7" y2="542.7" stroke="#3cc83c" stroke-width="1.0" stroke-linecap="round" opacity="0.9"/>
<line x1="336.2" y1="547.9" x2="335.4" y2="550.1" stroke="#3cc83c" stroke-width="1.0" stroke-linecap="round" opacity="0.9"/>
</g>
<g transform="rotate(0 321.5 550.7)">
<path d="M329.6,549.0 L329.4,553.7 L326.6,557.7 L322.0,558.4 L317.1,558.6 L313.9,554.7 L313.9,550.1 L315.3,546.0 L318.5,542.5 L323.2,543.3 L326.7,545.6Z" fill="#7b7e77" stroke="#43453f" stroke-width="0.6" stroke-opacity="0.75" stroke-linejoin="round"/>
<line x1="323.5" y1="548.6" x2="320.1" y2="548.1" stroke="#cfd3cb" stroke-width="0.6" opacity="0.8"/>
<line x1="322.1" y1="550.3" x2="321.2" y2="551.7" stroke="#cfd3cb" stroke-width="0.6" opacity="0.8"/>
<line x1="319.1" y1="552.1" x2="321.2" y2="549.3" stroke="#cfd3cb" stroke-width="0.6" opacity="0.8"/>
<line x1="319.5" y1="549.7" x2="317.5" y2="548.6" stroke="#cfd3cb" stroke-width="0.6" opacity="0.8"/>
<line x1="323.9" y1="547.1" x2="325.0" y2="545.4" stroke="#cfd3cb" stroke-width="0.6" opacity="0.8"/>
<line x1="319.5" y1="547.0" x2="315.3" y2="547.0" stroke="#cfd3cb" stroke-width="0.6" opacity="0.8"/>
<line x1="324.8" y1="548.3" x2="326.3" y2="545.2" stroke="#3a3c38" stroke-width="0.6" opacity="0.8"/>
<line x1="322.0" y1="550.2" x2="321.0" y2="546.7" stroke="#3a3c38" stroke-width="0.6" opacity="0.8"/>
<line x1="320.3" y1="549.7" x2="323.4" y2="551.1" stroke="#3a3c38" stroke-width="0.6" opacity="0.8"/>
<line x1="322.2" y1="549.4" x2="322.7" y2="551.5" stroke="#3a3c38" stroke-width="0.6" opacity="0.8"/>
<circle cx="325.1" cy="553.1" r="1.0" fill="#3cc83c" opacity="0.9"/>
<line x1="318.7" y1="554.1" x2="319.6" y2="552.7" stroke="#3cc83c" stroke-width="1.0" stroke-linecap="round" opacity="0.9"/>
<line x1="325.5" y1="550.8" x2="325.3" y2="551.9" stroke="#3cc83c" stroke-width="1.0" stroke-linecap="round" opacity="0.9"/>
<circle cx="318.2" cy="551.9" r="0.5" fill="#3cc83c" opacity="0.9"/>
<line x1="321.8" y1="550.1" x2="320.6" y2="548.8" stroke="#3cc83c" stroke-width="1.0" stroke-linecap="round" opacity="0.9"/>
<line x1="319.7" y1="553.9" x2="320.1" y2="552.5" stroke="#3cc83c" stroke-width="1.0" stroke-linecap="round" opacity="0.9"/>
<line x1="324.2" y1="546.3" x2="326.9" y2="546.9" stroke="#3cc83c" stroke-width="1.0" stroke-linecap="round" opacity="0.9"/>
<line x1="324.7" y1="551.3" x2="326.9" y2="552.2" stroke="#3cc83c" stroke-width="1.0" stroke-linecap="round" opacity="0.9"/>
<line x1="320.9" y1="547.0" x2="318.6" y2="546.8" stroke="#3cc83c" stroke-width="1.0" stroke-linecap="round" opacity="0.9"/>
<circle cx="322.3" cy="556.2" r="1.0" fill="#3cc83c" opacity="0.9"/>
<circle cx="323.5" cy="550.2" r="0.5" fill="#3cc83c" opacity="0.9"/>
<line x1="320.7" y1="550.8" x2="319.6" y2="548.5" stroke="#3cc83c" stroke-width="1.0" stroke-linecap="round" opacity="0.9"/>
<line x1="319.4" y1="551.3" x2="318.1" y2="552.2" stroke="#3cc83c" stroke-width="1.0" stroke-linecap="round" opacity="0.9"/>
</g>
<g transform="rotate(0 324.1 567.2)">
<path d="M327.4,575.2 L322.1,575.0 L317.9,572.7 L316.1,568.7 L315.2,564.2 L319.3,561.4 L323.6,559.8 L328.5,560.1 L332.4,563.2 L334.3,567.9 L331.7,572.4Z" fill="#7b7e77" stroke="#43453f" stroke-width="0.6" stroke-opacity="0.75" stroke-linejoin="round"/>
<line x1="329.5" y1="565.6" x2="328.9" y2="562.0" stroke="#cfd3cb" stroke-width="0.6" opacity="0.8"/>
<line x1="325.3" y1="567.6" x2="329.3" y2="568.0" stroke="#cfd3cb" stroke-width="0.6" opacity="0.8"/>
<line x1="323.4" y1="563.8" x2="323.2" y2="566.3" stroke="#cfd3cb" stroke-width="0.6" opacity="0.8"/>
<line x1="326.1" y1="570.2" x2="328.5" y2="570.1" stroke="#cfd3cb" stroke-width="0.6" opacity="0.8"/>
<line x1="325.1" y1="567.5" x2="322.6" y2="570.8" stroke="#cfd3cb" stroke-width="0.6" opacity="0.8"/>
<line x1="325.0" y1="564.8" x2="326.5" y2="565.9" stroke="#cfd3cb" stroke-width="0.6" opacity="0.8"/>
<line x1="326.8" y1="570.7" x2="322.4" y2="571.5" stroke="#3a3c38" stroke-width="0.6" opacity="0.8"/>
<line x1="328.3" y1="564.9" x2="324.3" y2="565.5" stroke="#3a3c38" stroke-width="0.6" opacity="0.8"/>
<line x1="324.6" y1="567.6" x2="321.8" y2="566.5" stroke="#3a3c38" stroke-width="0.6" opacity="0.8"/>
<line x1="324.5" y1="568.5" x2="328.7" y2="569.1" stroke="#3a3c38" stroke-width="0.6" opacity="0.8"/>
<circle cx="322.4" cy="561.4" r="0.8" fill="#3cc83c" opacity="0.9"/>
<circle cx="323.8" cy="564.8" r="1.0" fill="#3cc83c" opacity="0.9"/>
<line x1="324.2" y1="567.3" x2="322.6" y2="566.3" stroke="#3cc83c" stroke-width="1.0" stroke-linecap="round" opacity="0.9"/>
<circle cx="330.0" cy="567.5" r="0.8" fill="#3cc83c" opacity="0.9"/>
<line x1="330.2" y1="568.7" x2="331.7" y2="569.5" stroke="#3cc83c" stroke-width="1.0" stroke-linecap="round" opacity="0.9"/>
<line x1="319.6" y1="563.2" x2="318.7" y2="562.1" stroke="#3cc83c" stroke-width="1.0" stroke-linecap="round" opacity="0.9"/>
<line x1="324.4" y1="573.0" x2="326.2" y2="574.4" stroke="#3cc83c" stroke-width="1.0" stroke-linecap="round" opacity="0.9"/>
<line x1="325.1" y1="568.1" x2="323.0" y2="566.9" stroke="#3cc83c" stroke-width="1.0" stroke-linecap="round" opacity="0.9"/>
<line x1="323.3" y1="564.5" x2="323.1" y2="563.4" stroke="#3cc83c" stroke-width="1.0" stroke-linecap="round" opacity="0.9"/>
<circle cx="321.3" cy="567.7" r="0.9" fill="#3cc83c" opacity="0.9"/>
<circle cx="324.4" cy="571.3" r="0.8" fill="#3cc83c" opacity="0.9"/>
<line x1="328.2" y1="571.7" x2="329.6" y2="572.3" stroke="#3cc83c" stroke-width="1.0" stroke-linecap="round" opacity="0.9"/>
<line x1="325.7" y1="567.1" x2="326.4" y2="564.3" stroke="#3cc83c" stroke-width="1.0" stroke-linecap="round" opacity="0.9"/>
<line x1="320.6" y1="563.7" x2="323.2" y2="565.4" stroke="#3cc83c" stroke-width="1.0" stroke-linecap="round" opacity="0.9"/>
<line x1="324.2" y1="567.0" x2="324.4" y2="570.0" stroke="#3cc83c" stroke-width="1.0" stroke-linecap="round" opacity="0.9"/>
<circle cx="325.0" cy="571.4" r="0.9" fill="#3cc83c" opacity="0.9"/>
<line x1="325.7" y1="566.4" x2="328.4" y2="566.7" stroke="#3cc83c" stroke-width="1.0" stroke-linecap="round" opacity="0.9"/>
<circle cx="329.6" cy="571.0" r="0.6" fill="#3cc83c" opacity="0.9"/>
<line x1="324.5" y1="566.2" x2="326.7" y2="567.9" stroke="#3cc83c" stroke-width="1.0" stroke-linecap="round" opacity="0.9"/>
</g>
<circle cx="336.2" cy="523" r="6.21" fill="none" stroke="#474a46" stroke-width="0.9" opacity="0.6"/>
<circle cx="336.2" cy="523" r="5.51" fill="#f06060"/>
<circle cx="336.2" cy="523" r="4.41" fill="none" stroke="#f7a8a0" stroke-width="0.6" opacity="0.6"/>
<circle cx="338.9" cy="520.7" r="0.6" fill="#e54343" opacity="0.8"/>
<circle cx="337.5" cy="521.3" r="1.3" fill="#e54343" opacity="0.8"/>
<circle cx="333.8" cy="523.0" r="1.1" fill="#e54343" opacity="0.8"/>
<circle cx="336.3" cy="522.7" r="0.6" fill="#e54343" opacity="0.8"/>
<circle cx="335.1" cy="522.7" r="1.0" fill="#e54343" opacity="0.8"/>
<circle cx="339.1" cy="523.1" r="0.6" fill="#e54343" opacity="0.8"/>
<circle cx="337.7" cy="520.3" r="1.0" fill="#e54343" opacity="0.8"/>
<circle cx="338.0" cy="524.7" r="0.8" fill="#e54343" opacity="0.8"/>
<circle cx="335.8" cy="523.2" r="1.1" fill="#f58a86" opacity="0.75"/>
<circle cx="334.9" cy="522.6" r="0.6" fill="#f58a86" opacity="0.75"/>
<circle cx="335.8" cy="519.7" r="1.0" fill="#f58a86" opacity="0.75"/>
<circle cx="337.3" cy="523.8" r="0.7" fill="#f58a86" opacity="0.75"/>
<circle cx="336.2" cy="522.4" r="0.9" fill="#f58a86" opacity="0.75"/>
<circle cx="356.7" cy="534.8" r="6.68" fill="none" stroke="#474a46" stroke-width="0.9" opacity="0.6"/>
<circle cx="356.7" cy="534.8" r="5.98" fill="#f06060"/>
<circle cx="356.7" cy="534.8" r="4.79" fill="none" stroke="#f7a8a0" stroke-width="0.6" opacity="0.6"/>
<circle cx="359.9" cy="534.4" r="0.6" fill="#e54343" opacity="0.8"/>
<circle cx="357.1" cy="535.0" r="1.2" fill="#e54343" opacity="0.8"/>
<circle cx="354.9" cy="533.5" r="1.0" fill="#e54343" opacity="0.8"/>
<circle cx="354.6" cy="536.2" r="1.2" fill="#e54343" opacity="0.8"/>
<circle cx="359.4" cy="533.3" r="1.3" fill="#e54343" opacity="0.8"/>
<circle cx="359.7" cy="533.0" r="1.2" fill="#e54343" opacity="0.8"/>
<circle cx="359.5" cy="535.3" r="1.4" fill="#e54343" opacity="0.8"/>
<circle cx="353.4" cy="536.4" r="0.8" fill="#e54343" opacity="0.8"/>
<circle cx="358.4" cy="534.1" r="1.2" fill="#e54343" opacity="0.8"/>
<circle cx="356.7" cy="536.1" r="0.7" fill="#f58a86" opacity="0.75"/>
<circle cx="356.5" cy="535.2" r="0.8" fill="#f58a86" opacity="0.75"/>
<circle cx="359.4" cy="534.5" r="1.1" fill="#f58a86" opacity="0.75"/>
<circle cx="357.0" cy="531.3" r="1.1" fill="#f58a86" opacity="0.75"/>
<circle cx="356.7" cy="533.7" r="0.6" fill="#f58a86" opacity="0.75"/>
<circle cx="313.7" cy="554" r="7.25" fill="none" stroke="#55504e" stroke-width="0.8" opacity="0.5"/>
<circle cx="313.7" cy="554" r="6.65" fill="#f05e5e"/>
<circle cx="313.7" cy="554" r="2.99" fill="#c27272" opacity="0.75"/>
<circle cx="311.9" cy="555.1" r="0.8" fill="#f37a76" opacity="0.7"/>
<circle cx="318.0" cy="550.3" r="0.9" fill="#f37a76" opacity="0.7"/>
<circle cx="314.4" cy="549.0" r="1.3" fill="#f37a76" opacity="0.7"/>
<circle cx="314.8" cy="550.0" r="0.7" fill="#f37a76" opacity="0.7"/>
<circle cx="315.2" cy="551.1" r="1.1" fill="#f37a76" opacity="0.7"/>
<circle cx="310.9" cy="557.1" r="1.4" fill="#f37a76" opacity="0.7"/>
<circle cx="315.9" cy="557.5" r="1.1" fill="#f37a76" opacity="0.7"/>
<circle cx="308.1" cy="552.6" r="0.9" fill="#f37a76" opacity="0.7"/>
<circle cx="317.8" cy="551.6" r="1.4" fill="#f37a76" opacity="0.7"/>
<circle cx="337" cy="562.8" r="6.21" fill="none" stroke="#474a46" stroke-width="0.9" opacity="0.6"/>
<circle cx="337" cy="562.8" r="5.51" fill="#f06060"/>
<circle cx="337" cy="562.8" r="4.41" fill="none" stroke="#f7a8a0" stroke-width="0.6" opacity="0.6"/>
<circle cx="337.7" cy="563.2" r="0.9" fill="#e54343" opacity="0.8"/>
<circle cx="337.0" cy="562.8" r="0.8" fill="#e54343" opacity="0.8"/>
<circle cx="336.2" cy="559.1" r="0.8" fill="#e54343" opacity="0.8"/>
<circle cx="334.5" cy="563.8" r="1.2" fill="#e54343" opacity="0.8"/>
<circle cx="336.9" cy="559.9" r="0.8" fill="#e54343" opacity="0.8"/>
<circle cx="337.0" cy="562.9" r="1.2" fill="#e54343" opacity="0.8"/>
<circle cx="337.3" cy="563.8" r="1.5" fill="#e54343" opacity="0.8"/>
<circle cx="335.6" cy="561.0" r="1.2" fill="#e54343" opacity="0.8"/>
<circle cx="334.8" cy="561.3" r="0.7" fill="#f58a86" opacity="0.75"/>
<circle cx="337.2" cy="562.9" r="0.5" fill="#f58a86" opacity="0.75"/>
<circle cx="336.6" cy="563.2" r="0.6" fill="#f58a86" opacity="0.75"/>
<circle cx="333.3" cy="562.9" r="0.9" fill="#f58a86" opacity="0.75"/>
<circle cx="336.6" cy="565.7" r="0.6" fill="#f58a86" opacity="0.75"/>
<circle cx="373.4" cy="558.5" r="6.40" fill="none" stroke="#474a46" stroke-width="0.9" opacity="0.6"/>
<circle cx="373.4" cy="558.5" r="5.70" fill="#f06060"/>
<circle cx="373.4" cy="558.5" r="4.56" fill="none" stroke="#f7a8a0" stroke-width="0.6" opacity="0.6"/>
<circle cx="374.4" cy="559.2" r="1.0" fill="#e54343" opacity="0.8"/>
<circle cx="372.7" cy="556.9" r="1.3" fill="#e54343" opacity="0.8"/>
<circle cx="376.5" cy="560.6" r="0.9" fill="#e54343" opacity="0.8"/>
<circle cx="373.5" cy="558.4" r="1.3" fill="#e54343" opacity="0.8"/>
<circle cx="373.9" cy="561.9" r="1.3" fill="#e54343" opacity="0.8"/>
<circle cx="372.9" cy="557.5" r="0.6" fill="#e54343" opacity="0.8"/>
<circle cx="374.7" cy="561.9" r="0.7" fill="#e54343" opacity="0.8"/>
<circle cx="372.1" cy="556.5" r="1.2" fill="#e54343" opacity="0.8"/>
<circle cx="373.6" cy="559.0" r="0.7" fill="#e54343" opacity="0.8"/>
<circle cx="374.9" cy="558.3" r="0.9" fill="#f58a86" opacity="0.75"/>
<circle cx="372.6" cy="558.1" r="0.5" fill="#f58a86" opacity="0.75"/>
<circle cx="376.8" cy="558.8" r="0.6" fill="#f58a86" opacity="0.75"/>
<circle cx="374.8" cy="558.2" r="0.9" fill="#f58a86" opacity="0.75"/>
<circle cx="375.4" cy="560.9" r="0.7" fill="#f58a86" opacity="0.75"/>
<line x1="355.3" y1="523.9" x2="343.6" y2="531.4" stroke="#fff" stroke-width="1.5"/>
<path d="M345.1,526.4 L343.2,531.7 L348.8,532.1" fill="none" stroke="#fff" stroke-width="1.5" stroke-linecap="round" stroke-linejoin="round"/>
<text x="359" y="575.9" font-size="7.0" fill="#e2e2e2" text-anchor="middle">0</text>
<text x="376.6" y="575.9" font-size="7.0" fill="#e2e2e2" text-anchor="middle">µm</text>
<text x="393.6" y="575.9" font-size="7.0" fill="#e2e2e2" text-anchor="middle">25</text>
<line x1="355.4" y1="579.2" x2="398" y2="579.2" stroke="#e6e6e6" stroke-width="1.0"/>
<line x1="356.5" y1="578.2" x2="356.5" y2="579.3" stroke="#e6e6e6" stroke-width="0.6"/>
<line x1="360.6" y1="578.2" x2="360.6" y2="579.3" stroke="#e6e6e6" stroke-width="0.6"/>
<line x1="364.8" y1="578.2" x2="364.8" y2="579.3" stroke="#e6e6e6" stroke-width="0.6"/>
<line x1="368.9" y1="578.2" x2="368.9" y2="579.3" stroke="#e6e6e6" stroke-width="0.6"/>
<line x1="373.1" y1="578.2" x2="373.1" y2="579.3" stroke="#e6e6e6" stroke-width="0.6"/>
<line x1="377.2" y1="578.2" x2="377.2" y2="579.3" stroke="#e6e6e6" stroke-width="0.6"/>
<line x1="381.4" y1="578.2" x2="381.4" y2="579.3" stroke="#e6e6e6" stroke-width="0.6"/>
<line x1="385.6" y1="578.2" x2="385.6" y2="579.3" stroke="#e6e6e6" stroke-width="0.6"/>
<line x1="389.7" y1="578.2" x2="389.7" y2="579.3" stroke="#e6e6e6" stroke-width="0.6"/>
<line x1="393.9" y1="578.2" x2="393.9" y2="579.3" stroke="#e6e6e6" stroke-width="0.6"/>
<line x1="398.0" y1="578.2" x2="398.0" y2="579.3" stroke="#e6e6e6" stroke-width="0.6"/>
</g>
<clipPath id="c31"><rect x="312" y="585.7" width="88" height="78.6"/></clipPath>
<g clip-path="url(#c31)">
<rect x="312.00" y="585.70" width="88.00" height="78.60" fill="#7a7e7a"/>
<rect x="312.00" y="585.70" width="88.00" height="78.60" fill="#000" filter="url(#nz)" opacity="0.6"/>
<g transform="rotate(0 350 641.9000000000001)">
<path d="M344.6,647.2 L343.2,643.6 L342.9,640.0 L344.4,636.0 L349.1,635.4 L353.3,635.8 L357.3,637.9 L357.3,642.0 L356.0,645.5 L352.9,647.8 L348.8,648.6Z" fill="#7b7e77" stroke="#43453f" stroke-width="0.6" stroke-opacity="0.75" stroke-linejoin="round"/>
<line x1="347.7" y1="644.2" x2="343.6" y2="645.0" stroke="#cfd3cb" stroke-width="0.6" opacity="0.8"/>
<line x1="353.5" y1="642.9" x2="354.6" y2="641.0" stroke="#cfd3cb" stroke-width="0.6" opacity="0.8"/>
<line x1="352.4" y1="642.3" x2="354.5" y2="644.2" stroke="#cfd3cb" stroke-width="0.6" opacity="0.8"/>
<line x1="349.9" y1="641.5" x2="352.0" y2="643.4" stroke="#cfd3cb" stroke-width="0.6" opacity="0.8"/>
<line x1="350.6" y1="642.9" x2="348.9" y2="643.6" stroke="#cfd3cb" stroke-width="0.6" opacity="0.8"/>
<line x1="351.8" y1="642.6" x2="347.6" y2="643.5" stroke="#cfd3cb" stroke-width="0.6" opacity="0.8"/>
<line x1="349.6" y1="641.8" x2="350.3" y2="645.5" stroke="#3a3c38" stroke-width="0.6" opacity="0.8"/>
<line x1="345.6" y1="640.3" x2="349.5" y2="639.3" stroke="#3a3c38" stroke-width="0.6" opacity="0.8"/>
<line x1="354.0" y1="644.8" x2="351.8" y2="644.5" stroke="#3a3c38" stroke-width="0.6" opacity="0.8"/>
<line x1="352.3" y1="645.6" x2="352.7" y2="647.3" stroke="#3a3c38" stroke-width="0.6" opacity="0.8"/>
<line x1="349.4" y1="647.1" x2="349.3" y2="645.9" stroke="#3cc83c" stroke-width="1.0" stroke-linecap="round" opacity="0.9"/>
<line x1="348.1" y1="642.4" x2="347.1" y2="640.9" stroke="#3cc83c" stroke-width="1.0" stroke-linecap="round" opacity="0.9"/>
<line x1="354.6" y1="645.7" x2="355.0" y2="646.6" stroke="#3cc83c" stroke-width="1.0" stroke-linecap="round" opacity="0.9"/>
<line x1="348.1" y1="639.5" x2="345.5" y2="640.0" stroke="#3cc83c" stroke-width="1.0" stroke-linecap="round" opacity="0.9"/>
<line x1="348.5" y1="641.6" x2="346.6" y2="640.1" stroke="#3cc83c" stroke-width="1.0" stroke-linecap="round" opacity="0.9"/>
<circle cx="353.1" cy="645.5" r="0.9" fill="#3cc83c" opacity="0.9"/>
<circle cx="351.5" cy="640.3" r="0.6" fill="#3cc83c" opacity="0.9"/>
<circle cx="350.6" cy="645.2" r="0.5" fill="#3cc83c" opacity="0.9"/>
<line x1="350.0" y1="642.1" x2="350.9" y2="643.2" stroke="#3cc83c" stroke-width="1.0" stroke-linecap="round" opacity="0.9"/>
<circle cx="350.0" cy="638.6" r="0.7" fill="#3cc83c" opacity="0.9"/>
<circle cx="350.0" cy="641.8" r="0.6" fill="#3cc83c" opacity="0.9"/>
<circle cx="346.8" cy="642.3" r="0.8" fill="#3cc83c" opacity="0.9"/>
<line x1="354.0" y1="641.7" x2="354.7" y2="640.5" stroke="#3cc83c" stroke-width="1.0" stroke-linecap="round" opacity="0.9"/>
<line x1="352.9" y1="641.9" x2="354.6" y2="641.5" stroke="#3cc83c" stroke-width="1.0" stroke-linecap="round" opacity="0.9"/>
<circle cx="348.2" cy="643.0" r="0.5" fill="#3cc83c" opacity="0.9"/>
</g>
<g transform="rotate(0 318 641.9000000000001)">
<path d="M313.5,646.4 L310.4,643.6 L312.4,639.8 L313.6,636.1 L317.5,635.4 L321.3,635.8 L324.3,638.4 L325.5,642.4 L323.1,645.6 L320.3,648.0 L316.7,648.0Z" fill="#6c6f69" stroke="#43453f" stroke-width="0.6" stroke-opacity="0.75" stroke-linejoin="round"/>
<circle cx="318.9" cy="641.7" r="0.6" fill="#e0e2dc" opacity="0.85"/>
<circle cx="320.0" cy="644.3" r="0.6" fill="#e0e2dc" opacity="0.85"/>
<circle cx="313.4" cy="639.3" r="0.6" fill="#e0e2dc" opacity="0.85"/>
<circle cx="319.3" cy="642.4" r="0.6" fill="#e0e2dc" opacity="0.85"/>
<circle cx="319.7" cy="645.0" r="0.6" fill="#e0e2dc" opacity="0.85"/>
<circle cx="315.7" cy="642.6" r="0.6" fill="#e0e2dc" opacity="0.85"/>
<circle cx="321.0" cy="639.3" r="0.6" fill="#e0e2dc" opacity="0.85"/>
<circle cx="321.7" cy="637.5" r="0.6" fill="#e0e2dc" opacity="0.85"/>
<circle cx="317.3" cy="647.5" r="0.6" fill="#e0e2dc" opacity="0.85"/>
<circle cx="317.7" cy="642.1" r="0.6" fill="#e0e2dc" opacity="0.85"/>
<circle cx="318.5" cy="641.6" r="0.6" fill="#e0e2dc" opacity="0.85"/>
<circle cx="319.7" cy="642.1" r="0.6" fill="#e0e2dc" opacity="0.85"/>
<circle cx="316.6" cy="647.5" r="0.6" fill="#e0e2dc" opacity="0.85"/>
<circle cx="319.7" cy="640.1" r="0.6" fill="#e0e2dc" opacity="0.85"/>
<circle cx="313.0" cy="641.0" r="0.6" fill="#e0e2dc" opacity="0.85"/>
<circle cx="319.4" cy="638.2" r="0.6" fill="#e0e2dc" opacity="0.85"/>
<circle cx="317.3" cy="641.8" r="0.6" fill="#e0e2dc" opacity="0.85"/>
<circle cx="318.2" cy="645.8" r="0.6" fill="#e0e2dc" opacity="0.85"/>
<line x1="314.7" y1="639.9" x2="318.2" y2="637.3" stroke="#cfd3cb" stroke-width="0.6" opacity="0.8"/>
<line x1="318.1" y1="642.2" x2="320.7" y2="640.3" stroke="#cfd3cb" stroke-width="0.6" opacity="0.8"/>
<line x1="319.4" y1="645.0" x2="319.3" y2="647.2" stroke="#cfd3cb" stroke-width="0.6" opacity="0.8"/>
<line x1="316.3" y1="643.8" x2="315.5" y2="642.3" stroke="#cfd3cb" stroke-width="0.6" opacity="0.8"/>
<line x1="317.8" y1="638.9" x2="314.4" y2="639.5" stroke="#cfd3cb" stroke-width="0.6" opacity="0.8"/>
<line x1="318.0" y1="641.9" x2="314.5" y2="642.4" stroke="#cfd3cb" stroke-width="0.6" opacity="0.8"/>
<line x1="317.2" y1="638.8" x2="319.1" y2="642.8" stroke="#3a3c38" stroke-width="0.6" opacity="0.8"/>
<line x1="318.3" y1="640.8" x2="314.3" y2="642.6" stroke="#3a3c38" stroke-width="0.6" opacity="0.8"/>
<line x1="318.5" y1="643.8" x2="322.6" y2="642.8" stroke="#3a3c38" stroke-width="0.6" opacity="0.8"/>
<line x1="318.4" y1="645.5" x2="316.2" y2="648.2" stroke="#3a3c38" stroke-width="0.6" opacity="0.8"/>
<line x1="318.1" y1="641.2" x2="318.4" y2="642.7" stroke="#3cc83c" stroke-width="1.0" stroke-linecap="round" opacity="0.9"/>
<line x1="318.7" y1="642.1" x2="317.7" y2="642.6" stroke="#3cc83c" stroke-width="1.0" stroke-linecap="round" opacity="0.9"/>
<line x1="313.4" y1="639.3" x2="311.8" y2="641.3" stroke="#3cc83c" stroke-width="1.0" stroke-linecap="round" opacity="0.9"/>
<line x1="317.1" y1="642.3" x2="319.6" y2="642.6" stroke="#3cc83c" stroke-width="1.0" stroke-linecap="round" opacity="0.9"/>
<circle cx="319.1" cy="643.7" r="1.0" fill="#3cc83c" opacity="0.9"/>
<circle cx="319.8" cy="638.8" r="0.9" fill="#3cc83c" opacity="0.9"/>
<circle cx="319.1" cy="641.7" r="0.7" fill="#3cc83c" opacity="0.9"/>
<circle cx="317.8" cy="646.5" r="1.0" fill="#3cc83c" opacity="0.9"/>
<line x1="320.3" y1="639.6" x2="322.5" y2="639.8" stroke="#3cc83c" stroke-width="1.0" stroke-linecap="round" opacity="0.9"/>
</g>
<g transform="rotate(0 319.8 589.2)">
<path d="M319.1,585.7 L321.5,586.2 L323.1,587.4 L324.0,589.2 L324.0,591.3 L321.5,592.1 L319.2,592.6 L317.0,591.9 L315.0,590.4 L314.6,588.0 L317.1,586.8Z" fill="#6c6f69" stroke="#43453f" stroke-width="0.6" stroke-opacity="0.75" stroke-linejoin="round"/>
<circle cx="322.6" cy="591.2" r="0.6" fill="#e0e2dc" opacity="0.85"/>
<circle cx="320.4" cy="589.1" r="0.6" fill="#e0e2dc" opacity="0.85"/>
<circle cx="318.7" cy="590.6" r="0.6" fill="#e0e2dc" opacity="0.85"/>
<circle cx="319.1" cy="590.4" r="0.6" fill="#e0e2dc" opacity="0.85"/>
<circle cx="318.8" cy="589.3" r="0.6" fill="#e0e2dc" opacity="0.85"/>
<circle cx="320.1" cy="589.3" r="0.6" fill="#e0e2dc" opacity="0.85"/>
<circle cx="320.0" cy="589.4" r="0.6" fill="#e0e2dc" opacity="0.85"/>
<circle cx="317.8" cy="587.6" r="0.6" fill="#e0e2dc" opacity="0.85"/>
<circle cx="319.5" cy="591.7" r="0.6" fill="#e0e2dc" opacity="0.85"/>
<circle cx="319.6" cy="588.1" r="0.6" fill="#e0e2dc" opacity="0.85"/>
<circle cx="319.0" cy="589.2" r="0.6" fill="#e0e2dc" opacity="0.85"/>
<circle cx="321.8" cy="588.4" r="0.6" fill="#e0e2dc" opacity="0.85"/>
<circle cx="320.4" cy="589.4" r="0.6" fill="#e0e2dc" opacity="0.85"/>
<circle cx="319.3" cy="588.0" r="0.6" fill="#e0e2dc" opacity="0.85"/>
<circle cx="319.6" cy="588.5" r="0.6" fill="#e0e2dc" opacity="0.85"/>
<circle cx="320.7" cy="586.7" r="0.6" fill="#e0e2dc" opacity="0.85"/>
<circle cx="321.7" cy="590.2" r="0.6" fill="#e0e2dc" opacity="0.85"/>
<circle cx="320.8" cy="591.3" r="0.6" fill="#e0e2dc" opacity="0.85"/>
<line x1="320.7" y1="587.3" x2="320.9" y2="589.0" stroke="#cfd3cb" stroke-width="0.6" opacity="0.8"/>
<line x1="318.8" y1="587.9" x2="320.2" y2="589.5" stroke="#cfd3cb" stroke-width="0.6" opacity="0.8"/>
<line x1="319.5" y1="589.1" x2="318.0" y2="587.4" stroke="#cfd3cb" stroke-width="0.6" opacity="0.8"/>
<line x1="319.7" y1="590.3" x2="316.1" y2="589.5" stroke="#cfd3cb" stroke-width="0.6" opacity="0.8"/>
<line x1="322.1" y1="589.6" x2="322.5" y2="591.9" stroke="#cfd3cb" stroke-width="0.6" opacity="0.8"/>
<line x1="318.4" y1="587.8" x2="315.2" y2="585.0" stroke="#cfd3cb" stroke-width="0.6" opacity="0.8"/>
<line x1="320.1" y1="590.0" x2="318.9" y2="588.0" stroke="#3a3c38" stroke-width="0.6" opacity="0.8"/>
<line x1="320.2" y1="589.7" x2="320.7" y2="585.7" stroke="#3a3c38" stroke-width="0.6" opacity="0.8"/>
<line x1="319.1" y1="586.8" x2="319.8" y2="584.4" stroke="#3a3c38" stroke-width="0.6" opacity="0.8"/>
<line x1="318.9" y1="590.9" x2="322.0" y2="592.1" stroke="#3a3c38" stroke-width="0.6" opacity="0.8"/>
<line x1="320.0" y1="589.3" x2="321.7" y2="591.8" stroke="#3cc83c" stroke-width="1.0" stroke-linecap="round" opacity="0.9"/>
<line x1="321.0" y1="588.2" x2="322.6" y2="589.7" stroke="#3cc83c" stroke-width="1.0" stroke-linecap="round" opacity="0.9"/>
<circle cx="318.5" cy="589.1" r="0.8" fill="#3cc83c" opacity="0.9"/>
<line x1="319.9" y1="588.9" x2="318.3" y2="590.2" stroke="#3cc83c" stroke-width="1.0" stroke-linecap="round" opacity="0.9"/>
<line x1="319.8" y1="591.2" x2="318.9" y2="593.1" stroke="#3cc83c" stroke-width="1.0" stroke-linecap="round" opacity="0.9"/>
<line x1="319.1" y1="587.0" x2="316.2" y2="588.0" stroke="#3cc83c" stroke-width="1.0" stroke-linecap="round" opacity="0.9"/>
<line x1="321.9" y1="588.5" x2="319.6" y2="589.1" stroke="#3cc83c" stroke-width="1.0" stroke-linecap="round" opacity="0.9"/>
</g>
<circle cx="349.2" cy="627.2" r="6.88" fill="none" stroke="#474a46" stroke-width="0.9" opacity="0.6"/>
<circle cx="349.2" cy="627.2" r="6.17" fill="#f06060"/>
<circle cx="349.2" cy="627.2" r="4.94" fill="none" stroke="#f7a8a0" stroke-width="0.6" opacity="0.6"/>
<circle cx="349.2" cy="627.4" r="1.5" fill="#e54343" opacity="0.8"/>
<circle cx="349.7" cy="626.9" r="1.0" fill="#e54343" opacity="0.8"/>
<circle cx="348.3" cy="626.3" r="0.7" fill="#e54343" opacity="0.8"/>
<circle cx="349.2" cy="623.9" r="1.0" fill="#e54343" opacity="0.8"/>
<circle cx="350.7" cy="628.1" r="0.7" fill="#e54343" opacity="0.8"/>
<circle cx="349.4" cy="627.1" r="0.9" fill="#e54343" opacity="0.8"/>
<circle cx="349.3" cy="626.6" r="0.7" fill="#e54343" opacity="0.8"/>
<circle cx="349.8" cy="627.5" r="1.1" fill="#e54343" opacity="0.8"/>
<circle cx="349.6" cy="626.6" r="0.8" fill="#e54343" opacity="0.8"/>
<circle cx="349.4" cy="625.4" r="0.7" fill="#f58a86" opacity="0.75"/>
<circle cx="350.0" cy="627.9" r="1.1" fill="#f58a86" opacity="0.75"/>
<circle cx="350.0" cy="628.0" r="0.9" fill="#f58a86" opacity="0.75"/>
<circle cx="352.2" cy="624.7" r="0.8" fill="#f58a86" opacity="0.75"/>
<circle cx="351.7" cy="626.5" r="0.7" fill="#f58a86" opacity="0.75"/>
<circle cx="346.2" cy="627.9" r="0.9" fill="#f58a86" opacity="0.75"/>
<circle cx="318.9" cy="616.9000000000001" r="5.82" fill="none" stroke="#55504e" stroke-width="0.8" opacity="0.5"/>
<circle cx="318.9" cy="616.9000000000001" r="5.22" fill="#f05e5e"/>
<circle cx="318.9" cy="616.9000000000001" r="2.35" fill="#c27272" opacity="0.75"/>
<circle cx="320.4" cy="618.5" r="1.4" fill="#f37a76" opacity="0.7"/>
<circle cx="322.1" cy="619.5" r="0.9" fill="#f37a76" opacity="0.7"/>
<circle cx="318.9" cy="619.3" r="1.0" fill="#f37a76" opacity="0.7"/>
<circle cx="320.9" cy="616.8" r="1.3" fill="#f37a76" opacity="0.7"/>
<circle cx="318.0" cy="618.8" r="1.2" fill="#f37a76" opacity="0.7"/>
<circle cx="317.7" cy="618.7" r="0.9" fill="#f37a76" opacity="0.7"/>
<circle cx="320.8" cy="613.1" r="1.1" fill="#f37a76" opacity="0.7"/>
<circle cx="324.1" cy="654.9000000000001" r="8.67" fill="none" stroke="#55504e" stroke-width="0.8" opacity="0.5"/>
<circle cx="324.1" cy="654.9000000000001" r="8.07" fill="#f05e5e"/>
<circle cx="324.1" cy="654.9000000000001" r="3.63" fill="#c27272" opacity="0.75"/>
<circle cx="330.2" cy="655.3" r="1.1" fill="#f37a76" opacity="0.7"/>
<circle cx="329.8" cy="650.7" r="0.9" fill="#f37a76" opacity="0.7"/>
<circle cx="327.8" cy="649.7" r="0.8" fill="#f37a76" opacity="0.7"/>
<circle cx="321.3" cy="658.1" r="0.9" fill="#f37a76" opacity="0.7"/>
<circle cx="322.0" cy="656.9" r="0.8" fill="#f37a76" opacity="0.7"/>
<circle cx="327.8" cy="652.5" r="1.1" fill="#f37a76" opacity="0.7"/>
<circle cx="328.7" cy="650.9" r="0.8" fill="#f37a76" opacity="0.7"/>
<circle cx="329.6" cy="651.8" r="1.4" fill="#f37a76" opacity="0.7"/>
<circle cx="323.3" cy="648.9" r="1.3" fill="#f37a76" opacity="0.7"/>
<circle cx="324.0" cy="660.5" r="0.9" fill="#f37a76" opacity="0.7"/>
<circle cx="325.7" cy="652.3" r="1.0" fill="#f37a76" opacity="0.7"/>
<circle cx="320.8" cy="660.4" r="0.9" fill="#f37a76" opacity="0.7"/>
<circle cx="326.7" cy="642.7" r="4.50" fill="none" stroke="#474a46" stroke-width="0.9" opacity="0.6"/>
<circle cx="326.7" cy="642.7" r="3.80" fill="#f06060"/>
<circle cx="326.7" cy="642.7" r="3.04" fill="none" stroke="#f7a8a0" stroke-width="0.6" opacity="0.6"/>
<circle cx="328.0" cy="640.8" r="1.4" fill="#e54343" opacity="0.8"/>
<circle cx="328.3" cy="644.6" r="1.3" fill="#e54343" opacity="0.8"/>
<circle cx="325.9" cy="641.1" r="0.6" fill="#e54343" opacity="0.8"/>
<circle cx="327.7" cy="641.6" r="1.0" fill="#e54343" opacity="0.8"/>
<circle cx="325.6" cy="644.5" r="1.3" fill="#e54343" opacity="0.8"/>
<circle cx="327.1" cy="642.3" r="0.9" fill="#e54343" opacity="0.8"/>
<circle cx="326.7" cy="643.0" r="0.7" fill="#f58a86" opacity="0.75"/>
<circle cx="328.8" cy="643.0" r="0.6" fill="#f58a86" opacity="0.75"/>
<circle cx="326.9" cy="642.8" r="0.9" fill="#f58a86" opacity="0.75"/>
<line x1="380.9" y1="633.3" x2="364.1" y2="633.8" stroke="#fff" stroke-width="1.5"/>
<path d="M368.0,630.3 L363.6,633.8 L368.2,637.1" fill="none" stroke="#fff" stroke-width="1.5" stroke-linecap="round" stroke-linejoin="round"/>
<text x="359" y="657.6" font-size="7.0" fill="#e2e2e2" text-anchor="middle">0</text>
<text x="376.6" y="657.6" font-size="7.0" fill="#e2e2e2" text-anchor="middle">µm</text>
<text x="393.6" y="657.6" font-size="7.0" fill="#e2e2e2" text-anchor="middle">25</text>
<line x1="355.4" y1="660.9000000000001" x2="398" y2="660.9000000000001" stroke="#e6e6e6" stroke-width="1.0"/>
<line x1="356.5" y1="659.9000000000001" x2="356.5" y2="661.0" stroke="#e6e6e6" stroke-width="0.6"/>
<line x1="360.6" y1="659.9000000000001" x2="360.6" y2="661.0" stroke="#e6e6e6" stroke-width="0.6"/>
<line x1="364.8" y1="659.9000000000001" x2="364.8" y2="661.0" stroke="#e6e6e6" stroke-width="0.6"/>
<line x1="368.9" y1="659.9000000000001" x2="368.9" y2="661.0" stroke="#e6e6e6" stroke-width="0.6"/>
<line x1="373.1" y1="659.9000000000001" x2="373.1" y2="661.0" stroke="#e6e6e6" stroke-width="0.6"/>
<line x1="377.2" y1="659.9000000000001" x2="377.2" y2="661.0" stroke="#e6e6e6" stroke-width="0.6"/>
<line x1="381.4" y1="659.9000000000001" x2="381.4" y2="661.0" stroke="#e6e6e6" stroke-width="0.6"/>
<line x1="385.6" y1="659.9000000000001" x2="385.6" y2="661.0" stroke="#e6e6e6" stroke-width="0.6"/>
<line x1="389.7" y1="659.9000000000001" x2="389.7" y2="661.0" stroke="#e6e6e6" stroke-width="0.6"/>
<line x1="393.9" y1="659.9000000000001" x2="393.9" y2="661.0" stroke="#e6e6e6" stroke-width="0.6"/>
<line x1="398.0" y1="659.9000000000001" x2="398.0" y2="661.0" stroke="#e6e6e6" stroke-width="0.6"/>
</g>
<text x="9.6" y="716.2" font-size="14.9" fill="#000" font-weight="bold">E</text>
<line x1="81.1" y1="723.1" x2="81.1" y2="865" stroke="#111" stroke-width="1.3"/>
<line x1="77.3" y1="864.6" x2="81.1" y2="864.6" stroke="#111" stroke-width="1.2"/>
<line x1="77.3" y1="837.0600000000001" x2="81.1" y2="837.0600000000001" stroke="#111" stroke-width="1.2"/>
<line x1="77.3" y1="809.52" x2="81.1" y2="809.52" stroke="#111" stroke-width="1.2"/>
<line x1="77.3" y1="781.98" x2="81.1" y2="781.98" stroke="#111" stroke-width="1.2"/>
<line x1="77.3" y1="754.44" x2="81.1" y2="754.44" stroke="#111" stroke-width="1.2"/>
<line x1="77.3" y1="726.9000000000001" x2="81.1" y2="726.9000000000001" stroke="#111" stroke-width="1.2"/>
<text x="72.3" y="730.7" font-size="10.8" fill="#111" text-anchor="end" textLength="25.0" lengthAdjust="spacingAndGlyphs">1250</text>
<text x="72.3" y="758.24" font-size="10.8" fill="#111" text-anchor="end" textLength="25.0" lengthAdjust="spacingAndGlyphs">1000</text>
<text x="72.3" y="785.78" font-size="10.8" fill="#111" text-anchor="end" textLength="18.2" lengthAdjust="spacingAndGlyphs">750</text>
<text x="72.3" y="813.3199999999999" font-size="10.8" fill="#111" text-anchor="end" textLength="18.2" lengthAdjust="spacingAndGlyphs">500</text>
<text x="72.3" y="840.86" font-size="10.8" fill="#111" text-anchor="end" textLength="18.2" lengthAdjust="spacingAndGlyphs">250</text>
<text x="72.3" y="868.4" font-size="10.8" fill="#111" text-anchor="end" textLength="6" lengthAdjust="spacingAndGlyphs">0</text>
<text transform="translate(38.7,794) rotate(-90)" font-size="11.4" fill="#111" stroke="#111" stroke-width="0.2" text-anchor="middle" textLength="134.8" lengthAdjust="spacingAndGlyphs">DiD uptake by neutrophils (gMFI)</text>
<line x1="81.1" y1="834.4" x2="232" y2="834.4" stroke="#222" stroke-width="1.2" stroke-dasharray="1.5 1.15"/>
<rect x="84.90" y="835.40" width="7.50" height="29.20" fill="#53235f" stroke="#3f1450" stroke-width="0.6"/>
<line x1="88.65" y1="835.1" x2="88.65" y2="828.7" stroke="#1a1a1a" stroke-width="1.25"/>
<line x1="86.65" y1="828.7" x2="90.65" y2="828.7" stroke="#1a1a1a" stroke-width="1.25"/>
<rect x="96.10" y="837.50" width="7.60" height="27.10" fill="#2b4a7d" stroke="#1d3866" stroke-width="0.6"/>
<line x1="99.9" y1="837.2" x2="99.9" y2="830.4" stroke="#1a1a1a" stroke-width="1.25"/>
<line x1="97.9" y1="830.4" x2="101.9" y2="830.4" stroke="#1a1a1a" stroke-width="1.25"/>
<rect x="106.90" y="841.10" width="7.70" height="23.50" fill="#6aa842" stroke="#5a9634" stroke-width="0.6"/>
<line x1="110.75" y1="840.8" x2="110.75" y2="834.6" stroke="#1a1a1a" stroke-width="1.25"/>
<line x1="108.75" y1="834.6" x2="112.75" y2="834.6" stroke="#1a1a1a" stroke-width="1.25"/>
<rect x="122.80" y="775.20" width="7.30" height="89.40" fill="#53235f" stroke="#3f1450" stroke-width="0.6"/>
<line x1="126.45" y1="774.9" x2="126.45" y2="747.3" stroke="#1a1a1a" stroke-width="1.25"/>
<line x1="124.45" y1="747.3" x2="128.45" y2="747.3" stroke="#1a1a1a" stroke-width="1.25"/>
<rect x="133.70" y="774.00" width="7.70" height="90.60" fill="#2b4a7d" stroke="#1d3866" stroke-width="0.6"/>
<line x1="137.55" y1="773.7" x2="137.55" y2="746.8" stroke="#1a1a1a" stroke-width="1.25"/>
<line x1="135.55" y1="746.8" x2="139.55" y2="746.8" stroke="#1a1a1a" stroke-width="1.25"/>
<rect x="144.90" y="826.20" width="7.60" height="38.40" fill="#6aa842" stroke="#5a9634" stroke-width="0.6"/>
<line x1="148.7" y1="825.9" x2="148.7" y2="821.8" stroke="#1a1a1a" stroke-width="1.25"/>
<line x1="146.7" y1="821.8" x2="150.7" y2="821.8" stroke="#1a1a1a" stroke-width="1.25"/>
<rect x="160.20" y="793.00" width="7.50" height="71.60" fill="#53235f" stroke="#3f1450" stroke-width="0.6"/>
<line x1="163.95" y1="792.7" x2="163.95" y2="781.8" stroke="#1a1a1a" stroke-width="1.25"/>
<line x1="161.95" y1="781.8" x2="165.95" y2="781.8" stroke="#1a1a1a" stroke-width="1.25"/>
<rect x="171.40" y="785.50" width="7.40" height="79.10" fill="#2b4a7d" stroke="#1d3866" stroke-width="0.6"/>
<line x1="175.1" y1="785.2" x2="175.1" y2="774.2" stroke="#1a1a1a" stroke-width="1.25"/>
<line x1="173.1" y1="774.2" x2="177.1" y2="774.2" stroke="#1a1a1a" stroke-width="1.25"/>
<rect x="182.70" y="827.30" width="7.30" height="37.30" fill="#6aa842" stroke="#5a9634" stroke-width="0.6"/>
<line x1="186.35000000000002" y1="827" x2="186.35000000000002" y2="823" stroke="#1a1a1a" stroke-width="1.25"/>
<line x1="184.35000000000002" y1="823" x2="188.35000000000002" y2="823" stroke="#1a1a1a" stroke-width="1.25"/>
<rect x="198.10" y="783.80" width="7.30" height="80.80" fill="#53235f" stroke="#3f1450" stroke-width="0.6"/>
<line x1="201.75" y1="783.5" x2="201.75" y2="767.2" stroke="#1a1a1a" stroke-width="1.25"/>
<line x1="199.75" y1="767.2" x2="203.75" y2="767.2" stroke="#1a1a1a" stroke-width="1.25"/>
<rect x="209.10" y="787.80" width="7.40" height="76.80" fill="#2b4a7d" stroke="#1d3866" stroke-width="0.6"/>
<line x1="212.8" y1="787.5" x2="212.8" y2="775.7" stroke="#1a1a1a" stroke-width="1.25"/>
<line x1="210.8" y1="775.7" x2="214.8" y2="775.7" stroke="#1a1a1a" stroke-width="1.25"/>
<rect x="219.90" y="828.50" width="7.30" height="36.10" fill="#6aa842" stroke="#5a9634" stroke-width="0.6"/>
<line x1="223.55" y1="828.2" x2="223.55" y2="823.5" stroke="#1a1a1a" stroke-width="1.25"/>
<line x1="221.55" y1="823.5" x2="225.55" y2="823.5" stroke="#1a1a1a" stroke-width="1.25"/>
<line x1="80.5" y1="864.8" x2="232.3" y2="864.8" stroke="#111" stroke-width="1.3"/>
<line x1="99.6" y1="864.8" x2="99.6" y2="868.5" stroke="#111" stroke-width="1.2"/>
<line x1="137.3" y1="864.8" x2="137.3" y2="868.5" stroke="#111" stroke-width="1.2"/>
<line x1="175" y1="864.8" x2="175" y2="868.5" stroke="#111" stroke-width="1.2"/>
<line x1="212.7" y1="864.8" x2="212.7" y2="868.5" stroke="#111" stroke-width="1.2"/>
<path d="M120.65,740.10 L121.18,741.52 L122.69,741.59 L121.51,742.53 L121.91,743.99 L120.65,743.15 L119.39,743.99 L119.79,742.53 L118.61,741.59 L120.12,741.52Z M124.55,740.10 L125.08,741.52 L126.59,741.59 L125.41,742.53 L125.81,743.99 L124.55,743.15 L123.29,743.99 L123.69,742.53 L122.51,741.59 L124.02,741.52Z M128.45,740.10 L128.98,741.52 L130.49,741.59 L129.31,742.53 L129.71,743.99 L128.45,743.15 L127.19,743.99 L127.59,742.53 L126.41,741.59 L127.92,741.52Z M132.35,740.10 L132.88,741.52 L134.39,741.59 L133.21,742.53 L133.61,743.99 L132.35,743.15 L131.09,743.99 L131.49,742.53 L130.31,741.59 L131.82,741.52Z" fill="#111"/>
<path d="M130.40,735.10 L130.93,736.52 L132.44,736.59 L131.26,737.53 L131.66,738.99 L130.40,738.15 L129.14,738.99 L129.54,737.53 L128.36,736.59 L129.87,736.52Z M134.33,735.10 L134.86,736.52 L136.38,736.59 L135.19,737.53 L135.60,738.99 L134.33,738.15 L133.07,738.99 L133.48,737.53 L132.29,736.59 L133.80,736.52Z M138.27,735.10 L138.80,736.52 L140.31,736.59 L139.12,737.53 L139.53,738.99 L138.27,738.15 L137.00,738.99 L137.41,737.53 L136.22,736.59 L137.74,736.52Z M142.20,735.10 L142.73,736.52 L144.24,736.59 L143.06,737.53 L143.46,738.99 L142.20,738.15 L140.94,738.99 L141.34,737.53 L140.16,736.59 L141.67,736.52Z" fill="#111"/>
<path d="M160.25,774.30 L160.78,775.72 L162.29,775.79 L161.11,776.73 L161.51,778.19 L160.25,777.35 L158.99,778.19 L159.39,776.73 L158.21,775.79 L159.72,775.72Z M164.20,774.30 L164.73,775.72 L166.24,775.79 L165.06,776.73 L165.46,778.19 L164.20,777.35 L162.94,778.19 L163.34,776.73 L162.16,775.79 L163.67,775.72Z M168.15,774.30 L168.68,775.72 L170.19,775.79 L169.01,776.73 L169.41,778.19 L168.15,777.35 L166.89,778.19 L167.29,776.73 L166.11,775.79 L167.62,775.72Z" fill="#111"/>
<path d="M169.25,766.20 L169.78,767.62 L171.29,767.69 L170.11,768.63 L170.51,770.09 L169.25,769.25 L167.99,770.09 L168.39,768.63 L167.21,767.69 L168.72,767.62Z M173.28,766.20 L173.81,767.62 L175.33,767.69 L174.14,768.63 L174.55,770.09 L173.28,769.25 L172.02,770.09 L172.43,768.63 L171.24,767.69 L172.75,767.62Z M177.32,766.20 L177.85,767.62 L179.36,767.69 L178.17,768.63 L178.58,770.09 L177.32,769.25 L176.05,770.09 L176.46,768.63 L175.27,767.69 L176.79,767.62Z M181.35,766.20 L181.88,767.62 L183.39,767.69 L182.21,768.63 L182.61,770.09 L181.35,769.25 L180.09,770.09 L180.49,768.63 L179.31,767.69 L180.82,767.62Z" fill="#111"/>
<path d="M197.85,759.60 L198.38,761.02 L199.89,761.09 L198.71,762.03 L199.11,763.49 L197.85,762.65 L196.59,763.49 L196.99,762.03 L195.81,761.09 L197.32,761.02Z M201.80,759.60 L202.33,761.02 L203.84,761.09 L202.66,762.03 L203.06,763.49 L201.80,762.65 L200.54,763.49 L200.94,762.03 L199.76,761.09 L201.27,761.02Z M205.75,759.60 L206.28,761.02 L207.79,761.09 L206.61,762.03 L207.01,763.49 L205.75,762.65 L204.49,763.49 L204.89,762.03 L203.71,761.09 L205.22,761.02Z" fill="#111"/>
<path d="M209.00,768.30 L209.53,769.72 L211.04,769.79 L209.86,770.73 L210.26,772.19 L209.00,771.35 L207.74,772.19 L208.14,770.73 L206.96,769.79 L208.47,769.72Z M213.00,768.30 L213.53,769.72 L215.04,769.79 L213.86,770.73 L214.26,772.19 L213.00,771.35 L211.74,772.19 L212.14,770.73 L210.96,769.79 L212.47,769.72Z M217.00,768.30 L217.53,769.72 L219.04,769.79 L217.86,770.73 L218.26,772.19 L217.00,771.35 L215.74,772.19 L216.14,770.73 L214.96,769.79 L216.47,769.72Z" fill="#111"/>
<text x="99.8" y="881.6" font-size="10.8" fill="#111" text-anchor="middle">-</text>
<text x="125.5" y="882.5" font-size="10.8" fill="#111" textLength="24.2" lengthAdjust="spacingAndGlyphs">fMLF</text>
<text x="165" y="882.5" font-size="10.8" fill="#111" textLength="20.2" lengthAdjust="spacingAndGlyphs">LPS</text>
<text x="199.6" y="882.5" font-size="10.8" fill="#111" textLength="26.4" lengthAdjust="spacingAndGlyphs">TNF<tspan font-family="Liberation Serif" font-size="12.1">α</tspan></text>
<rect x="44.20" y="895.80" width="3.90" height="7.30" fill="#53235f"/>
<text x="52.8" y="902.5" font-size="10.3" fill="#222" textLength="75.6" lengthAdjust="spacingAndGlyphs">no T cell stimulus</text>
<rect x="141.60" y="895.60" width="4.10" height="7.40" fill="#2b4a7d"/>
<text x="149.6" y="902.5" font-size="10.3" fill="#222" textLength="22.0" lengthAdjust="spacingAndGlyphs">IL-15</text>
<rect x="185.80" y="895.60" width="4.20" height="7.60" fill="#6aa842"/>
<text x="194.4" y="902.5" font-size="10.3" fill="#222" textLength="32.0" lengthAdjust="spacingAndGlyphs">IL-15 +</text>
<text x="230.5" y="902.5" font-size="10.3" fill="#222" textLength="38.6" lengthAdjust="spacingAndGlyphs"><tspan font-family="Liberation Serif" font-size="11.5">α</tspan>CD11b</text>
<rect x="0.5" y="0.5" width="519" height="914" fill="none" stroke="#000" stroke-width="1"/>
<rect x="1.5" y="1.5" width="517" height="912" fill="none" stroke="#8a8a8a" stroke-width="1"/>
</svg>
</body></html>
